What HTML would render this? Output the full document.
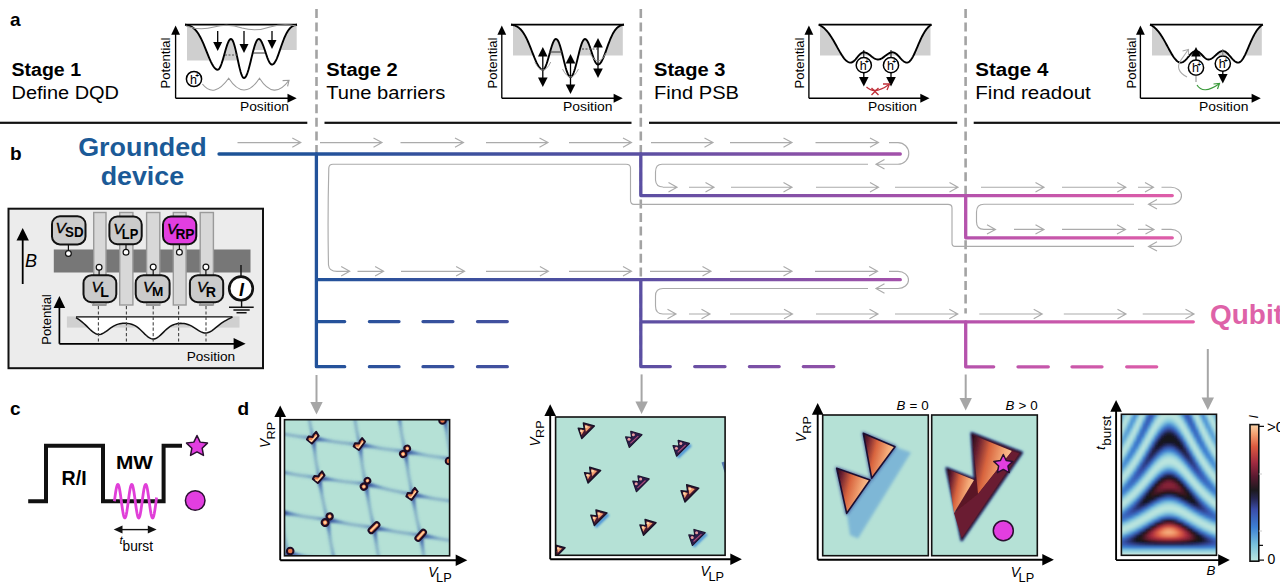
<!DOCTYPE html><html><head><meta charset="utf-8"><style>html,body{margin:0;padding:0;background:#fff;width:1280px;height:585px;overflow:hidden}svg{display:block;position:absolute;left:0;top:0;font-family:'Liberation Sans',sans-serif}</style></head><body>
<svg width="1280" height="585" viewBox="0 0 1280 585">
<defs>
<linearGradient id="lg" gradientUnits="userSpaceOnUse" x1="219" y1="0" x2="1195" y2="0">
<stop offset="0" stop-color="#1c5396"/>
<stop offset="0.1" stop-color="#22529a"/>
<stop offset="0.43" stop-color="#5a4fa2"/>
<stop offset="0.76" stop-color="#b452ac"/>
<stop offset="1" stop-color="#e35ea8"/>
</linearGradient>
<filter id="bl1" x="-20%" y="-20%" width="140%" height="140%"><feGaussianBlur stdDeviation="1.6"/></filter>
<filter id="bl2" x="-20%" y="-20%" width="140%" height="140%"><feGaussianBlur stdDeviation="0.8"/></filter>
</defs>
<text x="10" y="25.5" font-size="19" fill="#000" font-weight="bold">a</text>
<text x="10" y="159.5" font-size="19" fill="#000" font-weight="bold">b</text>
<text x="10" y="414.5" font-size="19" fill="#000" font-weight="bold">c</text>
<text x="237.5" y="414.5" font-size="19" fill="#000" font-weight="bold">d</text>
<text x="11.5" y="75.8" font-size="18.3" fill="#000" font-weight="bold" textLength="69.5" lengthAdjust="spacingAndGlyphs">Stage 1</text>
<text x="11.5" y="98.9" font-size="18.3" fill="#000" textLength="107.5" lengthAdjust="spacingAndGlyphs">Define DQD</text>
<text x="326.3" y="75.8" font-size="18.3" fill="#000" font-weight="bold" textLength="71.5" lengthAdjust="spacingAndGlyphs">Stage 2</text>
<text x="326.3" y="98.9" font-size="18.3" fill="#000" textLength="119" lengthAdjust="spacingAndGlyphs">Tune barriers</text>
<text x="654" y="75.8" font-size="18.3" fill="#000" font-weight="bold" textLength="71.5" lengthAdjust="spacingAndGlyphs">Stage 3</text>
<text x="654" y="98.9" font-size="18.3" fill="#000" textLength="85" lengthAdjust="spacingAndGlyphs">Find PSB</text>
<text x="975.3" y="75.8" font-size="18.3" fill="#000" font-weight="bold" textLength="73" lengthAdjust="spacingAndGlyphs">Stage 4</text>
<text x="975.3" y="98.9" font-size="18.3" fill="#000" textLength="115.5" lengthAdjust="spacingAndGlyphs">Find readout</text>
<rect x="0" y="121.7" width="307.3" height="2.2" fill="#111"/>
<rect x="324.5" y="121.7" width="307.0" height="2.2" fill="#111"/>
<rect x="649" y="121.7" width="308.20000000000005" height="2.2" fill="#111"/>
<rect x="973.7" y="121.7" width="306.29999999999995" height="2.2" fill="#111"/>
<line x1="316.5" y1="9" x2="316.5" y2="366" stroke="#a3a3a3" stroke-width="2.6" stroke-dasharray="9 4.6"/>
<line x1="640.8" y1="9" x2="640.8" y2="366" stroke="#a3a3a3" stroke-width="2.6" stroke-dasharray="9 4.6"/>
<line x1="965.6" y1="9" x2="965.6" y2="313.5" stroke="#a3a3a3" stroke-width="2.6" stroke-dasharray="9 4.6"/>
<path d="M187,24.6 H244 V60.5 H187 Z M244,24.6 H296.7 V50 H244 Z" fill="#cfcfcf"/>
<path d="M185.00,24.60 L185.70,24.71 L186.41,24.85 L187.11,25.01 L187.82,25.19 L188.52,25.41 L189.23,25.66 L189.93,25.94 L190.64,26.27 L191.34,26.64 L192.04,27.07 L192.75,27.55 L193.45,28.09 L194.16,28.69 L194.86,29.36 L195.57,30.10 L196.27,30.92 L196.97,31.81 L197.68,32.79 L198.38,33.84 L199.09,34.99 L199.79,36.21 L200.50,37.52 L201.20,38.90 L201.91,40.36 L202.61,41.89 L203.31,43.49 L204.02,45.14 L204.72,46.84 L205.43,48.58 L206.13,50.34 L206.84,52.11 L207.54,53.87 L208.25,55.62 L208.95,57.34 L209.65,59.00 L210.36,60.60 L211.06,62.12 L211.77,63.53 L212.47,64.83 L213.18,66.00 L213.88,67.03 L214.58,67.91 L215.29,68.62 L215.99,69.16 L216.70,69.51 L217.40,69.68 L218.11,69.63 L218.81,69.17 L219.52,68.31 L220.22,67.06 L220.92,65.46 L221.63,63.55 L222.33,61.39 L223.04,59.03 L223.74,56.55 L224.45,54.00 L225.15,51.46 L225.86,49.01 L226.56,46.70 L227.26,44.60 L227.97,42.77 L228.67,41.26 L229.38,40.11 L230.08,39.36 L230.79,39.02 L231.49,39.14 L232.19,39.81 L232.90,41.02 L233.60,42.73 L234.31,44.91 L235.01,47.47 L235.72,50.36 L236.42,53.47 L237.13,56.74 L237.83,60.05 L238.53,63.32 L239.24,66.46 L239.94,69.36 L240.65,71.94 L241.35,74.14 L242.06,75.89 L242.76,77.13 L243.47,77.84 L244.17,77.99 L244.87,77.66 L245.58,76.90 L246.28,75.72 L246.99,74.16 L247.69,72.24 L248.40,70.01 L249.10,67.52 L249.81,64.82 L250.51,61.98 L251.21,59.07 L251.92,56.14 L252.62,53.26 L253.33,50.50 L254.03,47.93 L254.74,45.59 L255.44,43.54 L256.14,41.84 L256.85,40.51 L257.55,39.58 L258.26,39.09 L258.96,39.02 L259.67,39.33 L260.37,39.98 L261.08,40.96 L261.78,42.24 L262.48,43.78 L263.19,45.55 L263.89,47.48 L264.60,49.54 L265.30,51.65 L266.01,53.78 L266.71,55.84 L267.42,57.80 L268.12,59.59 L268.82,61.16 L269.53,62.48 L270.23,63.50 L270.94,64.20 L271.64,64.55 L272.35,64.57 L273.05,64.29 L273.75,63.73 L274.46,62.91 L275.16,61.84 L275.87,60.54 L276.57,59.05 L277.28,57.38 L277.98,55.57 L278.69,53.65 L279.39,51.65 L280.09,49.61 L280.80,47.56 L281.50,45.52 L282.21,43.52 L282.91,41.59 L283.62,39.73 L284.32,37.98 L285.03,36.34 L285.73,34.82 L286.43,33.42 L287.14,32.15 L287.84,31.00 L288.55,29.97 L289.25,29.07 L289.96,28.27 L290.66,27.58 L291.36,26.98 L292.07,26.47 L292.77,26.04 L293.48,25.67 L294.18,25.37 L294.89,25.11 L295.59,24.91 L296.30,24.74 L297.00,24.60 Z" fill="#fff" stroke="none"/>
<path d="M185.00,24.60 L185.70,24.71 L186.41,24.85 L187.11,25.01 L187.82,25.19 L188.52,25.41 L189.23,25.66 L189.93,25.94 L190.64,26.27 L191.34,26.64 L192.04,27.07 L192.75,27.55 L193.45,28.09 L194.16,28.69 L194.86,29.36 L195.57,30.10 L196.27,30.92 L196.97,31.81 L197.68,32.79 L198.38,33.84 L199.09,34.99 L199.79,36.21 L200.50,37.52 L201.20,38.90 L201.91,40.36 L202.61,41.89 L203.31,43.49 L204.02,45.14 L204.72,46.84 L205.43,48.58 L206.13,50.34 L206.84,52.11 L207.54,53.87 L208.25,55.62 L208.95,57.34 L209.65,59.00 L210.36,60.60 L211.06,62.12 L211.77,63.53 L212.47,64.83 L213.18,66.00 L213.88,67.03 L214.58,67.91 L215.29,68.62 L215.99,69.16 L216.70,69.51 L217.40,69.68 L218.11,69.63 L218.81,69.17 L219.52,68.31 L220.22,67.06 L220.92,65.46 L221.63,63.55 L222.33,61.39 L223.04,59.03 L223.74,56.55 L224.45,54.00 L225.15,51.46 L225.86,49.01 L226.56,46.70 L227.26,44.60 L227.97,42.77 L228.67,41.26 L229.38,40.11 L230.08,39.36 L230.79,39.02 L231.49,39.14 L232.19,39.81 L232.90,41.02 L233.60,42.73 L234.31,44.91 L235.01,47.47 L235.72,50.36 L236.42,53.47 L237.13,56.74 L237.83,60.05 L238.53,63.32 L239.24,66.46 L239.94,69.36 L240.65,71.94 L241.35,74.14 L242.06,75.89 L242.76,77.13 L243.47,77.84 L244.17,77.99 L244.87,77.66 L245.58,76.90 L246.28,75.72 L246.99,74.16 L247.69,72.24 L248.40,70.01 L249.10,67.52 L249.81,64.82 L250.51,61.98 L251.21,59.07 L251.92,56.14 L252.62,53.26 L253.33,50.50 L254.03,47.93 L254.74,45.59 L255.44,43.54 L256.14,41.84 L256.85,40.51 L257.55,39.58 L258.26,39.09 L258.96,39.02 L259.67,39.33 L260.37,39.98 L261.08,40.96 L261.78,42.24 L262.48,43.78 L263.19,45.55 L263.89,47.48 L264.60,49.54 L265.30,51.65 L266.01,53.78 L266.71,55.84 L267.42,57.80 L268.12,59.59 L268.82,61.16 L269.53,62.48 L270.23,63.50 L270.94,64.20 L271.64,64.55 L272.35,64.57 L273.05,64.29 L273.75,63.73 L274.46,62.91 L275.16,61.84 L275.87,60.54 L276.57,59.05 L277.28,57.38 L277.98,55.57 L278.69,53.65 L279.39,51.65 L280.09,49.61 L280.80,47.56 L281.50,45.52 L282.21,43.52 L282.91,41.59 L283.62,39.73 L284.32,37.98 L285.03,36.34 L285.73,34.82 L286.43,33.42 L287.14,32.15 L287.84,31.00 L288.55,29.97 L289.25,29.07 L289.96,28.27 L290.66,27.58 L291.36,26.98 L292.07,26.47 L292.77,26.04 L293.48,25.67 L294.18,25.37 L294.89,25.11 L295.59,24.91 L296.30,24.74 L297.00,24.60" fill="none" stroke="#000" stroke-width="1.9"/>
<line x1="185" y1="24.6" x2="297" y2="24.6" stroke="#000" stroke-width="1.9"/>
<path d="M175.6,98.2 H288.7 M175.6,98.2 V33.5" stroke="#000" stroke-width="1.35" fill="none"/>
<polygon points="175.6,25.5 171.2,34.7 180.0,34.7" fill="#000"/>
<polygon points="296.7,98.2 287.5,93.7 287.5,102.7" fill="#000"/>
<path d="M186,26 Q200,31 214,27 Q228,23 242,28 Q256,32 270,27 Q284,23 296,26" fill="none" stroke="#9a9a9a" stroke-width="1.1"/>
<line x1="217.7" y1="31" x2="217.7" y2="43" stroke="#000" stroke-width="1.3"/>
<polygon points="217.7,51 213.2,42 222.2,42" fill="#000"/>
<line x1="244" y1="31" x2="244" y2="45" stroke="#000" stroke-width="1.3"/>
<polygon points="244,53 239.5,44 248.5,44" fill="#000"/>
<line x1="272" y1="31" x2="272" y2="41" stroke="#000" stroke-width="1.3"/>
<polygon points="272,49 267.5,40 276.5,40" fill="#000"/>
<line x1="225" y1="55" x2="238" y2="55" stroke="#555" stroke-width="1" stroke-dasharray="2 1.5"/>
<line x1="253" y1="53" x2="265" y2="53" stroke="#333" stroke-width="1"/>
<circle cx="194" cy="79" r="7.6" fill="#fff" stroke="#000" stroke-width="1.5"/>
<text x="193.4" y="83.6" font-size="12.5" text-anchor="middle">h</text>
<text x="197.2" y="78.2" font-size="6.5" text-anchor="middle" font-weight="bold">+</text>
<path d="M202.4,84 Q214,98.8 228.7,78.3 Q244,101.7 259.5,78.3 Q274,101 289,80.3" fill="none" stroke="#9a9a9a" stroke-width="1.1"/>
<path d="M282.6,80.6 L289,80.3 L287.6,86.4" fill="none" stroke="#9a9a9a" stroke-width="1.1"/>
<text x="169.79999999999998" y="63" font-size="13.6" fill="#000" text-anchor="middle" textLength="51" lengthAdjust="spacingAndGlyphs" transform="rotate(-90 169.79999999999998 63)">Potential</text>
<text x="240" y="110.8" font-size="13.6" fill="#000" textLength="49" lengthAdjust="spacingAndGlyphs">Position</text>
<path d="M513,24.6 H570 V55.4 H513 Z M570,24.6 H622.8 V55.4 H570 Z" fill="#cfcfcf"/>
<path d="M511.00,24.60 L511.71,24.72 L512.42,24.86 L513.13,25.03 L513.84,25.22 L514.55,25.45 L515.26,25.72 L515.97,26.02 L516.69,26.38 L517.40,26.78 L518.11,27.24 L518.82,27.76 L519.53,28.35 L520.24,29.00 L520.95,29.74 L521.66,30.55 L522.37,31.44 L523.08,32.42 L523.79,33.49 L524.50,34.65 L525.21,35.90 L525.92,37.23 L526.64,38.65 L527.35,40.16 L528.06,41.74 L528.77,43.39 L529.48,45.10 L530.19,46.86 L530.90,48.66 L531.61,50.49 L532.32,52.33 L533.03,54.16 L533.74,55.97 L534.45,57.74 L535.16,59.45 L535.87,61.08 L536.58,62.62 L537.30,64.05 L538.01,65.35 L538.72,66.50 L539.43,67.49 L540.14,68.31 L540.85,68.95 L541.56,69.39 L542.27,69.64 L542.98,69.69 L543.69,69.36 L544.40,68.60 L545.11,67.43 L545.82,65.89 L546.53,64.03 L547.25,61.88 L547.96,59.52 L548.67,57.02 L549.38,54.43 L550.09,51.85 L550.80,49.33 L551.51,46.96 L552.22,44.80 L552.93,42.92 L553.64,41.36 L554.35,40.17 L555.06,39.38 L555.77,39.02 L556.48,39.10 L557.19,39.63 L557.91,40.60 L558.62,41.97 L559.33,43.73 L560.04,45.82 L560.75,48.20 L561.46,50.81 L562.17,53.59 L562.88,56.48 L563.59,59.40 L564.30,62.29 L565.01,65.08 L565.72,67.70 L566.43,70.09 L567.14,72.20 L567.86,73.97 L568.57,75.36 L569.28,76.34 L569.99,76.88 L570.70,76.98 L571.41,76.63 L572.12,75.84 L572.83,74.63 L573.54,73.02 L574.25,71.06 L574.96,68.79 L575.67,66.26 L576.38,63.54 L577.09,60.69 L577.81,57.77 L578.52,54.86 L579.23,52.03 L579.94,49.33 L580.65,46.84 L581.36,44.61 L582.07,42.70 L582.78,41.16 L583.49,40.01 L584.20,39.28 L584.91,39.00 L585.62,39.14 L586.33,39.66 L587.04,40.53 L587.75,41.73 L588.47,43.23 L589.18,44.98 L589.89,46.94 L590.60,49.03 L591.31,51.21 L592.02,53.40 L592.73,55.55 L593.44,57.58 L594.15,59.45 L594.86,61.09 L595.57,62.46 L596.28,63.51 L596.99,64.22 L597.70,64.57 L598.42,64.55 L599.13,64.27 L599.84,63.72 L600.55,62.92 L601.26,61.89 L601.97,60.65 L602.68,59.21 L603.39,57.61 L604.10,55.87 L604.81,54.03 L605.52,52.10 L606.23,50.13 L606.94,48.14 L607.65,46.15 L608.36,44.20 L609.08,42.30 L609.79,40.47 L610.50,38.73 L611.21,37.08 L611.92,35.55 L612.63,34.13 L613.34,32.83 L614.05,31.65 L614.76,30.59 L615.47,29.64 L616.18,28.79 L616.89,28.05 L617.60,27.41 L618.31,26.85 L619.03,26.37 L619.74,25.96 L620.45,25.62 L621.16,25.33 L621.87,25.09 L622.58,24.89 L623.29,24.73 L624.00,24.60 Z" fill="#fff" stroke="none"/>
<path d="M511.00,24.60 L511.71,24.72 L512.42,24.86 L513.13,25.03 L513.84,25.22 L514.55,25.45 L515.26,25.72 L515.97,26.02 L516.69,26.38 L517.40,26.78 L518.11,27.24 L518.82,27.76 L519.53,28.35 L520.24,29.00 L520.95,29.74 L521.66,30.55 L522.37,31.44 L523.08,32.42 L523.79,33.49 L524.50,34.65 L525.21,35.90 L525.92,37.23 L526.64,38.65 L527.35,40.16 L528.06,41.74 L528.77,43.39 L529.48,45.10 L530.19,46.86 L530.90,48.66 L531.61,50.49 L532.32,52.33 L533.03,54.16 L533.74,55.97 L534.45,57.74 L535.16,59.45 L535.87,61.08 L536.58,62.62 L537.30,64.05 L538.01,65.35 L538.72,66.50 L539.43,67.49 L540.14,68.31 L540.85,68.95 L541.56,69.39 L542.27,69.64 L542.98,69.69 L543.69,69.36 L544.40,68.60 L545.11,67.43 L545.82,65.89 L546.53,64.03 L547.25,61.88 L547.96,59.52 L548.67,57.02 L549.38,54.43 L550.09,51.85 L550.80,49.33 L551.51,46.96 L552.22,44.80 L552.93,42.92 L553.64,41.36 L554.35,40.17 L555.06,39.38 L555.77,39.02 L556.48,39.10 L557.19,39.63 L557.91,40.60 L558.62,41.97 L559.33,43.73 L560.04,45.82 L560.75,48.20 L561.46,50.81 L562.17,53.59 L562.88,56.48 L563.59,59.40 L564.30,62.29 L565.01,65.08 L565.72,67.70 L566.43,70.09 L567.14,72.20 L567.86,73.97 L568.57,75.36 L569.28,76.34 L569.99,76.88 L570.70,76.98 L571.41,76.63 L572.12,75.84 L572.83,74.63 L573.54,73.02 L574.25,71.06 L574.96,68.79 L575.67,66.26 L576.38,63.54 L577.09,60.69 L577.81,57.77 L578.52,54.86 L579.23,52.03 L579.94,49.33 L580.65,46.84 L581.36,44.61 L582.07,42.70 L582.78,41.16 L583.49,40.01 L584.20,39.28 L584.91,39.00 L585.62,39.14 L586.33,39.66 L587.04,40.53 L587.75,41.73 L588.47,43.23 L589.18,44.98 L589.89,46.94 L590.60,49.03 L591.31,51.21 L592.02,53.40 L592.73,55.55 L593.44,57.58 L594.15,59.45 L594.86,61.09 L595.57,62.46 L596.28,63.51 L596.99,64.22 L597.70,64.57 L598.42,64.55 L599.13,64.27 L599.84,63.72 L600.55,62.92 L601.26,61.89 L601.97,60.65 L602.68,59.21 L603.39,57.61 L604.10,55.87 L604.81,54.03 L605.52,52.10 L606.23,50.13 L606.94,48.14 L607.65,46.15 L608.36,44.20 L609.08,42.30 L609.79,40.47 L610.50,38.73 L611.21,37.08 L611.92,35.55 L612.63,34.13 L613.34,32.83 L614.05,31.65 L614.76,30.59 L615.47,29.64 L616.18,28.79 L616.89,28.05 L617.60,27.41 L618.31,26.85 L619.03,26.37 L619.74,25.96 L620.45,25.62 L621.16,25.33 L621.87,25.09 L622.58,24.89 L623.29,24.73 L624.00,24.60" fill="none" stroke="#000" stroke-width="1.9"/>
<line x1="511" y1="24.6" x2="624" y2="24.6" stroke="#000" stroke-width="1.9"/>
<path d="M501.8,98.2 H614.8 M501.8,98.2 V33.5" stroke="#000" stroke-width="1.35" fill="none"/>
<polygon points="501.8,25.5 497.40000000000003,34.7 506.2,34.7" fill="#000"/>
<polygon points="622.8,98.2 613.5999999999999,93.7 613.5999999999999,102.7" fill="#000"/>
<line x1="542.8" y1="55" x2="542.8" y2="79" stroke="#000" stroke-width="1.3"/>
<polygon points="542.8,47 538.0,56.5 547.5999999999999,56.5" fill="#000"/>
<polygon points="542.8,87 538.0,77.5 547.5999999999999,77.5" fill="#000"/>
<path d="M534.8,62.0 Q542.8,78.0 550.8,62.0" fill="none" stroke="#999" stroke-width="0.9"/>
<line x1="570.5" y1="62" x2="570.5" y2="86" stroke="#000" stroke-width="1.3"/>
<polygon points="570.5,54 565.7,63.5 575.3,63.5" fill="#000"/>
<polygon points="570.5,94 565.7,84.5 575.3,84.5" fill="#000"/>
<path d="M562.5,69.0 Q570.5,85.0 578.5,69.0" fill="none" stroke="#999" stroke-width="0.9"/>
<line x1="598" y1="46" x2="598" y2="70" stroke="#000" stroke-width="1.3"/>
<polygon points="598,38 593.2,47.5 602.8,47.5" fill="#000"/>
<polygon points="598,78 593.2,68.5 602.8,68.5" fill="#000"/>
<path d="M590,53.0 Q598,69.0 606,53.0" fill="none" stroke="#999" stroke-width="0.9"/>
<line x1="549" y1="52" x2="562" y2="52" stroke="#444" stroke-width="1.1"/>
<line x1="582" y1="49" x2="598" y2="49" stroke="#444" stroke-width="1" stroke-dasharray="2 1.5"/>
<text x="496.6" y="63" font-size="13.6" fill="#000" text-anchor="middle" textLength="51" lengthAdjust="spacingAndGlyphs" transform="rotate(-90 496.6 63)">Potential</text>
<text x="563" y="110.8" font-size="13.6" fill="#000" textLength="49.5" lengthAdjust="spacingAndGlyphs">Position</text>
<path d="M820,24.6 H878 V55.4 H820 Z M878,24.6 H930.5 V55.4 H878 Z" fill="#cfcfcf"/>
<path d="M818.70,24.60 L819.41,24.94 L820.12,25.32 L820.83,25.73 L821.54,26.18 L822.25,26.67 L822.96,27.20 L823.67,27.78 L824.38,28.40 L825.08,29.07 L825.79,29.79 L826.50,30.56 L827.21,31.37 L827.92,32.24 L828.63,33.15 L829.34,34.11 L830.05,35.12 L830.76,36.17 L831.47,37.27 L832.18,38.40 L832.89,39.57 L833.60,40.78 L834.31,42.01 L835.02,43.26 L835.73,44.53 L836.44,45.81 L837.15,47.09 L837.85,48.37 L838.56,49.64 L839.27,50.90 L839.98,52.13 L840.69,53.32 L841.40,54.47 L842.11,55.58 L842.82,56.63 L843.53,57.61 L844.24,58.53 L844.95,59.36 L845.66,60.11 L846.37,60.77 L847.08,61.34 L847.79,61.80 L848.50,62.16 L849.21,62.42 L849.92,62.56 L850.62,62.60 L851.33,62.50 L852.04,62.26 L852.75,61.89 L853.46,61.39 L854.17,60.78 L854.88,60.08 L855.59,59.30 L856.30,58.48 L857.01,57.62 L857.72,56.76 L858.43,55.92 L859.14,55.12 L859.85,54.39 L860.56,53.74 L861.27,53.20 L861.98,52.77 L862.68,52.48 L863.39,52.32 L864.10,52.31 L864.81,52.39 L865.52,52.56 L866.23,52.81 L866.94,53.14 L867.65,53.53 L868.36,53.98 L869.07,54.48 L869.78,55.02 L870.49,55.57 L871.20,56.14 L871.91,56.70 L872.62,57.23 L873.33,57.74 L874.04,58.20 L874.75,58.61 L875.45,58.94 L876.16,59.21 L876.87,59.39 L877.58,59.48 L878.29,59.49 L879.00,59.42 L879.71,59.26 L880.42,59.02 L881.13,58.70 L881.84,58.32 L882.55,57.89 L883.26,57.41 L883.97,56.89 L884.68,56.35 L885.39,55.79 L886.10,55.24 L886.81,54.71 L887.52,54.20 L888.22,53.74 L888.93,53.32 L889.64,52.97 L890.35,52.68 L891.06,52.47 L891.77,52.34 L892.48,52.30 L893.19,52.36 L893.90,52.54 L894.61,52.83 L895.32,53.23 L896.03,53.73 L896.74,54.32 L897.45,54.99 L898.16,55.71 L898.87,56.47 L899.58,57.26 L900.28,58.05 L900.99,58.82 L901.70,59.57 L902.41,60.26 L903.12,60.89 L903.83,61.43 L904.54,61.89 L905.25,62.23 L905.96,62.47 L906.67,62.59 L907.38,62.57 L908.09,62.38 L908.80,62.01 L909.51,61.46 L910.22,60.73 L910.93,59.85 L911.64,58.82 L912.35,57.66 L913.05,56.37 L913.76,54.98 L914.47,53.50 L915.18,51.95 L915.89,50.34 L916.60,48.70 L917.31,47.04 L918.02,45.37 L918.73,43.72 L919.44,42.09 L920.15,40.49 L920.86,38.95 L921.57,37.46 L922.28,36.04 L922.99,34.69 L923.70,33.41 L924.41,32.22 L925.12,31.11 L925.82,30.08 L926.53,29.13 L927.24,28.27 L927.95,27.48 L928.66,26.77 L929.37,26.13 L930.08,25.56 L930.79,25.05 L931.50,24.60 Z" fill="#fff" stroke="none"/>
<path d="M818.70,24.60 L819.41,24.94 L820.12,25.32 L820.83,25.73 L821.54,26.18 L822.25,26.67 L822.96,27.20 L823.67,27.78 L824.38,28.40 L825.08,29.07 L825.79,29.79 L826.50,30.56 L827.21,31.37 L827.92,32.24 L828.63,33.15 L829.34,34.11 L830.05,35.12 L830.76,36.17 L831.47,37.27 L832.18,38.40 L832.89,39.57 L833.60,40.78 L834.31,42.01 L835.02,43.26 L835.73,44.53 L836.44,45.81 L837.15,47.09 L837.85,48.37 L838.56,49.64 L839.27,50.90 L839.98,52.13 L840.69,53.32 L841.40,54.47 L842.11,55.58 L842.82,56.63 L843.53,57.61 L844.24,58.53 L844.95,59.36 L845.66,60.11 L846.37,60.77 L847.08,61.34 L847.79,61.80 L848.50,62.16 L849.21,62.42 L849.92,62.56 L850.62,62.60 L851.33,62.50 L852.04,62.26 L852.75,61.89 L853.46,61.39 L854.17,60.78 L854.88,60.08 L855.59,59.30 L856.30,58.48 L857.01,57.62 L857.72,56.76 L858.43,55.92 L859.14,55.12 L859.85,54.39 L860.56,53.74 L861.27,53.20 L861.98,52.77 L862.68,52.48 L863.39,52.32 L864.10,52.31 L864.81,52.39 L865.52,52.56 L866.23,52.81 L866.94,53.14 L867.65,53.53 L868.36,53.98 L869.07,54.48 L869.78,55.02 L870.49,55.57 L871.20,56.14 L871.91,56.70 L872.62,57.23 L873.33,57.74 L874.04,58.20 L874.75,58.61 L875.45,58.94 L876.16,59.21 L876.87,59.39 L877.58,59.48 L878.29,59.49 L879.00,59.42 L879.71,59.26 L880.42,59.02 L881.13,58.70 L881.84,58.32 L882.55,57.89 L883.26,57.41 L883.97,56.89 L884.68,56.35 L885.39,55.79 L886.10,55.24 L886.81,54.71 L887.52,54.20 L888.22,53.74 L888.93,53.32 L889.64,52.97 L890.35,52.68 L891.06,52.47 L891.77,52.34 L892.48,52.30 L893.19,52.36 L893.90,52.54 L894.61,52.83 L895.32,53.23 L896.03,53.73 L896.74,54.32 L897.45,54.99 L898.16,55.71 L898.87,56.47 L899.58,57.26 L900.28,58.05 L900.99,58.82 L901.70,59.57 L902.41,60.26 L903.12,60.89 L903.83,61.43 L904.54,61.89 L905.25,62.23 L905.96,62.47 L906.67,62.59 L907.38,62.57 L908.09,62.38 L908.80,62.01 L909.51,61.46 L910.22,60.73 L910.93,59.85 L911.64,58.82 L912.35,57.66 L913.05,56.37 L913.76,54.98 L914.47,53.50 L915.18,51.95 L915.89,50.34 L916.60,48.70 L917.31,47.04 L918.02,45.37 L918.73,43.72 L919.44,42.09 L920.15,40.49 L920.86,38.95 L921.57,37.46 L922.28,36.04 L922.99,34.69 L923.70,33.41 L924.41,32.22 L925.12,31.11 L925.82,30.08 L926.53,29.13 L927.24,28.27 L927.95,27.48 L928.66,26.77 L929.37,26.13 L930.08,25.56 L930.79,25.05 L931.50,24.60" fill="none" stroke="#000" stroke-width="1.9"/>
<line x1="818.7" y1="24.6" x2="931.5" y2="24.6" stroke="#000" stroke-width="1.9"/>
<path d="M808.9,98.2 H921.5 M808.9,98.2 V33.5" stroke="#000" stroke-width="1.35" fill="none"/>
<polygon points="808.9,25.5 804.5,34.7 813.3,34.7" fill="#000"/>
<polygon points="929.5,98.2 920.3,93.7 920.3,102.7" fill="#000"/>
<line x1="863.8" y1="50" x2="863.8" y2="58" stroke="#000" stroke-width="1"/>
<circle cx="863.8" cy="65.2" r="7.6" fill="#fff" stroke="#000" stroke-width="1.5"/>
<text x="863.1999999999999" y="69.8" font-size="12.5" text-anchor="middle">h</text>
<text x="867.0" y="64.4" font-size="6.5" text-anchor="middle" font-weight="bold">+</text>
<line x1="863.8" y1="73" x2="863.8" y2="79" stroke="#000" stroke-width="1.3"/>
<polygon points="863.8,86.5 859.0,77 868.5999999999999,77" fill="#000"/>
<line x1="891" y1="50" x2="891" y2="58" stroke="#000" stroke-width="1"/>
<circle cx="891" cy="65.2" r="7.6" fill="#fff" stroke="#000" stroke-width="1.5"/>
<text x="890.4" y="69.8" font-size="12.5" text-anchor="middle">h</text>
<text x="894.2" y="64.4" font-size="6.5" text-anchor="middle" font-weight="bold">+</text>
<line x1="891" y1="73" x2="891" y2="79" stroke="#000" stroke-width="1.3"/>
<polygon points="891,86.5 886.2,77 895.8,77" fill="#000"/>
<path d="M866.5,87 Q875,95 889,84.5" fill="none" stroke="#c0303a" stroke-width="1.3"/>
<path d="M883,84 L889.5,84 L887,90" fill="none" stroke="#c0303a" stroke-width="1.3"/>
<path d="M871.5,88 L878.5,95 M878.5,88 L871.5,95" stroke="#c0303a" stroke-width="1.4"/>
<text x="804.1" y="63" font-size="13.6" fill="#000" text-anchor="middle" textLength="51" lengthAdjust="spacingAndGlyphs" transform="rotate(-90 804.1 63)">Potential</text>
<text x="868" y="110.8" font-size="13.6" fill="#000" textLength="49" lengthAdjust="spacingAndGlyphs">Position</text>
<path d="M1152,24.6 H1208 V55.4 H1152 Z M1208,24.6 H1261.8 V55.4 H1208 Z" fill="#cfcfcf"/>
<path d="M1150.00,24.60 L1150.71,24.95 L1151.42,25.34 L1152.13,25.77 L1152.84,26.24 L1153.55,26.75 L1154.26,27.31 L1154.97,27.92 L1155.68,28.57 L1156.38,29.28 L1157.09,30.03 L1157.80,30.84 L1158.51,31.70 L1159.22,32.62 L1159.93,33.58 L1160.64,34.60 L1161.35,35.66 L1162.06,36.77 L1162.77,37.93 L1163.48,39.12 L1164.19,40.35 L1164.90,41.61 L1165.61,42.90 L1166.32,44.20 L1167.03,45.52 L1167.74,46.85 L1168.45,48.17 L1169.15,49.49 L1169.86,50.78 L1170.57,52.05 L1171.28,53.29 L1171.99,54.48 L1172.70,55.62 L1173.41,56.70 L1174.12,57.71 L1174.83,58.65 L1175.54,59.49 L1176.25,60.25 L1176.96,60.91 L1177.67,61.47 L1178.38,61.92 L1179.09,62.26 L1179.80,62.48 L1180.51,62.59 L1181.22,62.58 L1181.92,62.44 L1182.63,62.19 L1183.34,61.82 L1184.05,61.34 L1184.76,60.76 L1185.47,60.10 L1186.18,59.37 L1186.89,58.58 L1187.60,57.75 L1188.31,56.91 L1189.02,56.06 L1189.73,55.23 L1190.44,54.43 L1191.15,53.68 L1191.86,53.00 L1192.57,52.40 L1193.28,51.90 L1193.98,51.50 L1194.69,51.21 L1195.40,51.04 L1196.11,51.00 L1196.82,51.09 L1197.53,51.31 L1198.24,51.66 L1198.95,52.12 L1199.66,52.68 L1200.37,53.32 L1201.08,54.02 L1201.79,54.76 L1202.50,55.51 L1203.21,56.26 L1203.92,56.98 L1204.63,57.64 L1205.34,58.23 L1206.05,58.72 L1206.75,59.10 L1207.46,59.36 L1208.17,59.49 L1208.88,59.48 L1209.59,59.38 L1210.30,59.17 L1211.01,58.87 L1211.72,58.48 L1212.43,58.01 L1213.14,57.48 L1213.85,56.89 L1214.56,56.26 L1215.27,55.61 L1215.98,54.94 L1216.69,54.29 L1217.40,53.66 L1218.11,53.07 L1218.82,52.53 L1219.52,52.05 L1220.23,51.66 L1220.94,51.35 L1221.65,51.13 L1222.36,51.02 L1223.07,51.01 L1223.78,51.12 L1224.49,51.34 L1225.20,51.68 L1225.91,52.13 L1226.62,52.67 L1227.33,53.30 L1228.04,54.01 L1228.75,54.77 L1229.46,55.57 L1230.17,56.41 L1230.88,57.24 L1231.58,58.07 L1232.29,58.88 L1233.00,59.64 L1233.71,60.34 L1234.42,60.96 L1235.13,61.50 L1235.84,61.94 L1236.55,62.27 L1237.26,62.49 L1237.97,62.59 L1238.68,62.56 L1239.39,62.34 L1240.10,61.95 L1240.81,61.37 L1241.52,60.64 L1242.23,59.74 L1242.94,58.70 L1243.65,57.52 L1244.35,56.23 L1245.06,54.83 L1245.77,53.35 L1246.48,51.80 L1247.19,50.20 L1247.90,48.56 L1248.61,46.90 L1249.32,45.24 L1250.03,43.60 L1250.74,41.98 L1251.45,40.39 L1252.16,38.86 L1252.87,37.38 L1253.58,35.97 L1254.29,34.62 L1255.00,33.36 L1255.71,32.17 L1256.42,31.07 L1257.12,30.05 L1257.83,29.11 L1258.54,28.25 L1259.25,27.47 L1259.96,26.76 L1260.67,26.12 L1261.38,25.55 L1262.09,25.05 L1262.80,24.60 Z" fill="#fff" stroke="none"/>
<path d="M1150.00,24.60 L1150.71,24.95 L1151.42,25.34 L1152.13,25.77 L1152.84,26.24 L1153.55,26.75 L1154.26,27.31 L1154.97,27.92 L1155.68,28.57 L1156.38,29.28 L1157.09,30.03 L1157.80,30.84 L1158.51,31.70 L1159.22,32.62 L1159.93,33.58 L1160.64,34.60 L1161.35,35.66 L1162.06,36.77 L1162.77,37.93 L1163.48,39.12 L1164.19,40.35 L1164.90,41.61 L1165.61,42.90 L1166.32,44.20 L1167.03,45.52 L1167.74,46.85 L1168.45,48.17 L1169.15,49.49 L1169.86,50.78 L1170.57,52.05 L1171.28,53.29 L1171.99,54.48 L1172.70,55.62 L1173.41,56.70 L1174.12,57.71 L1174.83,58.65 L1175.54,59.49 L1176.25,60.25 L1176.96,60.91 L1177.67,61.47 L1178.38,61.92 L1179.09,62.26 L1179.80,62.48 L1180.51,62.59 L1181.22,62.58 L1181.92,62.44 L1182.63,62.19 L1183.34,61.82 L1184.05,61.34 L1184.76,60.76 L1185.47,60.10 L1186.18,59.37 L1186.89,58.58 L1187.60,57.75 L1188.31,56.91 L1189.02,56.06 L1189.73,55.23 L1190.44,54.43 L1191.15,53.68 L1191.86,53.00 L1192.57,52.40 L1193.28,51.90 L1193.98,51.50 L1194.69,51.21 L1195.40,51.04 L1196.11,51.00 L1196.82,51.09 L1197.53,51.31 L1198.24,51.66 L1198.95,52.12 L1199.66,52.68 L1200.37,53.32 L1201.08,54.02 L1201.79,54.76 L1202.50,55.51 L1203.21,56.26 L1203.92,56.98 L1204.63,57.64 L1205.34,58.23 L1206.05,58.72 L1206.75,59.10 L1207.46,59.36 L1208.17,59.49 L1208.88,59.48 L1209.59,59.38 L1210.30,59.17 L1211.01,58.87 L1211.72,58.48 L1212.43,58.01 L1213.14,57.48 L1213.85,56.89 L1214.56,56.26 L1215.27,55.61 L1215.98,54.94 L1216.69,54.29 L1217.40,53.66 L1218.11,53.07 L1218.82,52.53 L1219.52,52.05 L1220.23,51.66 L1220.94,51.35 L1221.65,51.13 L1222.36,51.02 L1223.07,51.01 L1223.78,51.12 L1224.49,51.34 L1225.20,51.68 L1225.91,52.13 L1226.62,52.67 L1227.33,53.30 L1228.04,54.01 L1228.75,54.77 L1229.46,55.57 L1230.17,56.41 L1230.88,57.24 L1231.58,58.07 L1232.29,58.88 L1233.00,59.64 L1233.71,60.34 L1234.42,60.96 L1235.13,61.50 L1235.84,61.94 L1236.55,62.27 L1237.26,62.49 L1237.97,62.59 L1238.68,62.56 L1239.39,62.34 L1240.10,61.95 L1240.81,61.37 L1241.52,60.64 L1242.23,59.74 L1242.94,58.70 L1243.65,57.52 L1244.35,56.23 L1245.06,54.83 L1245.77,53.35 L1246.48,51.80 L1247.19,50.20 L1247.90,48.56 L1248.61,46.90 L1249.32,45.24 L1250.03,43.60 L1250.74,41.98 L1251.45,40.39 L1252.16,38.86 L1252.87,37.38 L1253.58,35.97 L1254.29,34.62 L1255.00,33.36 L1255.71,32.17 L1256.42,31.07 L1257.12,30.05 L1257.83,29.11 L1258.54,28.25 L1259.25,27.47 L1259.96,26.76 L1260.67,26.12 L1261.38,25.55 L1262.09,25.05 L1262.80,24.60" fill="none" stroke="#000" stroke-width="1.9"/>
<line x1="1150" y1="24.6" x2="1262.8" y2="24.6" stroke="#000" stroke-width="1.9"/>
<path d="M1140.4,98.2 H1252.8 M1140.4,98.2 V33.5" stroke="#000" stroke-width="1.35" fill="none"/>
<polygon points="1140.4,25.5 1136.0,34.7 1144.8000000000002,34.7" fill="#000"/>
<polygon points="1260.8,98.2 1251.6,93.7 1251.6,102.7" fill="#000"/>
<circle cx="1196" cy="67.7" r="7.6" fill="#fff" stroke="#000" stroke-width="1.5"/>
<text x="1195.4" y="72.3" font-size="12.5" text-anchor="middle">h</text>
<text x="1199.2" y="66.9" font-size="6.5" text-anchor="middle" font-weight="bold">+</text>
<circle cx="1222.8" cy="63.6" r="7.6" fill="#fff" stroke="#000" stroke-width="1.5"/>
<text x="1222.2" y="68.2" font-size="12.5" text-anchor="middle">h</text>
<text x="1226.0" y="62.800000000000004" font-size="6.5" text-anchor="middle" font-weight="bold">+</text>
<line x1="1196" y1="60" x2="1196" y2="55" stroke="#000" stroke-width="1.3"/>
<polygon points="1196,47 1191.2,56.5 1200.8,56.5" fill="#000"/>
<line x1="1222.8" y1="49" x2="1222.8" y2="56" stroke="#777" stroke-width="1"/>
<line x1="1222.8" y1="71" x2="1222.8" y2="76" stroke="#000" stroke-width="1.3"/>
<polygon points="1222.8,83.5 1218,74 1227.6,74" fill="#000"/>
<line x1="1196" y1="75.5" x2="1196" y2="82" stroke="#888" stroke-width="1"/>
<path d="M1197,85 Q1203,95 1219,84" fill="none" stroke="#3a9a3a" stroke-width="1.2"/>
<path d="M1213.5,84 L1219.5,83.5 L1217.5,89" fill="none" stroke="#3a9a3a" stroke-width="1.2"/>
<path d="M1187,77 Q1174,70 1181,60 L1188,50" fill="none" stroke="#aaa" stroke-width="1.1"/>
<path d="M1182.5,51 L1188.5,49.5 L1188.5,56" fill="none" stroke="#aaa" stroke-width="1.1"/>
<text x="1135.6" y="63" font-size="13.6" fill="#000" text-anchor="middle" textLength="51" lengthAdjust="spacingAndGlyphs" transform="rotate(-90 1135.6 63)">Potential</text>
<text x="1199" y="110.8" font-size="13.6" fill="#000" textLength="49.40000000000009" lengthAdjust="spacingAndGlyphs">Position</text>
<text x="142.4" y="155.9" font-size="26.6" fill="#1b5a97" font-weight="bold" text-anchor="middle" textLength="128.5" lengthAdjust="spacingAndGlyphs">Grounded</text>
<text x="142.4" y="185.2" font-size="26.6" fill="#1b5a97" font-weight="bold" text-anchor="middle" textLength="83.5" lengthAdjust="spacingAndGlyphs">device</text>
<text x="1210" y="324.2" font-size="27.2" fill="#de62a8" font-weight="bold" textLength="73" lengthAdjust="spacingAndGlyphs">Qubit</text>
<path d="M237.5,142.6 H300.8 M292.3,137.9 L300.8,142.6 L292.3,147.29999999999998 M320,142.6 H382 M373.5,137.9 L382,142.6 L373.5,147.29999999999998 M400.5,142.6 H463.5 M455.0,137.9 L463.5,142.6 L455.0,147.29999999999998 M486,142.6 H548 M539.5,137.9 L548,142.6 L539.5,147.29999999999998 M569,142.6 H631.5 M623.0,137.9 L631.5,142.6 L623.0,147.29999999999998 M651,142.6 H713 M704.5,137.9 L713,142.6 L704.5,147.29999999999998 M730,142.6 H792 M783.5,137.9 L792,142.6 L783.5,147.29999999999998 M815.5,142.6 H878.5 M870.0,137.9 L878.5,142.6 L870.0,147.29999999999998 " stroke="#ababab" stroke-width="1.15" fill="none"/>
<path d="M889,142.6 H898 A10.8,10.8 0 0 1 898,164.2 H876 M884.5,159.5 L876,164.2 L884.5,168.89999999999998 M868,164.2 H662 Q655.5,164.2 655.5,172 V180 Q656,187 663,187" stroke="#ababab" stroke-width="1.15" fill="none"/>
<path d="M663,187.2 H677 M668.5,182.5 L677,187.2 L668.5,191.89999999999998 M689,187.2 H714 M705.5,182.5 L714,187.2 L705.5,191.89999999999998 M731,187.2 H792 M783.5,182.5 L792,187.2 L783.5,191.89999999999998 M816,187.2 H878.5 M870.0,182.5 L878.5,187.2 L870.0,191.89999999999998 M895,187.2 H958 M949.5,182.5 L958,187.2 L949.5,191.89999999999998 M981,187.2 H1044 M1035.5,182.5 L1044,187.2 L1035.5,191.89999999999998 M1062,187.2 H1125.8 M1117.3,182.5 L1125.8,187.2 L1117.3,191.89999999999998 M1138,187.2 H1153.5 M1145.0,182.5 L1153.5,187.2 L1145.0,191.89999999999998 " stroke="#ababab" stroke-width="1.15" fill="none"/>
<path d="M1161.5,187.2 H1171 A10.5,8.5 0 0 1 1171,204.2 H1148.5 M1157.0,199.5 L1148.5,204.2 L1157.0,208.89999999999998 M1134,204.2 H984 Q976.5,204.2 976.5,212 V221.5 Q976.5,229.4 984,229.4" stroke="#ababab" stroke-width="1.15" fill="none"/>
<path d="M984,229.4 H995.5 M987.0,224.70000000000002 L995.5,229.4 L987.0,234.1 M1014,229.4 H1044 M1035.5,224.70000000000002 L1044,229.4 L1035.5,234.1 M1062,229.4 H1125.5 M1117.0,224.70000000000002 L1125.5,229.4 L1117.0,234.1 M1138,229.4 H1154 M1145.5,224.70000000000002 L1154,229.4 L1145.5,234.1 " stroke="#ababab" stroke-width="1.15" fill="none"/>
<path d="M1161.5,229.4 H1171 A10.5,8.5 0 0 1 1171,246.4 H1148.5 M1157.0,241.70000000000002 L1148.5,246.4 L1157.0,251.1 M1134,246.4 H955 Q952,246.4 952,243 V208 Q952,204.4 948,204.4 H634 Q630.5,204.4 630.5,200 V168 Q630.5,164.2 626,164.2 H333 Q329,164.2 328.8,168 Q327.5,220 328.5,265 Q329,271.3 337,271.3" stroke="#ababab" stroke-width="1.15" fill="none"/>
<path d="M337,271.3 H349.7 M341.2,266.6 L349.7,271.3 L341.2,276.0 M357.5,271.3 H383.6 M375.1,266.6 L383.6,271.3 L375.1,276.0 M401,271.3 H464.6 M456.1,266.6 L464.6,271.3 L456.1,276.0 M486,271.3 H548.4 M539.9,266.6 L548.4,271.3 L539.9,276.0 M569,271.3 H631.5 M623.0,266.6 L631.5,271.3 L623.0,276.0 M650,271.3 H711 M702.5,266.6 L711,271.3 L702.5,276.0 M730,271.3 H792 M783.5,266.6 L792,271.3 L783.5,276.0 M815,271.3 H877.6 M869.1,266.6 L877.6,271.3 L869.1,276.0 " stroke="#ababab" stroke-width="1.15" fill="none"/>
<path d="M889,271.3 H898 A10.5,8.6 0 0 1 898,288.5 H876 M884.5,283.8 L876,288.5 L884.5,293.2 M868,288.5 H663 Q655.5,288.5 655.5,296 V306 Q655.5,314 663,314" stroke="#ababab" stroke-width="1.15" fill="none"/>
<path d="M663,314 H676 M667.5,309.3 L676,314 L667.5,318.7 M689,314 H710 M701.5,309.3 L710,314 L701.5,318.7 M730,314 H792.5 M784.0,309.3 L792.5,314 L784.0,318.7 M816,314 H878 M869.5,309.3 L878,314 L869.5,318.7 M895,314 H957.8 M949.3,309.3 L957.8,314 L949.3,318.7 M979.3,314 H1042.2 M1033.7,309.3 L1042.2,314 L1033.7,318.7 M1063.8,314 H1126 M1117.5,309.3 L1126,314 L1117.5,318.7 M1142.7,314 H1194 M1185.5,309.3 L1194,314 L1185.5,318.7 " stroke="#ababab" stroke-width="1.15" fill="none"/>
<path d="M219,154 H900.3" stroke="url(#lg)" stroke-width="3.3" fill="none" stroke-linecap="round" stroke-linejoin="round"/>
<path d="M316.4,154 V366.7 H344.7 M316.4,279.7 H900.3 M316.4,321.6 H344.7" stroke="url(#lg)" stroke-width="3.3" fill="none" stroke-linecap="round" stroke-linejoin="round"/>
<path d="M369.4,321.6 H399 M423,321.6 H452.9 M477.5,321.6 H507.3 M369.4,366.7 H399 M423,366.7 H452.9 M477.5,366.7 H507.3 " stroke="url(#lg)" stroke-width="3.3" fill="none" stroke-linecap="round" stroke-linejoin="round"/>
<path d="M640.8,154 V195.6 H1172.3 M640.8,279.7 V366.6 H670.3 M640.8,321.8 H1193.3" stroke="url(#lg)" stroke-width="3.3" fill="none" stroke-linecap="round" stroke-linejoin="round"/>
<path d="M694.7,366.6 H725 M749.4,366.6 H779.2 M803.3,366.6 H833.8 " stroke="url(#lg)" stroke-width="3.3" fill="none" stroke-linecap="round" stroke-linejoin="round"/>
<path d="M965.7,195.6 V237.8 H1172.3 M965.7,321.8 V366.8 H993.7" stroke="url(#lg)" stroke-width="3.3" fill="none" stroke-linecap="round" stroke-linejoin="round"/>
<path d="M1018,366.8 H1048.3 M1072,366.8 H1102 M1126.7,366.8 H1156.7 " stroke="url(#lg)" stroke-width="3.3" fill="none" stroke-linecap="round" stroke-linejoin="round"/>
<line x1="316.5" y1="375" x2="316.5" y2="406.6" stroke="#a6a6a6" stroke-width="2"/>
<polygon points="316.5,414.6 310.3,402.1 322.7,402.1" fill="#a6a6a6"/>
<line x1="641.6" y1="374.4" x2="641.6" y2="406" stroke="#a6a6a6" stroke-width="2"/>
<polygon points="641.6,414 635.4,401.5 647.8000000000001,401.5" fill="#a6a6a6"/>
<line x1="965.7" y1="374.5" x2="965.7" y2="402.4" stroke="#a6a6a6" stroke-width="2"/>
<polygon points="965.7,410.4 959.5,397.9 971.9000000000001,397.9" fill="#a6a6a6"/>
<line x1="1207.8" y1="349" x2="1207.8" y2="402" stroke="#a6a6a6" stroke-width="2"/>
<polygon points="1207.8,410 1201.6,397.5 1214.0,397.5" fill="#a6a6a6"/>
<rect x="8.5" y="208.7" width="254.5" height="159.5" fill="#ececec" stroke="#111" stroke-width="2"/>
<line x1="22.7" y1="284" x2="22.7" y2="238" stroke="#000" stroke-width="1.8"/>
<polygon points="22.7,228 16.5,240.5 28.9,240.5" fill="#000"/>
<text x="25" y="266.5" font-size="18" fill="#000" font-style="italic">B</text>
<rect x="53.8" y="249.5" width="196.7" height="23" fill="#777"/>
<rect x="93.7" y="212.5" width="12.299999999999997" height="92.5" fill="#d8d8d8" stroke="#9a9a9a" stroke-width="1.4"/>
<rect x="119.7" y="212.5" width="13.200000000000003" height="92.5" fill="#d8d8d8" stroke="#9a9a9a" stroke-width="1.4"/>
<rect x="146.6" y="212.5" width="13.200000000000017" height="92.5" fill="#d8d8d8" stroke="#9a9a9a" stroke-width="1.4"/>
<rect x="173.3" y="212.5" width="12.799999999999983" height="92.5" fill="#d8d8d8" stroke="#9a9a9a" stroke-width="1.4"/>
<rect x="200.2" y="212.5" width="13.200000000000017" height="92.5" fill="#d8d8d8" stroke="#9a9a9a" stroke-width="1.4"/>
<rect x="52" y="216.3" width="33.5" height="28.099999999999994" rx="8" ry="8" fill="#cbcbcb" stroke="#111" stroke-width="2"/>
<text x="55.6" y="232.5" font-size="15.5" font-style="italic" stroke="#000" stroke-width="0.35">V</text>
<text x="65.0" y="236.70000000000002" font-size="13.8" font-weight="bold" textLength="18.5" lengthAdjust="spacingAndGlyphs">SD</text>
<line x1="68.4" y1="244.4" x2="68.4" y2="253.5" stroke="#111" stroke-width="1.2"/>
<circle cx="68.4" cy="253.5" r="2.9" fill="#fff" stroke="#111" stroke-width="1.2"/>
<rect x="109.4" y="216.5" width="32.29999999999998" height="27.69999999999999" rx="8" ry="8" fill="#cbcbcb" stroke="#111" stroke-width="2"/>
<text x="113.30000000000001" y="233.8" font-size="15.5" font-style="italic" stroke="#000" stroke-width="0.35">V</text>
<text x="121.80000000000001" y="238.5" font-size="13.8" font-weight="bold" textLength="16.5" lengthAdjust="spacingAndGlyphs">LP</text>
<line x1="126" y1="244.2" x2="126" y2="252.3" stroke="#111" stroke-width="1.2"/>
<circle cx="126" cy="252.3" r="2.9" fill="#fff" stroke="#111" stroke-width="1.2"/>
<rect x="163" y="216.5" width="33.30000000000001" height="27.69999999999999" rx="8" ry="8" fill="#e23ee0" stroke="#111" stroke-width="2"/>
<text x="166.89999999999998" y="233.8" font-size="15.5" font-style="italic" stroke="#000" stroke-width="0.35">V</text>
<text x="175.39999999999998" y="238.5" font-size="13.8" font-weight="bold" textLength="19" lengthAdjust="spacingAndGlyphs">RP</text>
<line x1="179.4" y1="244.2" x2="179.4" y2="252.3" stroke="#111" stroke-width="1.2"/>
<circle cx="179.4" cy="252.3" r="2.9" fill="#fff" stroke="#111" stroke-width="1.2"/>
<rect x="83.5" y="275.2" width="32.8" height="27.0" rx="8" ry="8" fill="#cbcbcb" stroke="#111" stroke-width="2"/>
<text x="91.5" y="291.7" font-size="15.5" font-style="italic" stroke="#000" stroke-width="0.35">V</text>
<text x="100.3" y="296.9" font-size="14.2" font-weight="bold">L</text>
<line x1="99.1" y1="275.2" x2="99.1" y2="267.2" stroke="#111" stroke-width="1.2"/>
<circle cx="99.1" cy="267.2" r="2.9" fill="#fff" stroke="#111" stroke-width="1.2"/>
<rect x="135.7" y="275.2" width="33.900000000000006" height="27.0" rx="8" ry="8" fill="#cbcbcb" stroke="#111" stroke-width="2"/>
<text x="143.09999999999997" y="291.7" font-size="15.5" font-style="italic" stroke="#000" stroke-width="0.35">V</text>
<text x="151.89999999999998" y="296.2" font-size="13.6" font-weight="bold">M</text>
<line x1="153.2" y1="275.2" x2="153.2" y2="267.1" stroke="#111" stroke-width="1.2"/>
<circle cx="153.2" cy="267.1" r="2.9" fill="#fff" stroke="#111" stroke-width="1.2"/>
<rect x="189.9" y="275.2" width="33.29999999999998" height="27.0" rx="8" ry="8" fill="#cbcbcb" stroke="#111" stroke-width="2"/>
<text x="197.0" y="291.7" font-size="15.5" font-style="italic" stroke="#000" stroke-width="0.35">V</text>
<text x="205.79999999999998" y="296.9" font-size="14.2" font-weight="bold">R</text>
<line x1="205.9" y1="275.2" x2="205.9" y2="267.1" stroke="#111" stroke-width="1.2"/>
<circle cx="205.9" cy="267.1" r="2.9" fill="#fff" stroke="#111" stroke-width="1.2"/>
<rect x="92.1" y="303.5" width="14" height="2.5" fill="#999"/>
<rect x="146.2" y="303.5" width="14" height="2.5" fill="#999"/>
<rect x="198.9" y="303.5" width="14" height="2.5" fill="#999"/>
<line x1="241" y1="264.9" x2="241" y2="276" stroke="#111" stroke-width="1.4"/>
<circle cx="241" cy="288.4" r="11.8" fill="#fff" stroke="#111" stroke-width="2.6"/>
<text x="241.5" y="295.5" font-size="18" font-style="italic" font-weight="bold" text-anchor="middle">I</text>
<line x1="241.6" y1="300.5" x2="241.6" y2="307.3" stroke="#111" stroke-width="1.4"/>
<path d="M229,307.3 H253.7 M233.4,310 H249.7 M236.5,312.7 H246.6" stroke="#111" stroke-width="1.4"/>
<rect x="66.9" y="316.4" width="172.6" height="11.2" fill="#d0d0d0"/>
<path d="M76.00,317.60 L77.56,318.63 L79.13,319.71 L80.69,320.87 L82.26,322.11 L83.82,323.46 L85.38,324.89 L86.95,326.40 L88.51,327.94 L90.08,329.45 L91.64,330.88 L93.20,332.15 L94.77,333.19 L96.33,333.94 L97.90,334.36 L99.46,334.43 L101.02,334.15 L102.59,333.57 L104.15,332.72 L105.72,331.68 L107.28,330.53 L108.84,329.35 L110.41,328.19 L111.97,327.11 L113.54,326.14 L115.10,325.32 L116.66,324.65 L118.23,324.12 L119.79,323.73 L121.36,323.45 L122.92,323.29 L124.48,323.22 L126.05,323.25 L127.61,323.38 L129.18,323.62 L130.74,323.98 L132.30,324.48 L133.87,325.13 L135.43,325.96 L137.00,326.97 L138.56,328.16 L140.12,329.51 L141.69,330.99 L143.25,332.54 L144.82,334.09 L146.38,335.56 L147.94,336.86 L149.51,337.90 L151.07,338.63 L152.64,338.97 L154.20,338.92 L155.76,338.46 L157.33,337.64 L158.89,336.52 L160.46,335.16 L162.02,333.66 L163.58,332.10 L165.15,330.57 L166.71,329.12 L168.28,327.82 L169.84,326.68 L171.40,325.72 L172.97,324.95 L174.53,324.34 L176.10,323.90 L177.66,323.60 L179.22,323.42 L180.79,323.36 L182.35,323.40 L183.92,323.56 L185.48,323.83 L187.04,324.22 L188.61,324.74 L190.17,325.39 L191.74,326.17 L193.30,327.07 L194.86,328.05 L196.43,329.09 L197.99,330.12 L199.56,331.08 L201.12,331.90 L202.68,332.53 L204.25,332.91 L205.81,333.01 L207.38,332.81 L208.94,332.31 L210.50,331.54 L212.07,330.56 L213.63,329.41 L215.20,328.16 L216.76,326.88 L218.32,325.60 L219.89,324.38 L221.45,323.23 L223.02,322.17 L224.58,321.19 L226.14,320.29 L227.71,319.44 L229.27,318.63 L230.84,317.84 L232.40,317.04 Z" fill="#fff"/>
<path d="M76.00,317.60 L77.56,318.63 L79.13,319.71 L80.69,320.87 L82.26,322.11 L83.82,323.46 L85.38,324.89 L86.95,326.40 L88.51,327.94 L90.08,329.45 L91.64,330.88 L93.20,332.15 L94.77,333.19 L96.33,333.94 L97.90,334.36 L99.46,334.43 L101.02,334.15 L102.59,333.57 L104.15,332.72 L105.72,331.68 L107.28,330.53 L108.84,329.35 L110.41,328.19 L111.97,327.11 L113.54,326.14 L115.10,325.32 L116.66,324.65 L118.23,324.12 L119.79,323.73 L121.36,323.45 L122.92,323.29 L124.48,323.22 L126.05,323.25 L127.61,323.38 L129.18,323.62 L130.74,323.98 L132.30,324.48 L133.87,325.13 L135.43,325.96 L137.00,326.97 L138.56,328.16 L140.12,329.51 L141.69,330.99 L143.25,332.54 L144.82,334.09 L146.38,335.56 L147.94,336.86 L149.51,337.90 L151.07,338.63 L152.64,338.97 L154.20,338.92 L155.76,338.46 L157.33,337.64 L158.89,336.52 L160.46,335.16 L162.02,333.66 L163.58,332.10 L165.15,330.57 L166.71,329.12 L168.28,327.82 L169.84,326.68 L171.40,325.72 L172.97,324.95 L174.53,324.34 L176.10,323.90 L177.66,323.60 L179.22,323.42 L180.79,323.36 L182.35,323.40 L183.92,323.56 L185.48,323.83 L187.04,324.22 L188.61,324.74 L190.17,325.39 L191.74,326.17 L193.30,327.07 L194.86,328.05 L196.43,329.09 L197.99,330.12 L199.56,331.08 L201.12,331.90 L202.68,332.53 L204.25,332.91 L205.81,333.01 L207.38,332.81 L208.94,332.31 L210.50,331.54 L212.07,330.56 L213.63,329.41 L215.20,328.16 L216.76,326.88 L218.32,325.60 L219.89,324.38 L221.45,323.23 L223.02,322.17 L224.58,321.19 L226.14,320.29 L227.71,319.44 L229.27,318.63 L230.84,317.84 L232.40,317.04" fill="none" stroke="#111" stroke-width="1.5"/>
<line x1="76" y1="316.8" x2="232.4" y2="316.8" stroke="#111" stroke-width="1.3"/>
<line x1="98.4" y1="306" x2="98.4" y2="343" stroke="#444" stroke-width="1.1" stroke-dasharray="3.2 2.2"/>
<line x1="126.4" y1="306" x2="126.4" y2="343" stroke="#444" stroke-width="1.1" stroke-dasharray="3.2 2.2"/>
<line x1="153.2" y1="306" x2="153.2" y2="343" stroke="#444" stroke-width="1.1" stroke-dasharray="3.2 2.2"/>
<line x1="178.6" y1="306" x2="178.6" y2="343" stroke="#444" stroke-width="1.1" stroke-dasharray="3.2 2.2"/>
<line x1="206" y1="306" x2="206" y2="343" stroke="#444" stroke-width="1.1" stroke-dasharray="3.2 2.2"/>
<path d="M59.4,343.8 H236 M59.4,343.8 V306" stroke="#000" stroke-width="1.7" fill="none"/>
<polygon points="59.4,296 53.6,308 65.2,308" fill="#000"/>
<polygon points="245.6,343.8 233.6,338 233.6,349.6" fill="#000"/>
<text x="51" y="319.5" font-size="13.2" fill="#000" text-anchor="middle" textLength="50.5" lengthAdjust="spacingAndGlyphs" transform="rotate(-90 51 319.5)">Potential</text>
<text x="186.7" y="361" font-size="13.6" fill="#000" textLength="48.5" lengthAdjust="spacingAndGlyphs">Position</text>
<path d="M28.2,501.3 H46 V445.8 H103 V501.3 H163.6 V445.8 H182" fill="none" stroke="#111" stroke-width="4"/>
<text x="61.6" y="485.3" font-size="19.5" fill="#000" font-weight="bold" textLength="25" lengthAdjust="spacingAndGlyphs">R/I</text>
<text x="116" y="468.9" font-size="18.5" fill="#000" font-weight="bold" textLength="37" lengthAdjust="spacingAndGlyphs">MW</text>
<polyline points="114.40,501.20 114.66,499.21 114.93,497.24 115.19,495.34 115.46,493.51 115.72,491.80 115.98,490.21 116.25,488.79 116.51,487.54 116.77,486.48 117.04,485.64 117.30,485.01 117.57,484.61 117.83,484.45 118.09,484.53 118.36,484.84 118.62,485.39 118.88,486.16 119.15,487.15 119.41,488.33 119.68,489.70 119.94,491.22 120.20,492.90 120.47,494.69 120.73,496.57 120.99,498.51 121.26,500.50 121.52,502.50 121.79,504.47 122.05,506.40 122.31,508.26 122.58,510.02 122.84,511.65 123.10,513.13 123.37,514.44 123.63,515.57 123.90,516.49 124.16,517.20 124.42,517.67 124.69,517.92 124.95,517.92 125.21,517.69 125.48,517.23 125.74,516.53 126.01,515.62 126.27,514.51 126.53,513.20 126.80,511.73 127.06,510.10 127.32,508.35 127.59,506.50 127.85,504.57 128.12,502.60 128.38,500.60 128.64,498.62 128.91,496.67 129.17,494.78 129.43,492.99 129.70,491.31 129.96,489.77 130.22,488.40 130.49,487.20 130.75,486.21 131.02,485.43 131.28,484.87 131.54,484.54 131.81,484.45 132.07,484.60 132.34,484.98 132.60,485.60 132.86,486.43 133.13,487.48 133.39,488.72 133.65,490.14 133.92,491.71 134.18,493.42 134.44,495.24 134.71,497.14 134.97,499.10 135.24,501.10 135.50,503.09 135.76,505.05 136.03,506.97 136.29,508.80 136.56,510.52 136.82,512.11 137.08,513.54 137.35,514.80 137.61,515.87 137.87,516.73 138.14,517.36 138.40,517.77 138.67,517.94 138.93,517.88 139.19,517.58 139.46,517.04 139.72,516.28 139.98,515.31 140.25,514.14 140.51,512.78 140.78,511.26 141.04,509.59 141.30,507.81 141.57,505.93 141.83,503.99 142.09,502.00 142.36,500.01 142.62,498.03 142.89,496.10 143.15,494.23 143.41,492.47 143.68,490.83 143.94,489.34 144.20,488.02 144.47,486.88 144.73,485.95 145.00,485.24 145.26,484.75 145.52,484.49 145.79,484.47 146.05,484.69 146.31,485.14 146.58,485.82 146.84,486.72 147.11,487.83 147.37,489.12 147.63,490.59 147.90,492.21 148.16,493.95 148.42,495.80 148.69,497.72 148.95,499.70 149.22,501.69 149.48,503.68 149.74,505.63 150.01,507.52 150.27,509.32 150.53,511.01 150.80,512.55 151.06,513.94 151.32,515.14 151.59,516.15 151.85,516.94 152.12,517.51 152.38,517.85 152.64,517.95 152.91,517.81 153.17,517.44 153.44,516.84 153.70,516.02 153.96,514.98 154.23,513.75 154.49,512.34 154.75,510.78 155.02,509.07 155.28,507.26 155.55,505.36 155.81,503.40 156.07,501.41 156.34,499.41 156.60,497.45" fill="none" stroke="#e03fd8" stroke-width="2.8"/>
<line x1="120" y1="529.6" x2="151" y2="529.6" stroke="#111" stroke-width="1.4"/>
<polygon points="113.7,529.6 122.5,525.6 122.5,533.6" fill="#111"/>
<polygon points="156.6,529.6 147.8,525.6 147.8,533.6" fill="#111"/>
<text x="119.6" y="544.2" font-size="11.5" fill="#000" font-style="italic">t</text>
<text x="122.5" y="551.3" font-size="13.8" fill="#000" textLength="30.5" lengthAdjust="spacingAndGlyphs">burst</text>
<polygon points="197.00,435.50 200.17,442.13 207.46,443.10 202.14,448.17 203.47,455.40 197.00,451.90 190.53,455.40 191.86,448.17 186.54,443.10 193.83,442.13" fill="#e23ee0" stroke="#2a1030" stroke-width="1.5" stroke-linejoin="round"/>
<circle cx="195.2" cy="500.5" r="9.8" fill="#e23ee0" stroke="#2a1030" stroke-width="1.5"/>
<clipPath id="cp1"><rect x="284.5" y="419.7" width="165.10000000000002" height="136.09999999999997"/></clipPath>
<rect x="284.5" y="419.7" width="165.10000000000002" height="136.09999999999997" fill="#b5e1d6"/>
<g clip-path="url(#cp1)">
<path d="M259.5,389.9 Q282.8,394.6 306.0,397.4 M306.0,397.4 Q329.3,401.6 352.6,403.8 M352.6,403.8 Q375.4,408.1 398.1,410.5 M398.1,410.5 Q421.4,415.2 444.6,418.0 M266.5,430.9 Q289.8,435.6 313.0,438.4 M313.0,438.4 Q336.3,442.6 359.6,444.8 M359.6,444.8 Q382.4,449.1 405.1,451.5 M405.1,451.5 Q428.4,456.2 451.6,459.0 M272.4,470.4 Q295.6,475.1 318.9,477.9 M318.9,477.9 Q342.2,481.9 365.6,483.9 M365.6,483.9 Q389.0,490.2 412.3,494.6 M412.3,494.6 Q435.6,499.4 458.8,502.1 M280.8,512.3 Q304.1,517.0 327.3,519.8 M327.3,519.8 Q350.6,524.8 374.0,527.7 M374.0,527.7 Q397.4,532.5 420.7,535.3 M420.7,535.3 Q443.9,540.0 467.2,542.8 M287.8,553.3 Q311.1,558.0 334.3,560.8 M334.3,560.8 Q357.6,565.8 381.0,568.7 M381.0,568.7 Q404.4,573.5 427.7,576.3 M427.7,576.3 Q450.9,581.0 474.2,583.8 M259.5,389.9 Q262.0,410.4 266.5,430.9 M266.5,430.9 Q268.4,450.6 272.4,470.4 M272.4,470.4 Q275.6,491.3 280.8,512.3 M280.8,512.3 Q283.3,532.8 287.8,553.3 M306.0,397.4 Q308.5,417.9 313.0,438.4 M313.0,438.4 Q314.9,458.1 318.9,477.9 M318.9,477.9 Q322.1,498.8 327.3,519.8 M327.3,519.8 Q329.8,540.3 334.3,560.8 M352.6,403.8 Q355.1,424.3 359.6,444.8 M359.6,444.8 Q361.6,464.4 365.6,483.9 M365.6,483.9 Q368.8,505.8 374.0,527.7 M374.0,527.7 Q376.5,548.2 381.0,568.7 M398.1,410.5 Q400.6,431.0 405.1,451.5 M405.1,451.5 Q407.7,473.1 412.3,494.6 M412.3,494.6 Q415.5,515.0 420.7,535.3 M420.7,535.3 Q423.2,555.8 427.7,576.3 M444.6,418.0 Q447.1,438.5 451.6,459.0 M451.6,459.0 Q454.2,480.6 458.8,502.1 M458.8,502.1 Q462.0,522.5 467.2,542.8 M467.2,542.8 Q469.7,563.3 474.2,583.8 " stroke="#4a86c8" stroke-width="4" fill="none" opacity="0.22" filter="url(#bl1)"/>
<path d="M259.5,389.9 Q282.8,394.6 306.0,397.4 M306.0,397.4 Q329.3,401.6 352.6,403.8 M352.6,403.8 Q375.4,408.1 398.1,410.5 M398.1,410.5 Q421.4,415.2 444.6,418.0 M266.5,430.9 Q289.8,435.6 313.0,438.4 M313.0,438.4 Q336.3,442.6 359.6,444.8 M359.6,444.8 Q382.4,449.1 405.1,451.5 M405.1,451.5 Q428.4,456.2 451.6,459.0 M272.4,470.4 Q295.6,475.1 318.9,477.9 M318.9,477.9 Q342.2,481.9 365.6,483.9 M365.6,483.9 Q389.0,490.2 412.3,494.6 M412.3,494.6 Q435.6,499.4 458.8,502.1 M280.8,512.3 Q304.1,517.0 327.3,519.8 M327.3,519.8 Q350.6,524.8 374.0,527.7 M374.0,527.7 Q397.4,532.5 420.7,535.3 M420.7,535.3 Q443.9,540.0 467.2,542.8 M287.8,553.3 Q311.1,558.0 334.3,560.8 M334.3,560.8 Q357.6,565.8 381.0,568.7 M381.0,568.7 Q404.4,573.5 427.7,576.3 M427.7,576.3 Q450.9,581.0 474.2,583.8 M259.5,389.9 Q262.0,410.4 266.5,430.9 M266.5,430.9 Q268.4,450.6 272.4,470.4 M272.4,470.4 Q275.6,491.3 280.8,512.3 M280.8,512.3 Q283.3,532.8 287.8,553.3 M306.0,397.4 Q308.5,417.9 313.0,438.4 M313.0,438.4 Q314.9,458.1 318.9,477.9 M318.9,477.9 Q322.1,498.8 327.3,519.8 M327.3,519.8 Q329.8,540.3 334.3,560.8 M352.6,403.8 Q355.1,424.3 359.6,444.8 M359.6,444.8 Q361.6,464.4 365.6,483.9 M365.6,483.9 Q368.8,505.8 374.0,527.7 M374.0,527.7 Q376.5,548.2 381.0,568.7 M398.1,410.5 Q400.6,431.0 405.1,451.5 M405.1,451.5 Q407.7,473.1 412.3,494.6 M412.3,494.6 Q415.5,515.0 420.7,535.3 M420.7,535.3 Q423.2,555.8 427.7,576.3 M444.6,418.0 Q447.1,438.5 451.6,459.0 M451.6,459.0 Q454.2,480.6 458.8,502.1 M458.8,502.1 Q462.0,522.5 467.2,542.8 M467.2,542.8 Q469.7,563.3 474.2,583.8 " stroke="#26348a" stroke-width="1.2" fill="none" opacity="0.3" filter="url(#bl2)"/>
<defs><linearGradient id="w1" gradientUnits="userSpaceOnUse" x1="259.5" y1="389.9" x2="282.8" y2="393.6"><stop offset="0" stop-color="#1a2478" stop-opacity="0.95"/><stop offset="0.4" stop-color="#2a50a8" stop-opacity="0.52"/><stop offset="1" stop-color="#4a80c0" stop-opacity="0"/></linearGradient><linearGradient id="w2" gradientUnits="userSpaceOnUse" x1="259.5" y1="389.9" x2="263.4" y2="412.4"><stop offset="0" stop-color="#1a2478" stop-opacity="0.9"/><stop offset="0.4" stop-color="#2a50a8" stop-opacity="0.50"/><stop offset="1" stop-color="#4a80c0" stop-opacity="0"/></linearGradient><linearGradient id="w3" gradientUnits="userSpaceOnUse" x1="259.5" y1="389.9" x2="243.2" y2="387.3"><stop offset="0" stop-color="#1a2478" stop-opacity="0.6"/><stop offset="0.4" stop-color="#2a50a8" stop-opacity="0.33"/><stop offset="1" stop-color="#4a80c0" stop-opacity="0"/></linearGradient><linearGradient id="w4" gradientUnits="userSpaceOnUse" x1="259.5" y1="389.9" x2="257.1" y2="375.5"><stop offset="0" stop-color="#1a2478" stop-opacity="0.6"/><stop offset="0.4" stop-color="#2a50a8" stop-opacity="0.33"/><stop offset="1" stop-color="#4a80c0" stop-opacity="0"/></linearGradient><linearGradient id="w5" gradientUnits="userSpaceOnUse" x1="306.0" y1="397.4" x2="329.3" y2="400.6"><stop offset="0" stop-color="#1a2478" stop-opacity="0.95"/><stop offset="0.4" stop-color="#2a50a8" stop-opacity="0.52"/><stop offset="1" stop-color="#4a80c0" stop-opacity="0"/></linearGradient><linearGradient id="w6" gradientUnits="userSpaceOnUse" x1="306.0" y1="397.4" x2="309.9" y2="419.9"><stop offset="0" stop-color="#1a2478" stop-opacity="0.9"/><stop offset="0.4" stop-color="#2a50a8" stop-opacity="0.50"/><stop offset="1" stop-color="#4a80c0" stop-opacity="0"/></linearGradient><linearGradient id="w7" gradientUnits="userSpaceOnUse" x1="306.0" y1="397.4" x2="289.7" y2="394.8"><stop offset="0" stop-color="#1a2478" stop-opacity="0.6"/><stop offset="0.4" stop-color="#2a50a8" stop-opacity="0.33"/><stop offset="1" stop-color="#4a80c0" stop-opacity="0"/></linearGradient><linearGradient id="w8" gradientUnits="userSpaceOnUse" x1="306.0" y1="397.4" x2="303.6" y2="383.0"><stop offset="0" stop-color="#1a2478" stop-opacity="0.6"/><stop offset="0.4" stop-color="#2a50a8" stop-opacity="0.33"/><stop offset="1" stop-color="#4a80c0" stop-opacity="0"/></linearGradient><linearGradient id="w9" gradientUnits="userSpaceOnUse" x1="352.6" y1="403.8" x2="375.4" y2="407.1"><stop offset="0" stop-color="#1a2478" stop-opacity="0.95"/><stop offset="0.4" stop-color="#2a50a8" stop-opacity="0.52"/><stop offset="1" stop-color="#4a80c0" stop-opacity="0"/></linearGradient><linearGradient id="w10" gradientUnits="userSpaceOnUse" x1="352.6" y1="403.8" x2="356.5" y2="426.4"><stop offset="0" stop-color="#1a2478" stop-opacity="0.9"/><stop offset="0.4" stop-color="#2a50a8" stop-opacity="0.50"/><stop offset="1" stop-color="#4a80c0" stop-opacity="0"/></linearGradient><linearGradient id="w11" gradientUnits="userSpaceOnUse" x1="352.6" y1="403.8" x2="336.3" y2="401.6"><stop offset="0" stop-color="#1a2478" stop-opacity="0.6"/><stop offset="0.4" stop-color="#2a50a8" stop-opacity="0.33"/><stop offset="1" stop-color="#4a80c0" stop-opacity="0"/></linearGradient><linearGradient id="w12" gradientUnits="userSpaceOnUse" x1="352.6" y1="403.8" x2="350.2" y2="389.4"><stop offset="0" stop-color="#1a2478" stop-opacity="0.6"/><stop offset="0.4" stop-color="#2a50a8" stop-opacity="0.33"/><stop offset="1" stop-color="#4a80c0" stop-opacity="0"/></linearGradient><linearGradient id="w13" gradientUnits="userSpaceOnUse" x1="398.1" y1="410.5" x2="421.4" y2="414.2"><stop offset="0" stop-color="#1a2478" stop-opacity="0.95"/><stop offset="0.4" stop-color="#2a50a8" stop-opacity="0.52"/><stop offset="1" stop-color="#4a80c0" stop-opacity="0"/></linearGradient><linearGradient id="w14" gradientUnits="userSpaceOnUse" x1="398.1" y1="410.5" x2="402.0" y2="433.1"><stop offset="0" stop-color="#1a2478" stop-opacity="0.9"/><stop offset="0.4" stop-color="#2a50a8" stop-opacity="0.50"/><stop offset="1" stop-color="#4a80c0" stop-opacity="0"/></linearGradient><linearGradient id="w15" gradientUnits="userSpaceOnUse" x1="398.1" y1="410.5" x2="382.2" y2="408.2"><stop offset="0" stop-color="#1a2478" stop-opacity="0.6"/><stop offset="0.4" stop-color="#2a50a8" stop-opacity="0.33"/><stop offset="1" stop-color="#4a80c0" stop-opacity="0"/></linearGradient><linearGradient id="w16" gradientUnits="userSpaceOnUse" x1="398.1" y1="410.5" x2="395.7" y2="396.1"><stop offset="0" stop-color="#1a2478" stop-opacity="0.6"/><stop offset="0.4" stop-color="#2a50a8" stop-opacity="0.33"/><stop offset="1" stop-color="#4a80c0" stop-opacity="0"/></linearGradient><linearGradient id="w17" gradientUnits="userSpaceOnUse" x1="444.6" y1="418.0" x2="467.9" y2="421.8"><stop offset="0" stop-color="#1a2478" stop-opacity="0.95"/><stop offset="0.4" stop-color="#2a50a8" stop-opacity="0.52"/><stop offset="1" stop-color="#4a80c0" stop-opacity="0"/></linearGradient><linearGradient id="w18" gradientUnits="userSpaceOnUse" x1="444.6" y1="418.0" x2="448.5" y2="440.6"><stop offset="0" stop-color="#1a2478" stop-opacity="0.9"/><stop offset="0.4" stop-color="#2a50a8" stop-opacity="0.50"/><stop offset="1" stop-color="#4a80c0" stop-opacity="0"/></linearGradient><linearGradient id="w19" gradientUnits="userSpaceOnUse" x1="444.6" y1="418.0" x2="428.3" y2="415.4"><stop offset="0" stop-color="#1a2478" stop-opacity="0.6"/><stop offset="0.4" stop-color="#2a50a8" stop-opacity="0.33"/><stop offset="1" stop-color="#4a80c0" stop-opacity="0"/></linearGradient><linearGradient id="w20" gradientUnits="userSpaceOnUse" x1="444.6" y1="418.0" x2="442.2" y2="403.6"><stop offset="0" stop-color="#1a2478" stop-opacity="0.6"/><stop offset="0.4" stop-color="#2a50a8" stop-opacity="0.33"/><stop offset="1" stop-color="#4a80c0" stop-opacity="0"/></linearGradient><linearGradient id="w21" gradientUnits="userSpaceOnUse" x1="266.5" y1="430.9" x2="289.8" y2="434.6"><stop offset="0" stop-color="#1a2478" stop-opacity="0.95"/><stop offset="0.4" stop-color="#2a50a8" stop-opacity="0.52"/><stop offset="1" stop-color="#4a80c0" stop-opacity="0"/></linearGradient><linearGradient id="w22" gradientUnits="userSpaceOnUse" x1="266.5" y1="430.9" x2="269.7" y2="452.6"><stop offset="0" stop-color="#1a2478" stop-opacity="0.9"/><stop offset="0.4" stop-color="#2a50a8" stop-opacity="0.50"/><stop offset="1" stop-color="#4a80c0" stop-opacity="0"/></linearGradient><linearGradient id="w23" gradientUnits="userSpaceOnUse" x1="266.5" y1="430.9" x2="250.2" y2="428.3"><stop offset="0" stop-color="#1a2478" stop-opacity="0.6"/><stop offset="0.4" stop-color="#2a50a8" stop-opacity="0.33"/><stop offset="1" stop-color="#4a80c0" stop-opacity="0"/></linearGradient><linearGradient id="w24" gradientUnits="userSpaceOnUse" x1="266.5" y1="430.9" x2="264.1" y2="416.5"><stop offset="0" stop-color="#1a2478" stop-opacity="0.6"/><stop offset="0.4" stop-color="#2a50a8" stop-opacity="0.33"/><stop offset="1" stop-color="#4a80c0" stop-opacity="0"/></linearGradient><linearGradient id="w25" gradientUnits="userSpaceOnUse" x1="313.0" y1="438.4" x2="336.3" y2="441.6"><stop offset="0" stop-color="#1a2478" stop-opacity="0.95"/><stop offset="0.4" stop-color="#2a50a8" stop-opacity="0.52"/><stop offset="1" stop-color="#4a80c0" stop-opacity="0"/></linearGradient><linearGradient id="w26" gradientUnits="userSpaceOnUse" x1="313.0" y1="438.4" x2="316.2" y2="460.1"><stop offset="0" stop-color="#1a2478" stop-opacity="0.9"/><stop offset="0.4" stop-color="#2a50a8" stop-opacity="0.50"/><stop offset="1" stop-color="#4a80c0" stop-opacity="0"/></linearGradient><linearGradient id="w27" gradientUnits="userSpaceOnUse" x1="313.0" y1="438.4" x2="296.7" y2="435.8"><stop offset="0" stop-color="#1a2478" stop-opacity="0.6"/><stop offset="0.4" stop-color="#2a50a8" stop-opacity="0.33"/><stop offset="1" stop-color="#4a80c0" stop-opacity="0"/></linearGradient><linearGradient id="w28" gradientUnits="userSpaceOnUse" x1="313.0" y1="438.4" x2="310.6" y2="424.0"><stop offset="0" stop-color="#1a2478" stop-opacity="0.6"/><stop offset="0.4" stop-color="#2a50a8" stop-opacity="0.33"/><stop offset="1" stop-color="#4a80c0" stop-opacity="0"/></linearGradient><linearGradient id="w29" gradientUnits="userSpaceOnUse" x1="359.6" y1="444.8" x2="382.4" y2="448.1"><stop offset="0" stop-color="#1a2478" stop-opacity="0.95"/><stop offset="0.4" stop-color="#2a50a8" stop-opacity="0.52"/><stop offset="1" stop-color="#4a80c0" stop-opacity="0"/></linearGradient><linearGradient id="w30" gradientUnits="userSpaceOnUse" x1="359.6" y1="444.8" x2="362.9" y2="466.3"><stop offset="0" stop-color="#1a2478" stop-opacity="0.9"/><stop offset="0.4" stop-color="#2a50a8" stop-opacity="0.50"/><stop offset="1" stop-color="#4a80c0" stop-opacity="0"/></linearGradient><linearGradient id="w31" gradientUnits="userSpaceOnUse" x1="359.6" y1="444.8" x2="343.3" y2="442.6"><stop offset="0" stop-color="#1a2478" stop-opacity="0.6"/><stop offset="0.4" stop-color="#2a50a8" stop-opacity="0.33"/><stop offset="1" stop-color="#4a80c0" stop-opacity="0"/></linearGradient><linearGradient id="w32" gradientUnits="userSpaceOnUse" x1="359.6" y1="444.8" x2="357.2" y2="430.4"><stop offset="0" stop-color="#1a2478" stop-opacity="0.6"/><stop offset="0.4" stop-color="#2a50a8" stop-opacity="0.33"/><stop offset="1" stop-color="#4a80c0" stop-opacity="0"/></linearGradient><linearGradient id="w33" gradientUnits="userSpaceOnUse" x1="405.1" y1="451.5" x2="428.4" y2="455.2"><stop offset="0" stop-color="#1a2478" stop-opacity="0.95"/><stop offset="0.4" stop-color="#2a50a8" stop-opacity="0.52"/><stop offset="1" stop-color="#4a80c0" stop-opacity="0"/></linearGradient><linearGradient id="w34" gradientUnits="userSpaceOnUse" x1="405.1" y1="451.5" x2="409.1" y2="475.2"><stop offset="0" stop-color="#1a2478" stop-opacity="0.9"/><stop offset="0.4" stop-color="#2a50a8" stop-opacity="0.50"/><stop offset="1" stop-color="#4a80c0" stop-opacity="0"/></linearGradient><linearGradient id="w35" gradientUnits="userSpaceOnUse" x1="405.1" y1="451.5" x2="389.2" y2="449.2"><stop offset="0" stop-color="#1a2478" stop-opacity="0.6"/><stop offset="0.4" stop-color="#2a50a8" stop-opacity="0.33"/><stop offset="1" stop-color="#4a80c0" stop-opacity="0"/></linearGradient><linearGradient id="w36" gradientUnits="userSpaceOnUse" x1="405.1" y1="451.5" x2="402.7" y2="437.1"><stop offset="0" stop-color="#1a2478" stop-opacity="0.6"/><stop offset="0.4" stop-color="#2a50a8" stop-opacity="0.33"/><stop offset="1" stop-color="#4a80c0" stop-opacity="0"/></linearGradient><linearGradient id="w37" gradientUnits="userSpaceOnUse" x1="451.6" y1="459.0" x2="474.9" y2="462.8"><stop offset="0" stop-color="#1a2478" stop-opacity="0.95"/><stop offset="0.4" stop-color="#2a50a8" stop-opacity="0.52"/><stop offset="1" stop-color="#4a80c0" stop-opacity="0"/></linearGradient><linearGradient id="w38" gradientUnits="userSpaceOnUse" x1="451.6" y1="459.0" x2="455.6" y2="482.7"><stop offset="0" stop-color="#1a2478" stop-opacity="0.9"/><stop offset="0.4" stop-color="#2a50a8" stop-opacity="0.50"/><stop offset="1" stop-color="#4a80c0" stop-opacity="0"/></linearGradient><linearGradient id="w39" gradientUnits="userSpaceOnUse" x1="451.6" y1="459.0" x2="435.3" y2="456.4"><stop offset="0" stop-color="#1a2478" stop-opacity="0.6"/><stop offset="0.4" stop-color="#2a50a8" stop-opacity="0.33"/><stop offset="1" stop-color="#4a80c0" stop-opacity="0"/></linearGradient><linearGradient id="w40" gradientUnits="userSpaceOnUse" x1="451.6" y1="459.0" x2="449.2" y2="444.6"><stop offset="0" stop-color="#1a2478" stop-opacity="0.6"/><stop offset="0.4" stop-color="#2a50a8" stop-opacity="0.33"/><stop offset="1" stop-color="#4a80c0" stop-opacity="0"/></linearGradient><linearGradient id="w41" gradientUnits="userSpaceOnUse" x1="272.4" y1="470.4" x2="295.6" y2="474.1"><stop offset="0" stop-color="#1a2478" stop-opacity="0.95"/><stop offset="0.4" stop-color="#2a50a8" stop-opacity="0.52"/><stop offset="1" stop-color="#4a80c0" stop-opacity="0"/></linearGradient><linearGradient id="w42" gradientUnits="userSpaceOnUse" x1="272.4" y1="470.4" x2="277.0" y2="493.4"><stop offset="0" stop-color="#1a2478" stop-opacity="0.9"/><stop offset="0.4" stop-color="#2a50a8" stop-opacity="0.50"/><stop offset="1" stop-color="#4a80c0" stop-opacity="0"/></linearGradient><linearGradient id="w43" gradientUnits="userSpaceOnUse" x1="272.4" y1="470.4" x2="256.1" y2="467.8"><stop offset="0" stop-color="#1a2478" stop-opacity="0.6"/><stop offset="0.4" stop-color="#2a50a8" stop-opacity="0.33"/><stop offset="1" stop-color="#4a80c0" stop-opacity="0"/></linearGradient><linearGradient id="w44" gradientUnits="userSpaceOnUse" x1="272.4" y1="470.4" x2="270.3" y2="456.6"><stop offset="0" stop-color="#1a2478" stop-opacity="0.6"/><stop offset="0.4" stop-color="#2a50a8" stop-opacity="0.33"/><stop offset="1" stop-color="#4a80c0" stop-opacity="0"/></linearGradient><linearGradient id="w45" gradientUnits="userSpaceOnUse" x1="318.9" y1="477.9" x2="342.2" y2="480.9"><stop offset="0" stop-color="#1a2478" stop-opacity="0.95"/><stop offset="0.4" stop-color="#2a50a8" stop-opacity="0.52"/><stop offset="1" stop-color="#4a80c0" stop-opacity="0"/></linearGradient><linearGradient id="w46" gradientUnits="userSpaceOnUse" x1="318.9" y1="477.9" x2="323.5" y2="500.9"><stop offset="0" stop-color="#1a2478" stop-opacity="0.9"/><stop offset="0.4" stop-color="#2a50a8" stop-opacity="0.50"/><stop offset="1" stop-color="#4a80c0" stop-opacity="0"/></linearGradient><linearGradient id="w47" gradientUnits="userSpaceOnUse" x1="318.9" y1="477.9" x2="302.6" y2="475.3"><stop offset="0" stop-color="#1a2478" stop-opacity="0.6"/><stop offset="0.4" stop-color="#2a50a8" stop-opacity="0.33"/><stop offset="1" stop-color="#4a80c0" stop-opacity="0"/></linearGradient><linearGradient id="w48" gradientUnits="userSpaceOnUse" x1="318.9" y1="477.9" x2="316.8" y2="464.1"><stop offset="0" stop-color="#1a2478" stop-opacity="0.6"/><stop offset="0.4" stop-color="#2a50a8" stop-opacity="0.33"/><stop offset="1" stop-color="#4a80c0" stop-opacity="0"/></linearGradient><linearGradient id="w49" gradientUnits="userSpaceOnUse" x1="365.6" y1="483.9" x2="389.0" y2="489.2"><stop offset="0" stop-color="#1a2478" stop-opacity="0.95"/><stop offset="0.4" stop-color="#2a50a8" stop-opacity="0.52"/><stop offset="1" stop-color="#4a80c0" stop-opacity="0"/></linearGradient><linearGradient id="w50" gradientUnits="userSpaceOnUse" x1="365.6" y1="483.9" x2="370.2" y2="508.0"><stop offset="0" stop-color="#1a2478" stop-opacity="0.9"/><stop offset="0.4" stop-color="#2a50a8" stop-opacity="0.50"/><stop offset="1" stop-color="#4a80c0" stop-opacity="0"/></linearGradient><linearGradient id="w51" gradientUnits="userSpaceOnUse" x1="365.6" y1="483.9" x2="349.3" y2="481.8"><stop offset="0" stop-color="#1a2478" stop-opacity="0.6"/><stop offset="0.4" stop-color="#2a50a8" stop-opacity="0.33"/><stop offset="1" stop-color="#4a80c0" stop-opacity="0"/></linearGradient><linearGradient id="w52" gradientUnits="userSpaceOnUse" x1="365.6" y1="483.9" x2="363.5" y2="470.2"><stop offset="0" stop-color="#1a2478" stop-opacity="0.6"/><stop offset="0.4" stop-color="#2a50a8" stop-opacity="0.33"/><stop offset="1" stop-color="#4a80c0" stop-opacity="0"/></linearGradient><linearGradient id="w53" gradientUnits="userSpaceOnUse" x1="412.3" y1="494.6" x2="435.6" y2="498.4"><stop offset="0" stop-color="#1a2478" stop-opacity="0.95"/><stop offset="0.4" stop-color="#2a50a8" stop-opacity="0.52"/><stop offset="1" stop-color="#4a80c0" stop-opacity="0"/></linearGradient><linearGradient id="w54" gradientUnits="userSpaceOnUse" x1="412.3" y1="494.6" x2="416.9" y2="517.0"><stop offset="0" stop-color="#1a2478" stop-opacity="0.9"/><stop offset="0.4" stop-color="#2a50a8" stop-opacity="0.50"/><stop offset="1" stop-color="#4a80c0" stop-opacity="0"/></linearGradient><linearGradient id="w55" gradientUnits="userSpaceOnUse" x1="412.3" y1="494.6" x2="396.0" y2="490.9"><stop offset="0" stop-color="#1a2478" stop-opacity="0.6"/><stop offset="0.4" stop-color="#2a50a8" stop-opacity="0.33"/><stop offset="1" stop-color="#4a80c0" stop-opacity="0"/></linearGradient><linearGradient id="w56" gradientUnits="userSpaceOnUse" x1="412.3" y1="494.6" x2="409.8" y2="479.5"><stop offset="0" stop-color="#1a2478" stop-opacity="0.6"/><stop offset="0.4" stop-color="#2a50a8" stop-opacity="0.33"/><stop offset="1" stop-color="#4a80c0" stop-opacity="0"/></linearGradient><linearGradient id="w57" gradientUnits="userSpaceOnUse" x1="458.8" y1="502.1" x2="482.1" y2="505.9"><stop offset="0" stop-color="#1a2478" stop-opacity="0.95"/><stop offset="0.4" stop-color="#2a50a8" stop-opacity="0.52"/><stop offset="1" stop-color="#4a80c0" stop-opacity="0"/></linearGradient><linearGradient id="w58" gradientUnits="userSpaceOnUse" x1="458.8" y1="502.1" x2="463.4" y2="524.5"><stop offset="0" stop-color="#1a2478" stop-opacity="0.9"/><stop offset="0.4" stop-color="#2a50a8" stop-opacity="0.50"/><stop offset="1" stop-color="#4a80c0" stop-opacity="0"/></linearGradient><linearGradient id="w59" gradientUnits="userSpaceOnUse" x1="458.8" y1="502.1" x2="442.5" y2="499.5"><stop offset="0" stop-color="#1a2478" stop-opacity="0.6"/><stop offset="0.4" stop-color="#2a50a8" stop-opacity="0.33"/><stop offset="1" stop-color="#4a80c0" stop-opacity="0"/></linearGradient><linearGradient id="w60" gradientUnits="userSpaceOnUse" x1="458.8" y1="502.1" x2="456.3" y2="487.0"><stop offset="0" stop-color="#1a2478" stop-opacity="0.6"/><stop offset="0.4" stop-color="#2a50a8" stop-opacity="0.33"/><stop offset="1" stop-color="#4a80c0" stop-opacity="0"/></linearGradient><linearGradient id="w61" gradientUnits="userSpaceOnUse" x1="280.8" y1="512.3" x2="304.1" y2="516.0"><stop offset="0" stop-color="#1a2478" stop-opacity="0.95"/><stop offset="0.4" stop-color="#2a50a8" stop-opacity="0.52"/><stop offset="1" stop-color="#4a80c0" stop-opacity="0"/></linearGradient><linearGradient id="w62" gradientUnits="userSpaceOnUse" x1="280.8" y1="512.3" x2="284.7" y2="534.8"><stop offset="0" stop-color="#1a2478" stop-opacity="0.9"/><stop offset="0.4" stop-color="#2a50a8" stop-opacity="0.50"/><stop offset="1" stop-color="#4a80c0" stop-opacity="0"/></linearGradient><linearGradient id="w63" gradientUnits="userSpaceOnUse" x1="280.8" y1="512.3" x2="264.5" y2="509.7"><stop offset="0" stop-color="#1a2478" stop-opacity="0.6"/><stop offset="0.4" stop-color="#2a50a8" stop-opacity="0.33"/><stop offset="1" stop-color="#4a80c0" stop-opacity="0"/></linearGradient><linearGradient id="w64" gradientUnits="userSpaceOnUse" x1="280.8" y1="512.3" x2="277.9" y2="497.6"><stop offset="0" stop-color="#1a2478" stop-opacity="0.6"/><stop offset="0.4" stop-color="#2a50a8" stop-opacity="0.33"/><stop offset="1" stop-color="#4a80c0" stop-opacity="0"/></linearGradient><linearGradient id="w65" gradientUnits="userSpaceOnUse" x1="327.3" y1="519.8" x2="350.6" y2="523.8"><stop offset="0" stop-color="#1a2478" stop-opacity="0.95"/><stop offset="0.4" stop-color="#2a50a8" stop-opacity="0.52"/><stop offset="1" stop-color="#4a80c0" stop-opacity="0"/></linearGradient><linearGradient id="w66" gradientUnits="userSpaceOnUse" x1="327.3" y1="519.8" x2="331.2" y2="542.3"><stop offset="0" stop-color="#1a2478" stop-opacity="0.9"/><stop offset="0.4" stop-color="#2a50a8" stop-opacity="0.50"/><stop offset="1" stop-color="#4a80c0" stop-opacity="0"/></linearGradient><linearGradient id="w67" gradientUnits="userSpaceOnUse" x1="327.3" y1="519.8" x2="311.0" y2="517.2"><stop offset="0" stop-color="#1a2478" stop-opacity="0.6"/><stop offset="0.4" stop-color="#2a50a8" stop-opacity="0.33"/><stop offset="1" stop-color="#4a80c0" stop-opacity="0"/></linearGradient><linearGradient id="w68" gradientUnits="userSpaceOnUse" x1="327.3" y1="519.8" x2="324.4" y2="505.1"><stop offset="0" stop-color="#1a2478" stop-opacity="0.6"/><stop offset="0.4" stop-color="#2a50a8" stop-opacity="0.33"/><stop offset="1" stop-color="#4a80c0" stop-opacity="0"/></linearGradient><linearGradient id="w69" gradientUnits="userSpaceOnUse" x1="374.0" y1="527.7" x2="397.4" y2="531.5"><stop offset="0" stop-color="#1a2478" stop-opacity="0.95"/><stop offset="0.4" stop-color="#2a50a8" stop-opacity="0.52"/><stop offset="1" stop-color="#4a80c0" stop-opacity="0"/></linearGradient><linearGradient id="w70" gradientUnits="userSpaceOnUse" x1="374.0" y1="527.7" x2="377.9" y2="550.2"><stop offset="0" stop-color="#1a2478" stop-opacity="0.9"/><stop offset="0.4" stop-color="#2a50a8" stop-opacity="0.50"/><stop offset="1" stop-color="#4a80c0" stop-opacity="0"/></linearGradient><linearGradient id="w71" gradientUnits="userSpaceOnUse" x1="374.0" y1="527.7" x2="357.7" y2="524.9"><stop offset="0" stop-color="#1a2478" stop-opacity="0.6"/><stop offset="0.4" stop-color="#2a50a8" stop-opacity="0.33"/><stop offset="1" stop-color="#4a80c0" stop-opacity="0"/></linearGradient><linearGradient id="w72" gradientUnits="userSpaceOnUse" x1="374.0" y1="527.7" x2="371.1" y2="512.4"><stop offset="0" stop-color="#1a2478" stop-opacity="0.6"/><stop offset="0.4" stop-color="#2a50a8" stop-opacity="0.33"/><stop offset="1" stop-color="#4a80c0" stop-opacity="0"/></linearGradient><linearGradient id="w73" gradientUnits="userSpaceOnUse" x1="420.7" y1="535.3" x2="443.9" y2="539.0"><stop offset="0" stop-color="#1a2478" stop-opacity="0.95"/><stop offset="0.4" stop-color="#2a50a8" stop-opacity="0.52"/><stop offset="1" stop-color="#4a80c0" stop-opacity="0"/></linearGradient><linearGradient id="w74" gradientUnits="userSpaceOnUse" x1="420.7" y1="535.3" x2="424.6" y2="557.8"><stop offset="0" stop-color="#1a2478" stop-opacity="0.9"/><stop offset="0.4" stop-color="#2a50a8" stop-opacity="0.50"/><stop offset="1" stop-color="#4a80c0" stop-opacity="0"/></linearGradient><linearGradient id="w75" gradientUnits="userSpaceOnUse" x1="420.7" y1="535.3" x2="404.4" y2="532.6"><stop offset="0" stop-color="#1a2478" stop-opacity="0.6"/><stop offset="0.4" stop-color="#2a50a8" stop-opacity="0.33"/><stop offset="1" stop-color="#4a80c0" stop-opacity="0"/></linearGradient><linearGradient id="w76" gradientUnits="userSpaceOnUse" x1="420.7" y1="535.3" x2="417.8" y2="521.1"><stop offset="0" stop-color="#1a2478" stop-opacity="0.6"/><stop offset="0.4" stop-color="#2a50a8" stop-opacity="0.33"/><stop offset="1" stop-color="#4a80c0" stop-opacity="0"/></linearGradient><linearGradient id="w77" gradientUnits="userSpaceOnUse" x1="467.2" y1="542.8" x2="490.5" y2="546.5"><stop offset="0" stop-color="#1a2478" stop-opacity="0.95"/><stop offset="0.4" stop-color="#2a50a8" stop-opacity="0.52"/><stop offset="1" stop-color="#4a80c0" stop-opacity="0"/></linearGradient><linearGradient id="w78" gradientUnits="userSpaceOnUse" x1="467.2" y1="542.8" x2="471.1" y2="565.3"><stop offset="0" stop-color="#1a2478" stop-opacity="0.9"/><stop offset="0.4" stop-color="#2a50a8" stop-opacity="0.50"/><stop offset="1" stop-color="#4a80c0" stop-opacity="0"/></linearGradient><linearGradient id="w79" gradientUnits="userSpaceOnUse" x1="467.2" y1="542.8" x2="450.9" y2="540.2"><stop offset="0" stop-color="#1a2478" stop-opacity="0.6"/><stop offset="0.4" stop-color="#2a50a8" stop-opacity="0.33"/><stop offset="1" stop-color="#4a80c0" stop-opacity="0"/></linearGradient><linearGradient id="w80" gradientUnits="userSpaceOnUse" x1="467.2" y1="542.8" x2="464.3" y2="528.6"><stop offset="0" stop-color="#1a2478" stop-opacity="0.6"/><stop offset="0.4" stop-color="#2a50a8" stop-opacity="0.33"/><stop offset="1" stop-color="#4a80c0" stop-opacity="0"/></linearGradient><linearGradient id="w81" gradientUnits="userSpaceOnUse" x1="287.8" y1="553.3" x2="311.1" y2="557.0"><stop offset="0" stop-color="#1a2478" stop-opacity="0.95"/><stop offset="0.4" stop-color="#2a50a8" stop-opacity="0.52"/><stop offset="1" stop-color="#4a80c0" stop-opacity="0"/></linearGradient><linearGradient id="w82" gradientUnits="userSpaceOnUse" x1="287.8" y1="553.3" x2="291.7" y2="575.8"><stop offset="0" stop-color="#1a2478" stop-opacity="0.9"/><stop offset="0.4" stop-color="#2a50a8" stop-opacity="0.50"/><stop offset="1" stop-color="#4a80c0" stop-opacity="0"/></linearGradient><linearGradient id="w83" gradientUnits="userSpaceOnUse" x1="287.8" y1="553.3" x2="271.5" y2="550.7"><stop offset="0" stop-color="#1a2478" stop-opacity="0.6"/><stop offset="0.4" stop-color="#2a50a8" stop-opacity="0.33"/><stop offset="1" stop-color="#4a80c0" stop-opacity="0"/></linearGradient><linearGradient id="w84" gradientUnits="userSpaceOnUse" x1="287.8" y1="553.3" x2="285.4" y2="538.9"><stop offset="0" stop-color="#1a2478" stop-opacity="0.6"/><stop offset="0.4" stop-color="#2a50a8" stop-opacity="0.33"/><stop offset="1" stop-color="#4a80c0" stop-opacity="0"/></linearGradient><linearGradient id="w85" gradientUnits="userSpaceOnUse" x1="334.3" y1="560.8" x2="357.6" y2="564.8"><stop offset="0" stop-color="#1a2478" stop-opacity="0.95"/><stop offset="0.4" stop-color="#2a50a8" stop-opacity="0.52"/><stop offset="1" stop-color="#4a80c0" stop-opacity="0"/></linearGradient><linearGradient id="w86" gradientUnits="userSpaceOnUse" x1="334.3" y1="560.8" x2="338.2" y2="583.3"><stop offset="0" stop-color="#1a2478" stop-opacity="0.9"/><stop offset="0.4" stop-color="#2a50a8" stop-opacity="0.50"/><stop offset="1" stop-color="#4a80c0" stop-opacity="0"/></linearGradient><linearGradient id="w87" gradientUnits="userSpaceOnUse" x1="334.3" y1="560.8" x2="318.0" y2="558.2"><stop offset="0" stop-color="#1a2478" stop-opacity="0.6"/><stop offset="0.4" stop-color="#2a50a8" stop-opacity="0.33"/><stop offset="1" stop-color="#4a80c0" stop-opacity="0"/></linearGradient><linearGradient id="w88" gradientUnits="userSpaceOnUse" x1="334.3" y1="560.8" x2="331.9" y2="546.4"><stop offset="0" stop-color="#1a2478" stop-opacity="0.6"/><stop offset="0.4" stop-color="#2a50a8" stop-opacity="0.33"/><stop offset="1" stop-color="#4a80c0" stop-opacity="0"/></linearGradient><linearGradient id="w89" gradientUnits="userSpaceOnUse" x1="381.0" y1="568.7" x2="404.4" y2="572.5"><stop offset="0" stop-color="#1a2478" stop-opacity="0.95"/><stop offset="0.4" stop-color="#2a50a8" stop-opacity="0.52"/><stop offset="1" stop-color="#4a80c0" stop-opacity="0"/></linearGradient><linearGradient id="w90" gradientUnits="userSpaceOnUse" x1="381.0" y1="568.7" x2="384.9" y2="591.2"><stop offset="0" stop-color="#1a2478" stop-opacity="0.9"/><stop offset="0.4" stop-color="#2a50a8" stop-opacity="0.50"/><stop offset="1" stop-color="#4a80c0" stop-opacity="0"/></linearGradient><linearGradient id="w91" gradientUnits="userSpaceOnUse" x1="381.0" y1="568.7" x2="364.7" y2="565.9"><stop offset="0" stop-color="#1a2478" stop-opacity="0.6"/><stop offset="0.4" stop-color="#2a50a8" stop-opacity="0.33"/><stop offset="1" stop-color="#4a80c0" stop-opacity="0"/></linearGradient><linearGradient id="w92" gradientUnits="userSpaceOnUse" x1="381.0" y1="568.7" x2="378.6" y2="554.4"><stop offset="0" stop-color="#1a2478" stop-opacity="0.6"/><stop offset="0.4" stop-color="#2a50a8" stop-opacity="0.33"/><stop offset="1" stop-color="#4a80c0" stop-opacity="0"/></linearGradient><linearGradient id="w93" gradientUnits="userSpaceOnUse" x1="427.7" y1="576.3" x2="450.9" y2="580.0"><stop offset="0" stop-color="#1a2478" stop-opacity="0.95"/><stop offset="0.4" stop-color="#2a50a8" stop-opacity="0.52"/><stop offset="1" stop-color="#4a80c0" stop-opacity="0"/></linearGradient><linearGradient id="w94" gradientUnits="userSpaceOnUse" x1="427.7" y1="576.3" x2="431.6" y2="598.8"><stop offset="0" stop-color="#1a2478" stop-opacity="0.9"/><stop offset="0.4" stop-color="#2a50a8" stop-opacity="0.50"/><stop offset="1" stop-color="#4a80c0" stop-opacity="0"/></linearGradient><linearGradient id="w95" gradientUnits="userSpaceOnUse" x1="427.7" y1="576.3" x2="411.4" y2="573.6"><stop offset="0" stop-color="#1a2478" stop-opacity="0.6"/><stop offset="0.4" stop-color="#2a50a8" stop-opacity="0.33"/><stop offset="1" stop-color="#4a80c0" stop-opacity="0"/></linearGradient><linearGradient id="w96" gradientUnits="userSpaceOnUse" x1="427.7" y1="576.3" x2="425.2" y2="561.9"><stop offset="0" stop-color="#1a2478" stop-opacity="0.6"/><stop offset="0.4" stop-color="#2a50a8" stop-opacity="0.33"/><stop offset="1" stop-color="#4a80c0" stop-opacity="0"/></linearGradient><linearGradient id="w97" gradientUnits="userSpaceOnUse" x1="474.2" y1="583.8" x2="497.5" y2="587.5"><stop offset="0" stop-color="#1a2478" stop-opacity="0.95"/><stop offset="0.4" stop-color="#2a50a8" stop-opacity="0.52"/><stop offset="1" stop-color="#4a80c0" stop-opacity="0"/></linearGradient><linearGradient id="w98" gradientUnits="userSpaceOnUse" x1="474.2" y1="583.8" x2="478.1" y2="606.3"><stop offset="0" stop-color="#1a2478" stop-opacity="0.9"/><stop offset="0.4" stop-color="#2a50a8" stop-opacity="0.50"/><stop offset="1" stop-color="#4a80c0" stop-opacity="0"/></linearGradient><linearGradient id="w99" gradientUnits="userSpaceOnUse" x1="474.2" y1="583.8" x2="457.9" y2="581.2"><stop offset="0" stop-color="#1a2478" stop-opacity="0.6"/><stop offset="0.4" stop-color="#2a50a8" stop-opacity="0.33"/><stop offset="1" stop-color="#4a80c0" stop-opacity="0"/></linearGradient><linearGradient id="w100" gradientUnits="userSpaceOnUse" x1="474.2" y1="583.8" x2="471.8" y2="569.4"><stop offset="0" stop-color="#1a2478" stop-opacity="0.6"/><stop offset="0.4" stop-color="#2a50a8" stop-opacity="0.33"/><stop offset="1" stop-color="#4a80c0" stop-opacity="0"/></linearGradient></defs>
<g filter="url(#bl2)"><polygon points="259.1,392.6 259.9,387.2 282.8,393.6" fill="url(#w1)"/><polygon points="257.0,390.3 262.0,389.5 263.4,412.4" fill="url(#w2)"/><polygon points="259.7,388.4 259.3,391.4 243.2,387.3" fill="url(#w3)"/><polygon points="261.0,389.6 258.0,390.2 257.1,375.5" fill="url(#w4)"/><polygon points="305.6,400.1 306.4,394.7 329.3,400.6" fill="url(#w5)"/><polygon points="303.5,397.8 308.5,397.0 309.9,419.9" fill="url(#w6)"/><polygon points="306.2,395.9 305.8,398.9 289.7,394.8" fill="url(#w7)"/><polygon points="307.5,397.1 304.5,397.7 303.6,383.0" fill="url(#w8)"/><polygon points="352.2,406.5 353.0,401.1 375.4,407.1" fill="url(#w9)"/><polygon points="350.1,404.2 355.1,403.4 356.5,426.4" fill="url(#w10)"/><polygon points="352.8,402.3 352.4,405.3 336.3,401.6" fill="url(#w11)"/><polygon points="354.1,403.5 351.1,404.1 350.2,389.4" fill="url(#w12)"/><polygon points="397.7,413.2 398.5,407.8 421.4,414.2" fill="url(#w13)"/><polygon points="395.6,410.9 400.6,410.1 402.0,433.1" fill="url(#w14)"/><polygon points="398.3,409.0 397.9,412.0 382.2,408.2" fill="url(#w15)"/><polygon points="399.6,410.2 396.6,410.8 395.7,396.1" fill="url(#w16)"/><polygon points="444.2,420.7 445.0,415.3 467.9,421.8" fill="url(#w17)"/><polygon points="442.1,418.4 447.1,417.6 448.5,440.6" fill="url(#w18)"/><polygon points="444.8,416.5 444.4,419.5 428.3,415.4" fill="url(#w19)"/><polygon points="446.1,417.7 443.1,418.3 442.2,403.6" fill="url(#w20)"/><polygon points="266.1,433.6 266.9,428.2 289.8,434.6" fill="url(#w21)"/><polygon points="264.0,431.3 269.0,430.5 269.7,452.6" fill="url(#w22)"/><polygon points="266.7,429.4 266.3,432.4 250.2,428.3" fill="url(#w23)"/><polygon points="268.0,430.6 265.0,431.2 264.1,416.5" fill="url(#w24)"/><polygon points="312.6,441.1 313.4,435.7 336.3,441.6" fill="url(#w25)"/><polygon points="310.5,438.8 315.5,438.0 316.2,460.1" fill="url(#w26)"/><polygon points="313.2,436.9 312.8,439.9 296.7,435.8" fill="url(#w27)"/><polygon points="314.5,438.1 311.5,438.7 310.6,424.0" fill="url(#w28)"/><polygon points="359.2,447.5 360.0,442.1 382.4,448.1" fill="url(#w29)"/><polygon points="357.1,445.2 362.1,444.4 362.9,466.3" fill="url(#w30)"/><polygon points="359.8,443.3 359.4,446.3 343.3,442.6" fill="url(#w31)"/><polygon points="361.1,444.5 358.1,445.1 357.2,430.4" fill="url(#w32)"/><polygon points="404.7,454.2 405.5,448.8 428.4,455.2" fill="url(#w33)"/><polygon points="402.6,451.9 407.6,451.1 409.1,475.2" fill="url(#w34)"/><polygon points="405.3,450.0 404.9,453.0 389.2,449.2" fill="url(#w35)"/><polygon points="406.6,451.2 403.6,451.8 402.7,437.1" fill="url(#w36)"/><polygon points="451.2,461.7 452.0,456.3 474.9,462.8" fill="url(#w37)"/><polygon points="449.1,459.4 454.1,458.6 455.6,482.7" fill="url(#w38)"/><polygon points="451.8,457.5 451.4,460.5 435.3,456.4" fill="url(#w39)"/><polygon points="453.1,458.7 450.1,459.3 449.2,444.6" fill="url(#w40)"/><polygon points="272.0,473.1 272.8,467.7 295.6,474.1" fill="url(#w41)"/><polygon points="269.9,470.9 274.9,469.9 277.0,493.4" fill="url(#w42)"/><polygon points="272.6,468.9 272.2,471.9 256.1,467.8" fill="url(#w43)"/><polygon points="273.9,470.2 270.9,470.6 270.3,456.6" fill="url(#w44)"/><polygon points="318.5,480.6 319.3,475.2 342.2,480.9" fill="url(#w45)"/><polygon points="316.4,478.4 321.4,477.4 323.5,500.9" fill="url(#w46)"/><polygon points="319.1,476.4 318.7,479.4 302.6,475.3" fill="url(#w47)"/><polygon points="320.4,477.7 317.4,478.1 316.8,464.1" fill="url(#w48)"/><polygon points="365.0,486.6 366.2,481.2 389.0,489.2" fill="url(#w49)"/><polygon points="363.1,484.4 368.1,483.4 370.2,508.0" fill="url(#w50)"/><polygon points="365.8,482.4 365.4,485.4 349.3,481.8" fill="url(#w51)"/><polygon points="367.1,483.7 364.1,484.1 363.5,470.2" fill="url(#w52)"/><polygon points="411.9,497.3 412.7,491.9 435.6,498.4" fill="url(#w53)"/><polygon points="409.9,495.1 414.7,494.1 416.9,517.0" fill="url(#w54)"/><polygon points="412.6,493.1 412.0,496.1 396.0,490.9" fill="url(#w55)"/><polygon points="413.8,494.4 410.8,494.8 409.8,479.5" fill="url(#w56)"/><polygon points="458.4,504.8 459.2,499.4 482.1,505.9" fill="url(#w57)"/><polygon points="456.4,502.6 461.2,501.6 463.4,524.5" fill="url(#w58)"/><polygon points="459.0,500.6 458.6,503.6 442.5,499.5" fill="url(#w59)"/><polygon points="460.3,501.9 457.3,502.3 456.3,487.0" fill="url(#w60)"/><polygon points="280.4,515.0 281.2,509.6 304.1,516.0" fill="url(#w61)"/><polygon points="278.3,512.7 283.3,511.9 284.7,534.8" fill="url(#w62)"/><polygon points="281.0,510.8 280.6,513.8 264.5,509.7" fill="url(#w63)"/><polygon points="282.3,512.0 279.3,512.6 277.9,497.6" fill="url(#w64)"/><polygon points="326.8,522.5 327.8,517.1 350.6,523.8" fill="url(#w65)"/><polygon points="324.8,520.2 329.8,519.4 331.2,542.3" fill="url(#w66)"/><polygon points="327.5,518.3 327.1,521.3 311.0,517.2" fill="url(#w67)"/><polygon points="328.8,519.5 325.8,520.1 324.4,505.1" fill="url(#w68)"/><polygon points="373.6,530.4 374.4,525.0 397.4,531.5" fill="url(#w69)"/><polygon points="371.5,528.1 376.5,527.3 377.9,550.2" fill="url(#w70)"/><polygon points="374.3,526.2 373.7,529.2 357.7,524.9" fill="url(#w71)"/><polygon points="375.5,527.4 372.5,528.0 371.1,512.4" fill="url(#w72)"/><polygon points="420.3,538.0 421.1,532.6 443.9,539.0" fill="url(#w73)"/><polygon points="418.2,535.7 423.2,534.9 424.6,557.8" fill="url(#w74)"/><polygon points="420.9,533.8 420.5,536.8 404.4,532.6" fill="url(#w75)"/><polygon points="422.2,535.0 419.2,535.6 417.8,521.1" fill="url(#w76)"/><polygon points="466.8,545.5 467.6,540.1 490.5,546.5" fill="url(#w77)"/><polygon points="464.7,543.2 469.7,542.4 471.1,565.3" fill="url(#w78)"/><polygon points="467.4,541.3 467.0,544.3 450.9,540.2" fill="url(#w79)"/><polygon points="468.7,542.5 465.7,543.1 464.3,528.6" fill="url(#w80)"/><polygon points="287.4,556.0 288.2,550.6 311.1,557.0" fill="url(#w81)"/><polygon points="285.3,553.7 290.3,552.9 291.7,575.8" fill="url(#w82)"/><polygon points="288.0,551.8 287.6,554.8 271.5,550.7" fill="url(#w83)"/><polygon points="289.3,553.0 286.3,553.6 285.4,538.9" fill="url(#w84)"/><polygon points="333.8,563.5 334.8,558.1 357.6,564.8" fill="url(#w85)"/><polygon points="331.8,561.2 336.8,560.4 338.2,583.3" fill="url(#w86)"/><polygon points="334.5,559.3 334.1,562.3 318.0,558.2" fill="url(#w87)"/><polygon points="335.8,560.5 332.8,561.1 331.9,546.4" fill="url(#w88)"/><polygon points="380.6,571.4 381.4,566.0 404.4,572.5" fill="url(#w89)"/><polygon points="378.5,569.1 383.5,568.3 384.9,591.2" fill="url(#w90)"/><polygon points="381.3,567.2 380.7,570.2 364.7,565.9" fill="url(#w91)"/><polygon points="382.5,568.4 379.5,569.0 378.6,554.4" fill="url(#w92)"/><polygon points="427.3,579.0 428.1,573.6 450.9,580.0" fill="url(#w93)"/><polygon points="425.2,576.7 430.2,575.9 431.6,598.8" fill="url(#w94)"/><polygon points="427.9,574.8 427.5,577.8 411.4,573.6" fill="url(#w95)"/><polygon points="429.2,576.0 426.2,576.6 425.2,561.9" fill="url(#w96)"/><polygon points="473.8,586.5 474.6,581.1 497.5,587.5" fill="url(#w97)"/><polygon points="471.7,584.2 476.7,583.4 478.1,606.3" fill="url(#w98)"/><polygon points="474.4,582.3 474.0,585.3 457.9,581.2" fill="url(#w99)"/><polygon points="475.7,583.5 472.7,584.1 471.8,569.4" fill="url(#w100)"/></g>
<g transform="translate(313,438.4) rotate(-25) scale(1.0)"><path d="M-6,-1.5 L-3.2,4.2 L6.2,0 L5.6,-4.6 L2.2,-3.2 L0.2,-1.4 L-3.2,-3.6 Z" fill="#e8784a" stroke="#1e0c24" stroke-width="2" stroke-linejoin="round"/><path d="M-3.6,0.6 L-2.6,2 L4,-0.8" stroke="#ffd2a0" stroke-width="1.5" fill="none" stroke-linecap="round"/></g>
<g transform="translate(359.6,444.8) rotate(-30) scale(1.0)"><path d="M-6,-1.5 L-3.2,4.2 L6.2,0 L5.6,-4.6 L2.2,-3.2 L0.2,-1.4 L-3.2,-3.6 Z" fill="#e8784a" stroke="#1e0c24" stroke-width="2" stroke-linejoin="round"/><path d="M-3.6,0.6 L-2.6,2 L4,-0.8" stroke="#ffd2a0" stroke-width="1.5" fill="none" stroke-linecap="round"/></g>
<g transform="translate(405.1,451.5) rotate(-30) scale(1.0)"><circle cx="-3" cy="1.2" r="3.1" fill="#e8784a" stroke="#1e0c24" stroke-width="2"/><circle cx="3.4" cy="-1.6" r="2.8" fill="#e8784a" stroke="#1e0c24" stroke-width="2"/><circle cx="-3" cy="1.2" r="1.3" fill="#ffd2a0"/><circle cx="3.4" cy="-1.6" r="1.2" fill="#ffd2a0"/></g>
<g transform="translate(318.9,477.9) rotate(-25) scale(1.0)"><path d="M-6,-1.5 L-3.2,4.2 L6.2,0 L5.6,-4.6 L2.2,-3.2 L0.2,-1.4 L-3.2,-3.6 Z" fill="#e8784a" stroke="#1e0c24" stroke-width="2" stroke-linejoin="round"/><path d="M-3.6,0.6 L-2.6,2 L4,-0.8" stroke="#ffd2a0" stroke-width="1.5" fill="none" stroke-linecap="round"/></g>
<g transform="translate(365.6,483.9) rotate(-35) scale(1.0)"><circle cx="-3" cy="1.2" r="3.1" fill="#e8784a" stroke="#1e0c24" stroke-width="2"/><circle cx="3.4" cy="-1.6" r="2.8" fill="#e8784a" stroke="#1e0c24" stroke-width="2"/><circle cx="-3" cy="1.2" r="1.3" fill="#ffd2a0"/><circle cx="3.4" cy="-1.6" r="1.2" fill="#ffd2a0"/></g>
<g transform="translate(412.3,494.6) rotate(-30) scale(1.0)"><path d="M-6,-1.5 L-3.2,4.2 L6.2,0 L5.6,-4.6 L2.2,-3.2 L0.2,-1.4 L-3.2,-3.6 Z" fill="#e8784a" stroke="#1e0c24" stroke-width="2" stroke-linejoin="round"/><path d="M-3.6,0.6 L-2.6,2 L4,-0.8" stroke="#ffd2a0" stroke-width="1.5" fill="none" stroke-linecap="round"/></g>
<g transform="translate(327.3,519.8) rotate(-30) scale(1.1)"><circle cx="-3" cy="1.2" r="3.1" fill="#e8784a" stroke="#1e0c24" stroke-width="2"/><circle cx="3.4" cy="-1.6" r="2.8" fill="#e8784a" stroke="#1e0c24" stroke-width="2"/><circle cx="-3" cy="1.2" r="1.3" fill="#ffd2a0"/><circle cx="3.4" cy="-1.6" r="1.2" fill="#ffd2a0"/></g>
<g transform="translate(374,527.7) rotate(-45) scale(1.0)"><rect x="-6.5" y="-2.6" width="13" height="5.2" rx="2.4" fill="#e8784a" stroke="#1e0c24" stroke-width="2"/><path d="M-4.3,0 H4.3" stroke="#ffd2a0" stroke-width="1.6" stroke-linecap="round"/></g>
<g transform="translate(420.7,535.3) rotate(-48) scale(1.0)"><rect x="-6.5" y="-2.6" width="13" height="5.2" rx="2.4" fill="#e8784a" stroke="#1e0c24" stroke-width="2"/><path d="M-4.3,0 H4.3" stroke="#ffd2a0" stroke-width="1.6" stroke-linecap="round"/></g>
<circle cx="290.2" cy="551" r="3.3" fill="#e8784a" stroke="#1e0c24" stroke-width="2"/>
<circle cx="442.5" cy="420.5" r="3.3" fill="#e8784a" stroke="#1e0c24" stroke-width="2"/>
<circle cx="449" cy="461" r="3.3" fill="#e8784a" stroke="#1e0c24" stroke-width="2"/>
</g>
<rect x="284.5" y="419.7" width="165.10000000000002" height="136.09999999999997" fill="none" stroke="#111" stroke-width="1.6"/>
<path d="M280.2,560.3 V414.4 M280.2,560.3 H458.3" stroke="#000" stroke-width="1.9" fill="none"/>
<polygon points="280.2,405.4 274.4,417.0 286.0,417.0" fill="#000"/>
<polygon points="467.3,560.3 455.7,554.5 455.7,566.0999999999999" fill="#000"/>
<g transform="translate(270.2,448) rotate(-90)"><text x="0" y="0" font-size="13.8" font-style="italic">V</text><text x="8.6" y="4.8" font-size="11.2" textLength="17.6" lengthAdjust="spacingAndGlyphs">RP</text></g>
<text x="428.2" y="576.8" font-size="13.8" font-style="italic">V</text>
<text x="436.09999999999997" y="581.9" font-size="12" textLength="15.6" lengthAdjust="spacingAndGlyphs">LP</text>
<clipPath id="cp2"><rect x="555.6" y="417" width="169.5" height="138.29999999999995"/></clipPath>
<rect x="555.6" y="417" width="169.5" height="138.29999999999995" fill="#b5e1d6"/>
<g clip-path="url(#cp2)">
<polygon points="578.3,428.3 584.3,429.1 583.4,422.9 594.3,426.0 581.8,438.5" fill="#4a1a30" stroke="#1a1228" stroke-width="1.5" stroke-linejoin="round"/>
<polygon points="584.8,424.9 590.8,426.7 585.8,431.8" fill="#f4a070"/>
<polygon points="579.9,429.5 584.3,430.3 581.5,435.1" fill="#f4a070"/>
<circle cx="586.3" cy="426.7" r="1.3" fill="#fcd4a8"/>
<circle cx="581.3" cy="430.9" r="1.2" fill="#fcd4a8"/>
<polygon points="625.8,436.9 631.8,437.7 630.9,431.5 641.8,434.6 629.3,447.1" fill="#4a1a30" stroke="#1a1228" stroke-width="1.5" stroke-linejoin="round"/>
<polygon points="625.8,436.9 631.8,437.7 630.9,431.5 641.8,434.6 629.3,447.1" fill="#2a1c48"/>
<circle cx="629.0" cy="439.3" r="1.5" fill="#e89aa0"/>
<circle cx="633.4" cy="434.7" r="1.5" fill="#e89aa0"/>
<path d="M630.3,443.4 L638.3,436.1" stroke="#b04a78" stroke-width="1.1"/>
<path d="M677.7,457.3 L690.7,444.8" stroke="#3a86d8" stroke-width="3" opacity="0.9" filter="url(#bl2)"/>
<polygon points="673.2,445.8 679.2,446.6 678.3,440.4 689.2,443.5 676.7,456.0" fill="#4a1a30" stroke="#1a1228" stroke-width="1.5" stroke-linejoin="round"/>
<polygon points="673.2,445.8 679.2,446.6 678.3,440.4 689.2,443.5 676.7,456.0" fill="#2a1c48"/>
<circle cx="676.4" cy="448.2" r="1.5" fill="#e89aa0"/>
<circle cx="680.8" cy="443.6" r="1.5" fill="#e89aa0"/>
<path d="M677.7,452.3 L685.7,445.0" stroke="#b04a78" stroke-width="1.1"/>
<polygon points="584.6,472.7 590.6,473.5 589.7,467.3 600.6,470.4 588.1,482.9" fill="#4a1a30" stroke="#1a1228" stroke-width="1.5" stroke-linejoin="round"/>
<polygon points="591.1,469.3 597.1,471.1 592.1,476.2" fill="#f4a070"/>
<polygon points="586.2,473.9 590.6,474.7 587.8,479.5" fill="#f4a070"/>
<circle cx="592.6" cy="471.1" r="1.3" fill="#fcd4a8"/>
<circle cx="587.6" cy="475.3" r="1.2" fill="#fcd4a8"/>
<polygon points="633.0,481.3 639.0,482.1 638.1,475.9 649.0,479.0 636.5,491.5" fill="#4a1a30" stroke="#1a1228" stroke-width="1.5" stroke-linejoin="round"/>
<polygon points="633.0,481.3 639.0,482.1 638.1,475.9 649.0,479.0 636.5,491.5" fill="#2a1c48"/>
<circle cx="636.2" cy="483.7" r="1.5" fill="#e89aa0"/>
<circle cx="640.6" cy="479.1" r="1.5" fill="#e89aa0"/>
<path d="M637.5,487.8 L645.5,480.5" stroke="#b04a78" stroke-width="1.1"/>
<polygon points="681.1,490.7 687.7,491.6 686.7,484.8 698.7,488.2 685.0,501.9" fill="#4a1a30" stroke="#1a1228" stroke-width="1.5" stroke-linejoin="round"/>
<polygon points="688.2,487.0 694.9,488.9 689.4,494.6" fill="#f4a070"/>
<polygon points="682.9,492.0 687.7,492.9 684.6,498.2" fill="#f4a070"/>
<circle cx="689.9" cy="488.9" r="1.4" fill="#fcd4a8"/>
<circle cx="684.4" cy="493.6" r="1.3" fill="#fcd4a8"/>
<path d="M595.4,526.8 L608.4,514.3" stroke="#3a86d8" stroke-width="3" opacity="0.9" filter="url(#bl2)"/>
<polygon points="590.9,515.3 596.9,516.1 596.0,509.9 606.9,513.0 594.4,525.5" fill="#4a1a30" stroke="#1a1228" stroke-width="1.5" stroke-linejoin="round"/>
<polygon points="597.4,511.9 603.4,513.7 598.4,518.8" fill="#f4a070"/>
<polygon points="592.5,516.5 596.9,517.3 594.1,522.1" fill="#f4a070"/>
<circle cx="598.9" cy="513.7" r="1.3" fill="#fcd4a8"/>
<circle cx="593.9" cy="517.9" r="1.2" fill="#fcd4a8"/>
<polygon points="640.0,524.9 646.0,525.7 645.1,519.5 656.0,522.6 643.5,535.1" fill="#4a1a30" stroke="#1a1228" stroke-width="1.5" stroke-linejoin="round"/>
<polygon points="646.5,521.5 652.5,523.3 647.5,528.4" fill="#f4a070"/>
<polygon points="641.6,526.1 646.0,526.9 643.2,531.7" fill="#f4a070"/>
<circle cx="648.0" cy="523.3" r="1.3" fill="#fcd4a8"/>
<circle cx="643.0" cy="527.5" r="1.2" fill="#fcd4a8"/>
<path d="M693.5,546.5 L706.5,534.0" stroke="#3a86d8" stroke-width="3" opacity="0.9" filter="url(#bl2)"/>
<polygon points="689.0,535.0 695.0,535.8 694.1,529.6 705.0,532.7 692.5,545.2" fill="#4a1a30" stroke="#1a1228" stroke-width="1.5" stroke-linejoin="round"/>
<polygon points="689.0,535.0 695.0,535.8 694.1,529.6 705.0,532.7 692.5,545.2" fill="#2a1c48"/>
<circle cx="692.2" cy="537.4" r="1.5" fill="#e89aa0"/>
<circle cx="696.6" cy="532.8" r="1.5" fill="#e89aa0"/>
<path d="M693.5,541.5 L701.5,534.2" stroke="#b04a78" stroke-width="1.1"/>
<polygon points="551.4,549.8 556.5,550.5 555.7,545.2 565.0,547.8 554.4,558.5" fill="#4a1a30" stroke="#1a1228" stroke-width="1.5" stroke-linejoin="round"/>
<polygon points="556.9,546.9 562.0,548.4 557.8,552.8" fill="#f4a070"/>
<polygon points="552.8,550.8 556.5,551.5 554.1,555.6" fill="#f4a070"/>
<circle cx="558.2" cy="548.4" r="1.1" fill="#fcd4a8"/>
<circle cx="553.9" cy="552.0" r="1.0" fill="#fcd4a8"/>
<path d="M723,462 L726,472" stroke="#2a4a9a" stroke-width="3" opacity="0.7"/>
</g>
<rect x="555.6" y="417" width="169.5" height="138.29999999999995" fill="none" stroke="#111" stroke-width="1.6"/>
<path d="M550.2,559.3 V413.3 M550.2,559.3 H732.9" stroke="#000" stroke-width="1.9" fill="none"/>
<polygon points="550.2,404.3 544.4000000000001,415.90000000000003 556.0,415.90000000000003" fill="#000"/>
<polygon points="741.9,559.3 730.3,553.5 730.3,565.0999999999999" fill="#000"/>
<g transform="translate(539.6,446.6) rotate(-90)"><text x="0" y="0" font-size="13.8" font-style="italic">V</text><text x="8.6" y="4.8" font-size="11.2" textLength="17.6" lengthAdjust="spacingAndGlyphs">RP</text></g>
<text x="700.6" y="575.6" font-size="13.8" font-style="italic">V</text>
<text x="708.5" y="580.7" font-size="12" textLength="15.6" lengthAdjust="spacingAndGlyphs">LP</text>
<linearGradient id="tg" x1="0" y1="0" x2="1" y2="0.35">
<stop offset="0" stop-color="#240a1a"/><stop offset="0.18" stop-color="#6a2030"/>
<stop offset="0.45" stop-color="#d8643e"/><stop offset="0.8" stop-color="#f4aa78"/><stop offset="1" stop-color="#f8c494"/></linearGradient>
<filter id="bl3" x="-20%" y="-20%" width="140%" height="140%"><feGaussianBlur stdDeviation="0.45"/></filter>
<rect x="822.7" y="415" width="105.59999999999991" height="140.70000000000005" fill="#b5e1d6"/>
<rect x="931.7" y="415" width="105.59999999999991" height="140.70000000000005" fill="#b5e1d6"/>
<polygon points="893,446 911,452.5 858,538.5 850,535 846.7,513.3 870,480 871.7,478.3" fill="#6aa8d6" opacity="0.72" filter="url(#bl1)"/>
<polygon points="863.3,433.3 895,446.7 871.7,478.3" fill="#2a3a90" stroke="#2a3a90" stroke-width="3" stroke-linejoin="round" opacity="0.7" filter="url(#bl1)"/>
<polygon points="863.3,433.3 895,446.7 871.7,478.3" fill="url(#tg)" stroke="#1a1030" stroke-width="1.6" stroke-linejoin="round" filter="url(#bl3)"/>
<polygon points="836.7,468.3 870,480 846.7,513.3" fill="#2a3a90" stroke="#2a3a90" stroke-width="3" stroke-linejoin="round" opacity="0.7" filter="url(#bl1)"/>
<polygon points="836.7,468.3 870,480 846.7,513.3" fill="url(#tg)" stroke="#1a1030" stroke-width="1.6" stroke-linejoin="round" filter="url(#bl3)"/>
<polygon points="946.7,468.3 975,479.5 971.7,433.3 1021.7,452.7 961.7,540" fill="#2a4aa0" stroke="#3a6ac0" stroke-width="3.5" stroke-linejoin="round" opacity="0.6" filter="url(#bl1)"/>
<polygon points="946.7,468.3 975,479.5 971.7,433.3 1021.7,452.7 961.7,540" fill="#5a1828" stroke="#1a1030" stroke-width="1.8" stroke-linejoin="round" filter="url(#bl2)"/>
<polygon points="972.5,435 1012,451 978,494" fill="url(#tg)" filter="url(#bl3)"/>
<polygon points="948,469.5 974,480 954,513" fill="url(#tg)" filter="url(#bl3)"/>
<polygon points="954,513 978,494 1012,451 1019,453.5 961.7,538" fill="#6a1c30" filter="url(#bl3)"/>
<rect x="822.7" y="415" width="105.59999999999991" height="140.70000000000005" fill="none" stroke="#111" stroke-width="1.6"/>
<rect x="931.7" y="415" width="105.59999999999991" height="140.70000000000005" fill="none" stroke="#111" stroke-width="1.6"/>
<polygon points="1003.30,454.50 1006.18,460.54 1012.81,461.41 1007.96,466.01 1009.18,472.59 1003.30,469.40 997.42,472.59 998.64,466.01 993.79,461.41 1000.42,460.54" fill="#e23ee0" stroke="#2a1030" stroke-width="1.5" stroke-linejoin="round"/>
<circle cx="1003.3" cy="530.7" r="10" fill="#e23ee0" stroke="#2a1030" stroke-width="1.5"/>
<path d="M817.7,559.8 V412.1 M817.7,559.8 H1044.9" stroke="#000" stroke-width="1.9" fill="none"/>
<polygon points="817.7,403.1 811.9000000000001,414.70000000000005 823.5,414.70000000000005" fill="#000"/>
<polygon points="1053.9,559.8 1042.3000000000002,554.0 1042.3000000000002,565.5999999999999" fill="#000"/>
<text x="896.6" y="409.5" font-size="13.3" fill="#000" font-style="italic">B</text>
<text x="909.6" y="409.5" font-size="13.3" fill="#000" textLength="19" lengthAdjust="spacingAndGlyphs">= 0</text>
<text x="1005.6" y="409.5" font-size="13.3" fill="#000" font-style="italic">B</text>
<text x="1018.6" y="409.5" font-size="13.3" fill="#000" textLength="19" lengthAdjust="spacingAndGlyphs">&gt; 0</text>
<g transform="translate(806.4,442.3) rotate(-90)"><text x="0" y="0" font-size="13.8" font-style="italic">V</text><text x="8.6" y="4.8" font-size="11.2" textLength="17.6" lengthAdjust="spacingAndGlyphs">RP</text></g>
<text x="1010.7" y="576.8" font-size="13.8" font-style="italic">V</text>
<text x="1018.6" y="581.9" font-size="12" textLength="15.6" lengthAdjust="spacingAndGlyphs">LP</text>
<clipPath id="cp4"><rect x="1121" y="414" width="96" height="141"/></clipPath>
<g clip-path="url(#cp4)"><g filter="url(#bl2)"><rect x="1121" y="414" width="3" height="3" fill="#6bb1da"/><rect x="1124" y="414" width="3" height="3" fill="#95d2de"/><rect x="1127" y="414" width="3" height="3" fill="#bce5de"/><rect x="1130" y="414" width="3" height="3" fill="#86cade"/><rect x="1133" y="414" width="3" height="3" fill="#488ed5"/><rect x="1136" y="414" width="3" height="3" fill="#66acd9"/><rect x="1139" y="414" width="3" height="3" fill="#b0dfde"/><rect x="1142" y="414" width="3" height="3" fill="#acddde"/><rect x="1145" y="414" width="3" height="3" fill="#5298d7"/><rect x="1148" y="414" width="3" height="3" fill="#385ab5"/><rect x="1151" y="414" width="3" height="3" fill="#395fb8"/><rect x="1154" y="414" width="3" height="3" fill="#4e94d6"/><rect x="1157" y="414" width="3" height="3" fill="#90cfde"/><rect x="1160" y="414" width="3" height="3" fill="#b4e1de"/><rect x="1163" y="414" width="3" height="3" fill="#bce5de"/><rect x="1166" y="414" width="3" height="3" fill="#bae4de"/><rect x="1169" y="414" width="3" height="3" fill="#bae4de"/><rect x="1172" y="414" width="3" height="3" fill="#bce5de"/><rect x="1175" y="414" width="3" height="3" fill="#b4e1de"/><rect x="1178" y="414" width="3" height="3" fill="#90cfde"/><rect x="1181" y="414" width="3" height="3" fill="#4e94d6"/><rect x="1184" y="414" width="3" height="3" fill="#395fb8"/><rect x="1187" y="414" width="3" height="3" fill="#385ab5"/><rect x="1190" y="414" width="3" height="3" fill="#5298d7"/><rect x="1193" y="414" width="3" height="3" fill="#acddde"/><rect x="1196" y="414" width="3" height="3" fill="#b0dfde"/><rect x="1199" y="414" width="3" height="3" fill="#66acd9"/><rect x="1202" y="414" width="3" height="3" fill="#488ed5"/><rect x="1205" y="414" width="3" height="3" fill="#86cade"/><rect x="1208" y="414" width="3" height="3" fill="#bce5de"/><rect x="1211" y="414" width="3" height="3" fill="#95d2de"/><rect x="1214" y="414" width="3" height="3" fill="#6bb1da"/><rect x="1121" y="417" width="3" height="3" fill="#78bedc"/><rect x="1124" y="417" width="3" height="3" fill="#b1e0de"/><rect x="1127" y="417" width="3" height="3" fill="#afdede"/><rect x="1130" y="417" width="3" height="3" fill="#65abd9"/><rect x="1133" y="417" width="3" height="3" fill="#4b91d6"/><rect x="1136" y="417" width="3" height="3" fill="#8accde"/><rect x="1139" y="417" width="3" height="3" fill="#bce5de"/><rect x="1142" y="417" width="3" height="3" fill="#8accde"/><rect x="1145" y="417" width="3" height="3" fill="#3c76c9"/><rect x="1148" y="417" width="3" height="3" fill="#3857b2"/><rect x="1151" y="417" width="3" height="3" fill="#3c78cb"/><rect x="1154" y="417" width="3" height="3" fill="#79bfdc"/><rect x="1157" y="417" width="3" height="3" fill="#afdfde"/><rect x="1160" y="417" width="3" height="3" fill="#bce5de"/><rect x="1163" y="417" width="3" height="3" fill="#b2e0de"/><rect x="1166" y="417" width="3" height="3" fill="#a7dbde"/><rect x="1169" y="417" width="3" height="3" fill="#a7dbde"/><rect x="1172" y="417" width="3" height="3" fill="#b2e0de"/><rect x="1175" y="417" width="3" height="3" fill="#bce5de"/><rect x="1178" y="417" width="3" height="3" fill="#afdfde"/><rect x="1181" y="417" width="3" height="3" fill="#79bfdc"/><rect x="1184" y="417" width="3" height="3" fill="#3c78cb"/><rect x="1187" y="417" width="3" height="3" fill="#3857b2"/><rect x="1190" y="417" width="3" height="3" fill="#3c76c9"/><rect x="1193" y="417" width="3" height="3" fill="#8accde"/><rect x="1196" y="417" width="3" height="3" fill="#bce5de"/><rect x="1199" y="417" width="3" height="3" fill="#8accde"/><rect x="1202" y="417" width="3" height="3" fill="#4b91d6"/><rect x="1205" y="417" width="3" height="3" fill="#65abd9"/><rect x="1208" y="417" width="3" height="3" fill="#afdede"/><rect x="1211" y="417" width="3" height="3" fill="#b1e0de"/><rect x="1214" y="417" width="3" height="3" fill="#78bedc"/><rect x="1121" y="420" width="3" height="3" fill="#94d1de"/><rect x="1124" y="420" width="3" height="3" fill="#bce5de"/><rect x="1127" y="420" width="3" height="3" fill="#90cfde"/><rect x="1130" y="420" width="3" height="3" fill="#5096d6"/><rect x="1133" y="420" width="3" height="3" fill="#62a8d9"/><rect x="1136" y="420" width="3" height="3" fill="#aadcde"/><rect x="1139" y="420" width="3" height="3" fill="#b3e1de"/><rect x="1142" y="420" width="3" height="3" fill="#60a6d9"/><rect x="1145" y="420" width="3" height="3" fill="#3962ba"/><rect x="1148" y="420" width="3" height="3" fill="#3a64bc"/><rect x="1151" y="420" width="3" height="3" fill="#599fd8"/><rect x="1154" y="420" width="3" height="3" fill="#a0d7de"/><rect x="1157" y="420" width="3" height="3" fill="#bce5de"/><rect x="1160" y="420" width="3" height="3" fill="#b0dfde"/><rect x="1163" y="420" width="3" height="3" fill="#94d1de"/><rect x="1166" y="420" width="3" height="3" fill="#81c7dd"/><rect x="1169" y="420" width="3" height="3" fill="#81c7dd"/><rect x="1172" y="420" width="3" height="3" fill="#94d1de"/><rect x="1175" y="420" width="3" height="3" fill="#b0dfde"/><rect x="1178" y="420" width="3" height="3" fill="#bce5de"/><rect x="1181" y="420" width="3" height="3" fill="#a0d7de"/><rect x="1184" y="420" width="3" height="3" fill="#599fd8"/><rect x="1187" y="420" width="3" height="3" fill="#3a64bc"/><rect x="1190" y="420" width="3" height="3" fill="#3962ba"/><rect x="1193" y="420" width="3" height="3" fill="#60a6d9"/><rect x="1196" y="420" width="3" height="3" fill="#b3e1de"/><rect x="1199" y="420" width="3" height="3" fill="#aadcde"/><rect x="1202" y="420" width="3" height="3" fill="#62a8d9"/><rect x="1205" y="420" width="3" height="3" fill="#5096d6"/><rect x="1208" y="420" width="3" height="3" fill="#90cfde"/><rect x="1211" y="420" width="3" height="3" fill="#bce5de"/><rect x="1214" y="420" width="3" height="3" fill="#94d1de"/><rect x="1121" y="423" width="3" height="3" fill="#b0dfde"/><rect x="1124" y="423" width="3" height="3" fill="#b2e0de"/><rect x="1127" y="423" width="3" height="3" fill="#6eb4db"/><rect x="1130" y="423" width="3" height="3" fill="#4e94d6"/><rect x="1133" y="423" width="3" height="3" fill="#84c9de"/><rect x="1136" y="423" width="3" height="3" fill="#bce5de"/><rect x="1139" y="423" width="3" height="3" fill="#95d1de"/><rect x="1142" y="423" width="3" height="3" fill="#3d7fd0"/><rect x="1145" y="423" width="3" height="3" fill="#395db6"/><rect x="1148" y="423" width="3" height="3" fill="#3d7ecf"/><rect x="1151" y="423" width="3" height="3" fill="#85c9de"/><rect x="1154" y="423" width="3" height="3" fill="#b8e3de"/><rect x="1157" y="423" width="3" height="3" fill="#b4e1de"/><rect x="1160" y="423" width="3" height="3" fill="#8fcede"/><rect x="1163" y="423" width="3" height="3" fill="#67adda"/><rect x="1166" y="423" width="3" height="3" fill="#4f95d6"/><rect x="1169" y="423" width="3" height="3" fill="#4f95d6"/><rect x="1172" y="423" width="3" height="3" fill="#67adda"/><rect x="1175" y="423" width="3" height="3" fill="#8fcede"/><rect x="1178" y="423" width="3" height="3" fill="#b4e1de"/><rect x="1181" y="423" width="3" height="3" fill="#b8e3de"/><rect x="1184" y="423" width="3" height="3" fill="#85c9de"/><rect x="1187" y="423" width="3" height="3" fill="#3d7ecf"/><rect x="1190" y="423" width="3" height="3" fill="#395db6"/><rect x="1193" y="423" width="3" height="3" fill="#3d7fd0"/><rect x="1196" y="423" width="3" height="3" fill="#95d1de"/><rect x="1199" y="423" width="3" height="3" fill="#bce5de"/><rect x="1202" y="423" width="3" height="3" fill="#84c9de"/><rect x="1205" y="423" width="3" height="3" fill="#4e94d6"/><rect x="1208" y="423" width="3" height="3" fill="#6eb4db"/><rect x="1211" y="423" width="3" height="3" fill="#b2e0de"/><rect x="1214" y="423" width="3" height="3" fill="#b0dfde"/><rect x="1121" y="426" width="3" height="3" fill="#bce5de"/><rect x="1124" y="426" width="3" height="3" fill="#94d1de"/><rect x="1127" y="426" width="3" height="3" fill="#569cd7"/><rect x="1130" y="426" width="3" height="3" fill="#62a8d9"/><rect x="1133" y="426" width="3" height="3" fill="#a7dade"/><rect x="1136" y="426" width="3" height="3" fill="#b6e2de"/><rect x="1139" y="426" width="3" height="3" fill="#6bb1da"/><rect x="1142" y="426" width="3" height="3" fill="#3a69c0"/><rect x="1145" y="426" width="3" height="3" fill="#3a69bf"/><rect x="1148" y="426" width="3" height="3" fill="#61a7d9"/><rect x="1151" y="426" width="3" height="3" fill="#a9dcde"/><rect x="1154" y="426" width="3" height="3" fill="#bbe5de"/><rect x="1157" y="426" width="3" height="3" fill="#97d2de"/><rect x="1160" y="426" width="3" height="3" fill="#5fa5d8"/><rect x="1163" y="426" width="3" height="3" fill="#3c7acc"/><rect x="1166" y="426" width="3" height="3" fill="#3a66be"/><rect x="1169" y="426" width="3" height="3" fill="#3a66be"/><rect x="1172" y="426" width="3" height="3" fill="#3c7acc"/><rect x="1175" y="426" width="3" height="3" fill="#5fa5d8"/><rect x="1178" y="426" width="3" height="3" fill="#97d2de"/><rect x="1181" y="426" width="3" height="3" fill="#bbe5de"/><rect x="1184" y="426" width="3" height="3" fill="#a9dcde"/><rect x="1187" y="426" width="3" height="3" fill="#61a7d9"/><rect x="1190" y="426" width="3" height="3" fill="#3a69bf"/><rect x="1193" y="426" width="3" height="3" fill="#3a69c0"/><rect x="1196" y="426" width="3" height="3" fill="#6bb1da"/><rect x="1199" y="426" width="3" height="3" fill="#b6e2de"/><rect x="1202" y="426" width="3" height="3" fill="#a7dade"/><rect x="1205" y="426" width="3" height="3" fill="#62a8d9"/><rect x="1208" y="426" width="3" height="3" fill="#569cd7"/><rect x="1211" y="426" width="3" height="3" fill="#94d1de"/><rect x="1214" y="426" width="3" height="3" fill="#bce5de"/><rect x="1121" y="429" width="3" height="3" fill="#b1e0de"/><rect x="1124" y="429" width="3" height="3" fill="#72b8db"/><rect x="1127" y="429" width="3" height="3" fill="#5399d7"/><rect x="1130" y="429" width="3" height="3" fill="#84c9de"/><rect x="1133" y="429" width="3" height="3" fill="#bbe5de"/><rect x="1136" y="429" width="3" height="3" fill="#9bd5de"/><rect x="1139" y="429" width="3" height="3" fill="#4288d4"/><rect x="1142" y="429" width="3" height="3" fill="#3963bb"/><rect x="1145" y="429" width="3" height="3" fill="#3d82d3"/><rect x="1148" y="429" width="3" height="3" fill="#8dcdde"/><rect x="1151" y="429" width="3" height="3" fill="#bbe5de"/><rect x="1154" y="429" width="3" height="3" fill="#a7dbde"/><rect x="1157" y="429" width="3" height="3" fill="#69afda"/><rect x="1160" y="429" width="3" height="3" fill="#3b73c7"/><rect x="1163" y="429" width="3" height="3" fill="#354ea6"/><rect x="1166" y="429" width="3" height="3" fill="#2d3a7f"/><rect x="1169" y="429" width="3" height="3" fill="#2d3a7f"/><rect x="1172" y="429" width="3" height="3" fill="#354ea6"/><rect x="1175" y="429" width="3" height="3" fill="#3b73c7"/><rect x="1178" y="429" width="3" height="3" fill="#69afda"/><rect x="1181" y="429" width="3" height="3" fill="#a7dbde"/><rect x="1184" y="429" width="3" height="3" fill="#bbe5de"/><rect x="1187" y="429" width="3" height="3" fill="#8dcdde"/><rect x="1190" y="429" width="3" height="3" fill="#3d82d3"/><rect x="1193" y="429" width="3" height="3" fill="#3963bb"/><rect x="1196" y="429" width="3" height="3" fill="#4288d4"/><rect x="1199" y="429" width="3" height="3" fill="#9bd5de"/><rect x="1202" y="429" width="3" height="3" fill="#bbe5de"/><rect x="1205" y="429" width="3" height="3" fill="#84c9de"/><rect x="1208" y="429" width="3" height="3" fill="#5399d7"/><rect x="1211" y="429" width="3" height="3" fill="#72b8db"/><rect x="1214" y="429" width="3" height="3" fill="#b1e0de"/><rect x="1121" y="432" width="3" height="3" fill="#93d0de"/><rect x="1124" y="432" width="3" height="3" fill="#5ba1d8"/><rect x="1127" y="432" width="3" height="3" fill="#67adda"/><rect x="1130" y="432" width="3" height="3" fill="#a7dade"/><rect x="1133" y="432" width="3" height="3" fill="#b8e3de"/><rect x="1136" y="432" width="3" height="3" fill="#72b8db"/><rect x="1139" y="432" width="3" height="3" fill="#3b70c5"/><rect x="1142" y="432" width="3" height="3" fill="#3b6ec3"/><rect x="1145" y="432" width="3" height="3" fill="#68aeda"/><rect x="1148" y="432" width="3" height="3" fill="#aedede"/><rect x="1151" y="432" width="3" height="3" fill="#b7e3de"/><rect x="1154" y="432" width="3" height="3" fill="#80c6dd"/><rect x="1157" y="432" width="3" height="3" fill="#3c7bcd"/><rect x="1160" y="432" width="3" height="3" fill="#334899"/><rect x="1163" y="432" width="3" height="3" fill="#242654"/><rect x="1166" y="432" width="3" height="3" fill="#1b1b33"/><rect x="1169" y="432" width="3" height="3" fill="#1b1b33"/><rect x="1172" y="432" width="3" height="3" fill="#242654"/><rect x="1175" y="432" width="3" height="3" fill="#334899"/><rect x="1178" y="432" width="3" height="3" fill="#3c7bcd"/><rect x="1181" y="432" width="3" height="3" fill="#80c6dd"/><rect x="1184" y="432" width="3" height="3" fill="#b7e3de"/><rect x="1187" y="432" width="3" height="3" fill="#aedede"/><rect x="1190" y="432" width="3" height="3" fill="#68aeda"/><rect x="1193" y="432" width="3" height="3" fill="#3b6ec3"/><rect x="1196" y="432" width="3" height="3" fill="#3b70c5"/><rect x="1199" y="432" width="3" height="3" fill="#72b8db"/><rect x="1202" y="432" width="3" height="3" fill="#b8e3de"/><rect x="1205" y="432" width="3" height="3" fill="#a7dade"/><rect x="1208" y="432" width="3" height="3" fill="#67adda"/><rect x="1211" y="432" width="3" height="3" fill="#5ba1d8"/><rect x="1214" y="432" width="3" height="3" fill="#93d0de"/><rect x="1121" y="435" width="3" height="3" fill="#72b8db"/><rect x="1124" y="435" width="3" height="3" fill="#599fd8"/><rect x="1127" y="435" width="3" height="3" fill="#88cbde"/><rect x="1130" y="435" width="3" height="3" fill="#bbe5de"/><rect x="1133" y="435" width="3" height="3" fill="#9dd6de"/><rect x="1136" y="435" width="3" height="3" fill="#498fd5"/><rect x="1139" y="435" width="3" height="3" fill="#3a6ac0"/><rect x="1142" y="435" width="3" height="3" fill="#4389d4"/><rect x="1145" y="435" width="3" height="3" fill="#93d0de"/><rect x="1148" y="435" width="3" height="3" fill="#bce5de"/><rect x="1151" y="435" width="3" height="3" fill="#9bd5de"/><rect x="1154" y="435" width="3" height="3" fill="#4c92d6"/><rect x="1157" y="435" width="3" height="3" fill="#3651ab"/><rect x="1160" y="435" width="3" height="3" fill="#21234b"/><rect x="1163" y="435" width="3" height="3" fill="#171521"/><rect x="1166" y="435" width="3" height="3" fill="#17141d"/><rect x="1169" y="435" width="3" height="3" fill="#17141d"/><rect x="1172" y="435" width="3" height="3" fill="#171521"/><rect x="1175" y="435" width="3" height="3" fill="#21234b"/><rect x="1178" y="435" width="3" height="3" fill="#3651ab"/><rect x="1181" y="435" width="3" height="3" fill="#4c92d6"/><rect x="1184" y="435" width="3" height="3" fill="#9bd5de"/><rect x="1187" y="435" width="3" height="3" fill="#bce5de"/><rect x="1190" y="435" width="3" height="3" fill="#93d0de"/><rect x="1193" y="435" width="3" height="3" fill="#4389d4"/><rect x="1196" y="435" width="3" height="3" fill="#3a6ac0"/><rect x="1199" y="435" width="3" height="3" fill="#498fd5"/><rect x="1202" y="435" width="3" height="3" fill="#9dd6de"/><rect x="1205" y="435" width="3" height="3" fill="#bbe5de"/><rect x="1208" y="435" width="3" height="3" fill="#88cbde"/><rect x="1211" y="435" width="3" height="3" fill="#599fd8"/><rect x="1214" y="435" width="3" height="3" fill="#72b8db"/><rect x="1121" y="438" width="3" height="3" fill="#5ea4d8"/><rect x="1124" y="438" width="3" height="3" fill="#6fb5db"/><rect x="1127" y="438" width="3" height="3" fill="#abdcde"/><rect x="1130" y="438" width="3" height="3" fill="#b7e3de"/><rect x="1133" y="438" width="3" height="3" fill="#75bbdc"/><rect x="1136" y="438" width="3" height="3" fill="#3c76c9"/><rect x="1139" y="438" width="3" height="3" fill="#3c75c9"/><rect x="1142" y="438" width="3" height="3" fill="#6fb5db"/><rect x="1145" y="438" width="3" height="3" fill="#b2e0de"/><rect x="1148" y="438" width="3" height="3" fill="#b2e0de"/><rect x="1151" y="438" width="3" height="3" fill="#6eb4db"/><rect x="1154" y="438" width="3" height="3" fill="#3a64bc"/><rect x="1157" y="438" width="3" height="3" fill="#26295d"/><rect x="1160" y="438" width="3" height="3" fill="#171521"/><rect x="1163" y="438" width="3" height="3" fill="#16131c"/><rect x="1166" y="438" width="3" height="3" fill="#16131b"/><rect x="1169" y="438" width="3" height="3" fill="#16131b"/><rect x="1172" y="438" width="3" height="3" fill="#16131c"/><rect x="1175" y="438" width="3" height="3" fill="#171521"/><rect x="1178" y="438" width="3" height="3" fill="#26295d"/><rect x="1181" y="438" width="3" height="3" fill="#3a64bc"/><rect x="1184" y="438" width="3" height="3" fill="#6eb4db"/><rect x="1187" y="438" width="3" height="3" fill="#b2e0de"/><rect x="1190" y="438" width="3" height="3" fill="#b2e0de"/><rect x="1193" y="438" width="3" height="3" fill="#6fb5db"/><rect x="1196" y="438" width="3" height="3" fill="#3c75c9"/><rect x="1199" y="438" width="3" height="3" fill="#3c76c9"/><rect x="1202" y="438" width="3" height="3" fill="#75bbdc"/><rect x="1205" y="438" width="3" height="3" fill="#b7e3de"/><rect x="1208" y="438" width="3" height="3" fill="#abdcde"/><rect x="1211" y="438" width="3" height="3" fill="#6fb5db"/><rect x="1214" y="438" width="3" height="3" fill="#5ea4d8"/><rect x="1121" y="441" width="3" height="3" fill="#61a7d9"/><rect x="1124" y="441" width="3" height="3" fill="#92d0de"/><rect x="1127" y="441" width="3" height="3" fill="#bce5de"/><rect x="1130" y="441" width="3" height="3" fill="#9bd5de"/><rect x="1133" y="441" width="3" height="3" fill="#4c92d6"/><rect x="1136" y="441" width="3" height="3" fill="#3b70c5"/><rect x="1139" y="441" width="3" height="3" fill="#4d93d6"/><rect x="1142" y="441" width="3" height="3" fill="#9ad4de"/><rect x="1145" y="441" width="3" height="3" fill="#bce5de"/><rect x="1148" y="441" width="3" height="3" fill="#91cfde"/><rect x="1151" y="441" width="3" height="3" fill="#3d7fd0"/><rect x="1154" y="441" width="3" height="3" fill="#2e3b80"/><rect x="1157" y="441" width="3" height="3" fill="#181727"/><rect x="1160" y="441" width="3" height="3" fill="#17141f"/><rect x="1163" y="441" width="3" height="3" fill="#171521"/><rect x="1166" y="441" width="3" height="3" fill="#181624"/><rect x="1169" y="441" width="3" height="3" fill="#181624"/><rect x="1172" y="441" width="3" height="3" fill="#171521"/><rect x="1175" y="441" width="3" height="3" fill="#17141f"/><rect x="1178" y="441" width="3" height="3" fill="#181727"/><rect x="1181" y="441" width="3" height="3" fill="#2e3b80"/><rect x="1184" y="441" width="3" height="3" fill="#3d7fd0"/><rect x="1187" y="441" width="3" height="3" fill="#91cfde"/><rect x="1190" y="441" width="3" height="3" fill="#bce5de"/><rect x="1193" y="441" width="3" height="3" fill="#9ad4de"/><rect x="1196" y="441" width="3" height="3" fill="#4d93d6"/><rect x="1199" y="441" width="3" height="3" fill="#3b70c5"/><rect x="1202" y="441" width="3" height="3" fill="#4c92d6"/><rect x="1205" y="441" width="3" height="3" fill="#9bd5de"/><rect x="1208" y="441" width="3" height="3" fill="#bce5de"/><rect x="1211" y="441" width="3" height="3" fill="#92d0de"/><rect x="1214" y="441" width="3" height="3" fill="#61a7d9"/><rect x="1121" y="444" width="3" height="3" fill="#7bc1dd"/><rect x="1124" y="444" width="3" height="3" fill="#b1e0de"/><rect x="1127" y="444" width="3" height="3" fill="#b4e1de"/><rect x="1130" y="444" width="3" height="3" fill="#72b8db"/><rect x="1133" y="444" width="3" height="3" fill="#3c7acd"/><rect x="1136" y="444" width="3" height="3" fill="#3d7ecf"/><rect x="1139" y="444" width="3" height="3" fill="#79bfdc"/><rect x="1142" y="444" width="3" height="3" fill="#b6e2de"/><rect x="1145" y="444" width="3" height="3" fill="#addede"/><rect x="1148" y="444" width="3" height="3" fill="#60a6d9"/><rect x="1151" y="444" width="3" height="3" fill="#3856b1"/><rect x="1154" y="444" width="3" height="3" fill="#1f2043"/><rect x="1157" y="444" width="3" height="3" fill="#171522"/><rect x="1160" y="444" width="3" height="3" fill="#1a192f"/><rect x="1163" y="444" width="3" height="3" fill="#242755"/><rect x="1166" y="444" width="3" height="3" fill="#2a316e"/><rect x="1169" y="444" width="3" height="3" fill="#2a316e"/><rect x="1172" y="444" width="3" height="3" fill="#242755"/><rect x="1175" y="444" width="3" height="3" fill="#1a192f"/><rect x="1178" y="444" width="3" height="3" fill="#171522"/><rect x="1181" y="444" width="3" height="3" fill="#1f2043"/><rect x="1184" y="444" width="3" height="3" fill="#3856b1"/><rect x="1187" y="444" width="3" height="3" fill="#60a6d9"/><rect x="1190" y="444" width="3" height="3" fill="#addede"/><rect x="1193" y="444" width="3" height="3" fill="#b6e2de"/><rect x="1196" y="444" width="3" height="3" fill="#79bfdc"/><rect x="1199" y="444" width="3" height="3" fill="#3d7ecf"/><rect x="1202" y="444" width="3" height="3" fill="#3c7acd"/><rect x="1205" y="444" width="3" height="3" fill="#72b8db"/><rect x="1208" y="444" width="3" height="3" fill="#b4e1de"/><rect x="1211" y="444" width="3" height="3" fill="#b1e0de"/><rect x="1214" y="444" width="3" height="3" fill="#7bc1dd"/><rect x="1121" y="447" width="3" height="3" fill="#9fd6de"/><rect x="1124" y="447" width="3" height="3" fill="#bce5de"/><rect x="1127" y="447" width="3" height="3" fill="#94d1de"/><rect x="1130" y="447" width="3" height="3" fill="#4c92d6"/><rect x="1133" y="447" width="3" height="3" fill="#3c78cb"/><rect x="1136" y="447" width="3" height="3" fill="#5aa0d8"/><rect x="1139" y="447" width="3" height="3" fill="#a2d8de"/><rect x="1142" y="447" width="3" height="3" fill="#bbe5de"/><rect x="1145" y="447" width="3" height="3" fill="#86cade"/><rect x="1148" y="447" width="3" height="3" fill="#3b73c7"/><rect x="1151" y="447" width="3" height="3" fill="#2a316d"/><rect x="1154" y="447" width="3" height="3" fill="#1a192d"/><rect x="1157" y="447" width="3" height="3" fill="#1e1e3d"/><rect x="1160" y="447" width="3" height="3" fill="#2b3576"/><rect x="1163" y="447" width="3" height="3" fill="#3651aa"/><rect x="1166" y="447" width="3" height="3" fill="#395fb8"/><rect x="1169" y="447" width="3" height="3" fill="#395fb8"/><rect x="1172" y="447" width="3" height="3" fill="#3651aa"/><rect x="1175" y="447" width="3" height="3" fill="#2b3576"/><rect x="1178" y="447" width="3" height="3" fill="#1e1e3d"/><rect x="1181" y="447" width="3" height="3" fill="#1a192d"/><rect x="1184" y="447" width="3" height="3" fill="#2a316d"/><rect x="1187" y="447" width="3" height="3" fill="#3b73c7"/><rect x="1190" y="447" width="3" height="3" fill="#86cade"/><rect x="1193" y="447" width="3" height="3" fill="#bbe5de"/><rect x="1196" y="447" width="3" height="3" fill="#a2d8de"/><rect x="1199" y="447" width="3" height="3" fill="#5aa0d8"/><rect x="1202" y="447" width="3" height="3" fill="#3c78cb"/><rect x="1205" y="447" width="3" height="3" fill="#4c92d6"/><rect x="1208" y="447" width="3" height="3" fill="#94d1de"/><rect x="1211" y="447" width="3" height="3" fill="#bce5de"/><rect x="1214" y="447" width="3" height="3" fill="#9fd6de"/><rect x="1121" y="450" width="3" height="3" fill="#b9e3de"/><rect x="1124" y="450" width="3" height="3" fill="#adddde"/><rect x="1127" y="450" width="3" height="3" fill="#6bb1da"/><rect x="1130" y="450" width="3" height="3" fill="#3d7ecf"/><rect x="1133" y="450" width="3" height="3" fill="#448ad5"/><rect x="1136" y="450" width="3" height="3" fill="#86cade"/><rect x="1139" y="450" width="3" height="3" fill="#bae4de"/><rect x="1142" y="450" width="3" height="3" fill="#a6dade"/><rect x="1145" y="450" width="3" height="3" fill="#5399d7"/><rect x="1148" y="450" width="3" height="3" fill="#354ca2"/><rect x="1151" y="450" width="3" height="3" fill="#202145"/><rect x="1154" y="450" width="3" height="3" fill="#202145"/><rect x="1157" y="450" width="3" height="3" fill="#2e3c84"/><rect x="1160" y="450" width="3" height="3" fill="#3962bb"/><rect x="1163" y="450" width="3" height="3" fill="#3d7ecf"/><rect x="1166" y="450" width="3" height="3" fill="#498fd5"/><rect x="1169" y="450" width="3" height="3" fill="#498fd5"/><rect x="1172" y="450" width="3" height="3" fill="#3d7ecf"/><rect x="1175" y="450" width="3" height="3" fill="#3962bb"/><rect x="1178" y="450" width="3" height="3" fill="#2e3c84"/><rect x="1181" y="450" width="3" height="3" fill="#202145"/><rect x="1184" y="450" width="3" height="3" fill="#202145"/><rect x="1187" y="450" width="3" height="3" fill="#354ca2"/><rect x="1190" y="450" width="3" height="3" fill="#5399d7"/><rect x="1193" y="450" width="3" height="3" fill="#a6dade"/><rect x="1196" y="450" width="3" height="3" fill="#bae4de"/><rect x="1199" y="450" width="3" height="3" fill="#86cade"/><rect x="1202" y="450" width="3" height="3" fill="#448ad5"/><rect x="1205" y="450" width="3" height="3" fill="#3d7ecf"/><rect x="1208" y="450" width="3" height="3" fill="#6bb1da"/><rect x="1211" y="450" width="3" height="3" fill="#adddde"/><rect x="1214" y="450" width="3" height="3" fill="#b9e3de"/><rect x="1121" y="453" width="3" height="3" fill="#b9e4de"/><rect x="1124" y="453" width="3" height="3" fill="#88cbde"/><rect x="1127" y="453" width="3" height="3" fill="#498fd5"/><rect x="1130" y="453" width="3" height="3" fill="#3d81d2"/><rect x="1133" y="453" width="3" height="3" fill="#6cb2da"/><rect x="1136" y="453" width="3" height="3" fill="#acddde"/><rect x="1139" y="453" width="3" height="3" fill="#b8e3de"/><rect x="1142" y="453" width="3" height="3" fill="#7ac0dc"/><rect x="1145" y="453" width="3" height="3" fill="#3a6ac1"/><rect x="1148" y="453" width="3" height="3" fill="#292f6a"/><rect x="1151" y="453" width="3" height="3" fill="#22234c"/><rect x="1154" y="453" width="3" height="3" fill="#2e3d84"/><rect x="1157" y="453" width="3" height="3" fill="#3a69c0"/><rect x="1160" y="453" width="3" height="3" fill="#4d93d6"/><rect x="1163" y="453" width="3" height="3" fill="#6fb5db"/><rect x="1166" y="453" width="3" height="3" fill="#7fc5dd"/><rect x="1169" y="453" width="3" height="3" fill="#7fc5dd"/><rect x="1172" y="453" width="3" height="3" fill="#6fb5db"/><rect x="1175" y="453" width="3" height="3" fill="#4d93d6"/><rect x="1178" y="453" width="3" height="3" fill="#3a69c0"/><rect x="1181" y="453" width="3" height="3" fill="#2e3d84"/><rect x="1184" y="453" width="3" height="3" fill="#22234c"/><rect x="1187" y="453" width="3" height="3" fill="#292f6a"/><rect x="1190" y="453" width="3" height="3" fill="#3a6ac1"/><rect x="1193" y="453" width="3" height="3" fill="#7ac0dc"/><rect x="1196" y="453" width="3" height="3" fill="#b8e3de"/><rect x="1199" y="453" width="3" height="3" fill="#acddde"/><rect x="1202" y="453" width="3" height="3" fill="#6cb2da"/><rect x="1205" y="453" width="3" height="3" fill="#3d81d2"/><rect x="1208" y="453" width="3" height="3" fill="#498fd5"/><rect x="1211" y="453" width="3" height="3" fill="#88cbde"/><rect x="1214" y="453" width="3" height="3" fill="#b9e4de"/><rect x="1121" y="456" width="3" height="3" fill="#9fd7de"/><rect x="1124" y="456" width="3" height="3" fill="#60a6d9"/><rect x="1127" y="456" width="3" height="3" fill="#3d83d3"/><rect x="1130" y="456" width="3" height="3" fill="#579dd7"/><rect x="1133" y="456" width="3" height="3" fill="#97d3de"/><rect x="1136" y="456" width="3" height="3" fill="#bce5de"/><rect x="1139" y="456" width="3" height="3" fill="#9bd4de"/><rect x="1142" y="456" width="3" height="3" fill="#458bd5"/><rect x="1145" y="456" width="3" height="3" fill="#334798"/><rect x="1148" y="456" width="3" height="3" fill="#25285a"/><rect x="1151" y="456" width="3" height="3" fill="#2d397e"/><rect x="1154" y="456" width="3" height="3" fill="#3a68bf"/><rect x="1157" y="456" width="3" height="3" fill="#569cd7"/><rect x="1160" y="456" width="3" height="3" fill="#83c8de"/><rect x="1163" y="456" width="3" height="3" fill="#9ed6de"/><rect x="1166" y="456" width="3" height="3" fill="#a9dcde"/><rect x="1169" y="456" width="3" height="3" fill="#a9dcde"/><rect x="1172" y="456" width="3" height="3" fill="#9ed6de"/><rect x="1175" y="456" width="3" height="3" fill="#83c8de"/><rect x="1178" y="456" width="3" height="3" fill="#569cd7"/><rect x="1181" y="456" width="3" height="3" fill="#3a68bf"/><rect x="1184" y="456" width="3" height="3" fill="#2d397e"/><rect x="1187" y="456" width="3" height="3" fill="#25285a"/><rect x="1190" y="456" width="3" height="3" fill="#334798"/><rect x="1193" y="456" width="3" height="3" fill="#458bd5"/><rect x="1196" y="456" width="3" height="3" fill="#9bd4de"/><rect x="1199" y="456" width="3" height="3" fill="#bce5de"/><rect x="1202" y="456" width="3" height="3" fill="#97d3de"/><rect x="1205" y="456" width="3" height="3" fill="#579dd7"/><rect x="1208" y="456" width="3" height="3" fill="#3d83d3"/><rect x="1211" y="456" width="3" height="3" fill="#60a6d9"/><rect x="1214" y="456" width="3" height="3" fill="#9fd7de"/><rect x="1121" y="459" width="3" height="3" fill="#77bddc"/><rect x="1124" y="459" width="3" height="3" fill="#478dd5"/><rect x="1127" y="459" width="3" height="3" fill="#4c92d6"/><rect x="1130" y="459" width="3" height="3" fill="#82c8de"/><rect x="1133" y="459" width="3" height="3" fill="#b6e2de"/><rect x="1136" y="459" width="3" height="3" fill="#b0dfde"/><rect x="1139" y="459" width="3" height="3" fill="#6bb1da"/><rect x="1142" y="459" width="3" height="3" fill="#3962bb"/><rect x="1145" y="459" width="3" height="3" fill="#2b3473"/><rect x="1148" y="459" width="3" height="3" fill="#2c3779"/><rect x="1151" y="459" width="3" height="3" fill="#3962ba"/><rect x="1154" y="459" width="3" height="3" fill="#549ad7"/><rect x="1157" y="459" width="3" height="3" fill="#8bccde"/><rect x="1160" y="459" width="3" height="3" fill="#acddde"/><rect x="1163" y="459" width="3" height="3" fill="#b9e4de"/><rect x="1166" y="459" width="3" height="3" fill="#bce5de"/><rect x="1169" y="459" width="3" height="3" fill="#bce5de"/><rect x="1172" y="459" width="3" height="3" fill="#b9e4de"/><rect x="1175" y="459" width="3" height="3" fill="#acddde"/><rect x="1178" y="459" width="3" height="3" fill="#8bccde"/><rect x="1181" y="459" width="3" height="3" fill="#549ad7"/><rect x="1184" y="459" width="3" height="3" fill="#3962ba"/><rect x="1187" y="459" width="3" height="3" fill="#2c3779"/><rect x="1190" y="459" width="3" height="3" fill="#2b3473"/><rect x="1193" y="459" width="3" height="3" fill="#3962bb"/><rect x="1196" y="459" width="3" height="3" fill="#6bb1da"/><rect x="1199" y="459" width="3" height="3" fill="#b0dfde"/><rect x="1202" y="459" width="3" height="3" fill="#b6e2de"/><rect x="1205" y="459" width="3" height="3" fill="#82c8de"/><rect x="1208" y="459" width="3" height="3" fill="#4c92d6"/><rect x="1211" y="459" width="3" height="3" fill="#478dd5"/><rect x="1214" y="459" width="3" height="3" fill="#77bddc"/><rect x="1121" y="462" width="3" height="3" fill="#559bd7"/><rect x="1124" y="462" width="3" height="3" fill="#488ed5"/><rect x="1127" y="462" width="3" height="3" fill="#70b6db"/><rect x="1130" y="462" width="3" height="3" fill="#a9dcde"/><rect x="1133" y="462" width="3" height="3" fill="#bbe5de"/><rect x="1136" y="462" width="3" height="3" fill="#8accde"/><rect x="1139" y="462" width="3" height="3" fill="#3d7dcf"/><rect x="1142" y="462" width="3" height="3" fill="#324696"/><rect x="1145" y="462" width="3" height="3" fill="#2c387b"/><rect x="1148" y="462" width="3" height="3" fill="#385ab4"/><rect x="1151" y="462" width="3" height="3" fill="#4b91d6"/><rect x="1154" y="462" width="3" height="3" fill="#8accde"/><rect x="1157" y="462" width="3" height="3" fill="#b0dfde"/><rect x="1160" y="462" width="3" height="3" fill="#bce5de"/><rect x="1163" y="462" width="3" height="3" fill="#b9e4de"/><rect x="1166" y="462" width="3" height="3" fill="#b4e1de"/><rect x="1169" y="462" width="3" height="3" fill="#b4e1de"/><rect x="1172" y="462" width="3" height="3" fill="#b9e4de"/><rect x="1175" y="462" width="3" height="3" fill="#bce5de"/><rect x="1178" y="462" width="3" height="3" fill="#b0dfde"/><rect x="1181" y="462" width="3" height="3" fill="#8accde"/><rect x="1184" y="462" width="3" height="3" fill="#4b91d6"/><rect x="1187" y="462" width="3" height="3" fill="#385ab4"/><rect x="1190" y="462" width="3" height="3" fill="#2c387b"/><rect x="1193" y="462" width="3" height="3" fill="#324696"/><rect x="1196" y="462" width="3" height="3" fill="#3d7dcf"/><rect x="1199" y="462" width="3" height="3" fill="#8accde"/><rect x="1202" y="462" width="3" height="3" fill="#bbe5de"/><rect x="1205" y="462" width="3" height="3" fill="#a9dcde"/><rect x="1208" y="462" width="3" height="3" fill="#70b6db"/><rect x="1211" y="462" width="3" height="3" fill="#488ed5"/><rect x="1214" y="462" width="3" height="3" fill="#559bd7"/><rect x="1121" y="465" width="3" height="3" fill="#4b91d6"/><rect x="1124" y="465" width="3" height="3" fill="#64aad9"/><rect x="1127" y="465" width="3" height="3" fill="#9bd4de"/><rect x="1130" y="465" width="3" height="3" fill="#bce5de"/><rect x="1133" y="465" width="3" height="3" fill="#a2d8de"/><rect x="1136" y="465" width="3" height="3" fill="#579dd7"/><rect x="1139" y="465" width="3" height="3" fill="#395cb6"/><rect x="1142" y="465" width="3" height="3" fill="#2f3e87"/><rect x="1145" y="465" width="3" height="3" fill="#3854b0"/><rect x="1148" y="465" width="3" height="3" fill="#3f85d4"/><rect x="1151" y="465" width="3" height="3" fill="#82c8de"/><rect x="1154" y="465" width="3" height="3" fill="#b0dfde"/><rect x="1157" y="465" width="3" height="3" fill="#bce5de"/><rect x="1160" y="465" width="3" height="3" fill="#b1e0de"/><rect x="1163" y="465" width="3" height="3" fill="#9dd6de"/><rect x="1166" y="465" width="3" height="3" fill="#90cfde"/><rect x="1169" y="465" width="3" height="3" fill="#90cfde"/><rect x="1172" y="465" width="3" height="3" fill="#9dd6de"/><rect x="1175" y="465" width="3" height="3" fill="#b1e0de"/><rect x="1178" y="465" width="3" height="3" fill="#bce5de"/><rect x="1181" y="465" width="3" height="3" fill="#b0dfde"/><rect x="1184" y="465" width="3" height="3" fill="#82c8de"/><rect x="1187" y="465" width="3" height="3" fill="#3f85d4"/><rect x="1190" y="465" width="3" height="3" fill="#3854b0"/><rect x="1193" y="465" width="3" height="3" fill="#2f3e87"/><rect x="1196" y="465" width="3" height="3" fill="#395cb6"/><rect x="1199" y="465" width="3" height="3" fill="#579dd7"/><rect x="1202" y="465" width="3" height="3" fill="#a2d8de"/><rect x="1205" y="465" width="3" height="3" fill="#bce5de"/><rect x="1208" y="465" width="3" height="3" fill="#9bd4de"/><rect x="1211" y="465" width="3" height="3" fill="#64aad9"/><rect x="1214" y="465" width="3" height="3" fill="#4b91d6"/><rect x="1121" y="468" width="3" height="3" fill="#5ea4d8"/><rect x="1124" y="468" width="3" height="3" fill="#8ecede"/><rect x="1127" y="468" width="3" height="3" fill="#b8e3de"/><rect x="1130" y="468" width="3" height="3" fill="#b1e0de"/><rect x="1133" y="468" width="3" height="3" fill="#74badb"/><rect x="1136" y="468" width="3" height="3" fill="#3b71c6"/><rect x="1139" y="468" width="3" height="3" fill="#344a9e"/><rect x="1142" y="468" width="3" height="3" fill="#3650a9"/><rect x="1145" y="468" width="3" height="3" fill="#3c7acd"/><rect x="1148" y="468" width="3" height="3" fill="#77bddc"/><rect x="1151" y="468" width="3" height="3" fill="#acddde"/><rect x="1154" y="468" width="3" height="3" fill="#bce5de"/><rect x="1157" y="468" width="3" height="3" fill="#abddde"/><rect x="1160" y="468" width="3" height="3" fill="#89cbde"/><rect x="1163" y="468" width="3" height="3" fill="#69afda"/><rect x="1166" y="468" width="3" height="3" fill="#569cd7"/><rect x="1169" y="468" width="3" height="3" fill="#569cd7"/><rect x="1172" y="468" width="3" height="3" fill="#69afda"/><rect x="1175" y="468" width="3" height="3" fill="#89cbde"/><rect x="1178" y="468" width="3" height="3" fill="#abddde"/><rect x="1181" y="468" width="3" height="3" fill="#bce5de"/><rect x="1184" y="468" width="3" height="3" fill="#acddde"/><rect x="1187" y="468" width="3" height="3" fill="#77bddc"/><rect x="1190" y="468" width="3" height="3" fill="#3c7acd"/><rect x="1193" y="468" width="3" height="3" fill="#3650a9"/><rect x="1196" y="468" width="3" height="3" fill="#344a9e"/><rect x="1199" y="468" width="3" height="3" fill="#3b71c6"/><rect x="1202" y="468" width="3" height="3" fill="#74badb"/><rect x="1205" y="468" width="3" height="3" fill="#b1e0de"/><rect x="1208" y="468" width="3" height="3" fill="#b8e3de"/><rect x="1211" y="468" width="3" height="3" fill="#8ecede"/><rect x="1214" y="468" width="3" height="3" fill="#5ea4d8"/><rect x="1121" y="471" width="3" height="3" fill="#85c9de"/><rect x="1124" y="471" width="3" height="3" fill="#b2e0de"/><rect x="1127" y="471" width="3" height="3" fill="#b9e4de"/><rect x="1130" y="471" width="3" height="3" fill="#8accde"/><rect x="1133" y="471" width="3" height="3" fill="#4187d4"/><rect x="1136" y="471" width="3" height="3" fill="#3859b4"/><rect x="1139" y="471" width="3" height="3" fill="#3751ab"/><rect x="1142" y="471" width="3" height="3" fill="#3b72c6"/><rect x="1145" y="471" width="3" height="3" fill="#6bb1da"/><rect x="1148" y="471" width="3" height="3" fill="#a5dade"/><rect x="1151" y="471" width="3" height="3" fill="#bce5de"/><rect x="1154" y="471" width="3" height="3" fill="#abddde"/><rect x="1157" y="471" width="3" height="3" fill="#7fc5dd"/><rect x="1160" y="471" width="3" height="3" fill="#4d93d6"/><rect x="1163" y="471" width="3" height="3" fill="#3b70c5"/><rect x="1166" y="471" width="3" height="3" fill="#395fb8"/><rect x="1169" y="471" width="3" height="3" fill="#395fb8"/><rect x="1172" y="471" width="3" height="3" fill="#3b70c5"/><rect x="1175" y="471" width="3" height="3" fill="#4d93d6"/><rect x="1178" y="471" width="3" height="3" fill="#7fc5dd"/><rect x="1181" y="471" width="3" height="3" fill="#abddde"/><rect x="1184" y="471" width="3" height="3" fill="#bce5de"/><rect x="1187" y="471" width="3" height="3" fill="#a5dade"/><rect x="1190" y="471" width="3" height="3" fill="#6bb1da"/><rect x="1193" y="471" width="3" height="3" fill="#3b72c6"/><rect x="1196" y="471" width="3" height="3" fill="#3751ab"/><rect x="1199" y="471" width="3" height="3" fill="#3859b4"/><rect x="1202" y="471" width="3" height="3" fill="#4187d4"/><rect x="1205" y="471" width="3" height="3" fill="#8accde"/><rect x="1208" y="471" width="3" height="3" fill="#b9e4de"/><rect x="1211" y="471" width="3" height="3" fill="#b2e0de"/><rect x="1214" y="471" width="3" height="3" fill="#85c9de"/><rect x="1121" y="474" width="3" height="3" fill="#acddde"/><rect x="1124" y="474" width="3" height="3" fill="#bce5de"/><rect x="1127" y="474" width="3" height="3" fill="#9bd4de"/><rect x="1130" y="474" width="3" height="3" fill="#589ed7"/><rect x="1133" y="474" width="3" height="3" fill="#3a68bf"/><rect x="1136" y="474" width="3" height="3" fill="#3856b2"/><rect x="1139" y="474" width="3" height="3" fill="#3b6dc2"/><rect x="1142" y="474" width="3" height="3" fill="#5ea4d8"/><rect x="1145" y="474" width="3" height="3" fill="#9dd5de"/><rect x="1148" y="474" width="3" height="3" fill="#bce5de"/><rect x="1151" y="474" width="3" height="3" fill="#aedede"/><rect x="1154" y="474" width="3" height="3" fill="#7dc3dd"/><rect x="1157" y="474" width="3" height="3" fill="#3f85d4"/><rect x="1160" y="474" width="3" height="3" fill="#3857b2"/><rect x="1163" y="474" width="3" height="3" fill="#2a326f"/><rect x="1166" y="474" width="3" height="3" fill="#202146"/><rect x="1169" y="474" width="3" height="3" fill="#202146"/><rect x="1172" y="474" width="3" height="3" fill="#2a326f"/><rect x="1175" y="474" width="3" height="3" fill="#3857b2"/><rect x="1178" y="474" width="3" height="3" fill="#3f85d4"/><rect x="1181" y="474" width="3" height="3" fill="#7dc3dd"/><rect x="1184" y="474" width="3" height="3" fill="#aedede"/><rect x="1187" y="474" width="3" height="3" fill="#bce5de"/><rect x="1190" y="474" width="3" height="3" fill="#9dd5de"/><rect x="1193" y="474" width="3" height="3" fill="#5ea4d8"/><rect x="1196" y="474" width="3" height="3" fill="#3b6dc2"/><rect x="1199" y="474" width="3" height="3" fill="#3856b2"/><rect x="1202" y="474" width="3" height="3" fill="#3a68bf"/><rect x="1205" y="474" width="3" height="3" fill="#589ed7"/><rect x="1208" y="474" width="3" height="3" fill="#9bd4de"/><rect x="1211" y="474" width="3" height="3" fill="#bce5de"/><rect x="1214" y="474" width="3" height="3" fill="#acddde"/><rect x="1121" y="477" width="3" height="3" fill="#bce5de"/><rect x="1124" y="477" width="3" height="3" fill="#a6dade"/><rect x="1127" y="477" width="3" height="3" fill="#6bb1da"/><rect x="1130" y="477" width="3" height="3" fill="#3c76ca"/><rect x="1133" y="477" width="3" height="3" fill="#395eb7"/><rect x="1136" y="477" width="3" height="3" fill="#3a6bc1"/><rect x="1139" y="477" width="3" height="3" fill="#549ad7"/><rect x="1142" y="477" width="3" height="3" fill="#93d1de"/><rect x="1145" y="477" width="3" height="3" fill="#b9e4de"/><rect x="1148" y="477" width="3" height="3" fill="#b3e1de"/><rect x="1151" y="477" width="3" height="3" fill="#83c8de"/><rect x="1154" y="477" width="3" height="3" fill="#3d83d3"/><rect x="1157" y="477" width="3" height="3" fill="#344b9f"/><rect x="1160" y="477" width="3" height="3" fill="#1c1c36"/><rect x="1163" y="477" width="3" height="3" fill="#161217"/><rect x="1166" y="477" width="3" height="3" fill="#28121b"/><rect x="1169" y="477" width="3" height="3" fill="#28121b"/><rect x="1172" y="477" width="3" height="3" fill="#161217"/><rect x="1175" y="477" width="3" height="3" fill="#1c1c36"/><rect x="1178" y="477" width="3" height="3" fill="#344b9f"/><rect x="1181" y="477" width="3" height="3" fill="#3d83d3"/><rect x="1184" y="477" width="3" height="3" fill="#83c8de"/><rect x="1187" y="477" width="3" height="3" fill="#b3e1de"/><rect x="1190" y="477" width="3" height="3" fill="#b9e4de"/><rect x="1193" y="477" width="3" height="3" fill="#93d1de"/><rect x="1196" y="477" width="3" height="3" fill="#549ad7"/><rect x="1199" y="477" width="3" height="3" fill="#3a6bc1"/><rect x="1202" y="477" width="3" height="3" fill="#395eb7"/><rect x="1205" y="477" width="3" height="3" fill="#3c76ca"/><rect x="1208" y="477" width="3" height="3" fill="#6bb1da"/><rect x="1211" y="477" width="3" height="3" fill="#a6dade"/><rect x="1214" y="477" width="3" height="3" fill="#bce5de"/><rect x="1121" y="480" width="3" height="3" fill="#acddde"/><rect x="1124" y="480" width="3" height="3" fill="#79bfdc"/><rect x="1127" y="480" width="3" height="3" fill="#3d83d3"/><rect x="1130" y="480" width="3" height="3" fill="#3a67be"/><rect x="1133" y="480" width="3" height="3" fill="#3b6cc2"/><rect x="1136" y="480" width="3" height="3" fill="#4e94d6"/><rect x="1139" y="480" width="3" height="3" fill="#8bccde"/><rect x="1142" y="480" width="3" height="3" fill="#b6e2de"/><rect x="1145" y="480" width="3" height="3" fill="#b7e3de"/><rect x="1148" y="480" width="3" height="3" fill="#8bccde"/><rect x="1151" y="480" width="3" height="3" fill="#4389d4"/><rect x="1154" y="480" width="3" height="3" fill="#33499c"/><rect x="1157" y="480" width="3" height="3" fill="#171522"/><rect x="1160" y="480" width="3" height="3" fill="#2c131d"/><rect x="1163" y="480" width="3" height="3" fill="#551829"/><rect x="1166" y="480" width="3" height="3" fill="#6a1c30"/><rect x="1169" y="480" width="3" height="3" fill="#6a1c30"/><rect x="1172" y="480" width="3" height="3" fill="#551829"/><rect x="1175" y="480" width="3" height="3" fill="#2c131d"/><rect x="1178" y="480" width="3" height="3" fill="#171522"/><rect x="1181" y="480" width="3" height="3" fill="#33499c"/><rect x="1184" y="480" width="3" height="3" fill="#4389d4"/><rect x="1187" y="480" width="3" height="3" fill="#8bccde"/><rect x="1190" y="480" width="3" height="3" fill="#b7e3de"/><rect x="1193" y="480" width="3" height="3" fill="#b6e2de"/><rect x="1196" y="480" width="3" height="3" fill="#8bccde"/><rect x="1199" y="480" width="3" height="3" fill="#4e94d6"/><rect x="1202" y="480" width="3" height="3" fill="#3b6cc2"/><rect x="1205" y="480" width="3" height="3" fill="#3a67be"/><rect x="1208" y="480" width="3" height="3" fill="#3d83d3"/><rect x="1211" y="480" width="3" height="3" fill="#79bfdc"/><rect x="1214" y="480" width="3" height="3" fill="#acddde"/><rect x="1121" y="483" width="3" height="3" fill="#82c8de"/><rect x="1124" y="483" width="3" height="3" fill="#4a90d5"/><rect x="1127" y="483" width="3" height="3" fill="#3b70c5"/><rect x="1130" y="483" width="3" height="3" fill="#3b70c5"/><rect x="1133" y="483" width="3" height="3" fill="#4b91d6"/><rect x="1136" y="483" width="3" height="3" fill="#84c9de"/><rect x="1139" y="483" width="3" height="3" fill="#b2e0de"/><rect x="1142" y="483" width="3" height="3" fill="#bae4de"/><rect x="1145" y="483" width="3" height="3" fill="#95d1de"/><rect x="1148" y="483" width="3" height="3" fill="#4e94d6"/><rect x="1151" y="483" width="3" height="3" fill="#3650a8"/><rect x="1154" y="483" width="3" height="3" fill="#171523"/><rect x="1157" y="483" width="3" height="3" fill="#33131f"/><rect x="1160" y="483" width="3" height="3" fill="#651b2e"/><rect x="1163" y="483" width="3" height="3" fill="#802136"/><rect x="1166" y="483" width="3" height="3" fill="#882438"/><rect x="1169" y="483" width="3" height="3" fill="#882438"/><rect x="1172" y="483" width="3" height="3" fill="#802136"/><rect x="1175" y="483" width="3" height="3" fill="#651b2e"/><rect x="1178" y="483" width="3" height="3" fill="#33131f"/><rect x="1181" y="483" width="3" height="3" fill="#171523"/><rect x="1184" y="483" width="3" height="3" fill="#3650a8"/><rect x="1187" y="483" width="3" height="3" fill="#4e94d6"/><rect x="1190" y="483" width="3" height="3" fill="#95d1de"/><rect x="1193" y="483" width="3" height="3" fill="#bae4de"/><rect x="1196" y="483" width="3" height="3" fill="#b2e0de"/><rect x="1199" y="483" width="3" height="3" fill="#84c9de"/><rect x="1202" y="483" width="3" height="3" fill="#4b91d6"/><rect x="1205" y="483" width="3" height="3" fill="#3b70c5"/><rect x="1208" y="483" width="3" height="3" fill="#3b70c5"/><rect x="1211" y="483" width="3" height="3" fill="#4a90d5"/><rect x="1214" y="483" width="3" height="3" fill="#82c8de"/><rect x="1121" y="486" width="3" height="3" fill="#549ad7"/><rect x="1124" y="486" width="3" height="3" fill="#3c78cb"/><rect x="1127" y="486" width="3" height="3" fill="#3c76c9"/><rect x="1130" y="486" width="3" height="3" fill="#4d93d6"/><rect x="1133" y="486" width="3" height="3" fill="#81c7dd"/><rect x="1136" y="486" width="3" height="3" fill="#afdede"/><rect x="1139" y="486" width="3" height="3" fill="#bce5de"/><rect x="1142" y="486" width="3" height="3" fill="#9dd5de"/><rect x="1145" y="486" width="3" height="3" fill="#5aa0d8"/><rect x="1148" y="486" width="3" height="3" fill="#3859b4"/><rect x="1151" y="486" width="3" height="3" fill="#1b1a31"/><rect x="1154" y="486" width="3" height="3" fill="#2c131d"/><rect x="1157" y="486" width="3" height="3" fill="#5f1a2c"/><rect x="1160" y="486" width="3" height="3" fill="#791f34"/><rect x="1163" y="486" width="3" height="3" fill="#802136"/><rect x="1166" y="486" width="3" height="3" fill="#812136"/><rect x="1169" y="486" width="3" height="3" fill="#812136"/><rect x="1172" y="486" width="3" height="3" fill="#802136"/><rect x="1175" y="486" width="3" height="3" fill="#791f34"/><rect x="1178" y="486" width="3" height="3" fill="#5f1a2c"/><rect x="1181" y="486" width="3" height="3" fill="#2c131d"/><rect x="1184" y="486" width="3" height="3" fill="#1b1a31"/><rect x="1187" y="486" width="3" height="3" fill="#3859b4"/><rect x="1190" y="486" width="3" height="3" fill="#5aa0d8"/><rect x="1193" y="486" width="3" height="3" fill="#9dd5de"/><rect x="1196" y="486" width="3" height="3" fill="#bce5de"/><rect x="1199" y="486" width="3" height="3" fill="#afdede"/><rect x="1202" y="486" width="3" height="3" fill="#81c7dd"/><rect x="1205" y="486" width="3" height="3" fill="#4d93d6"/><rect x="1208" y="486" width="3" height="3" fill="#3c76c9"/><rect x="1211" y="486" width="3" height="3" fill="#3c78cb"/><rect x="1214" y="486" width="3" height="3" fill="#549ad7"/><rect x="1121" y="489" width="3" height="3" fill="#3d80d1"/><rect x="1124" y="489" width="3" height="3" fill="#3d7dce"/><rect x="1127" y="489" width="3" height="3" fill="#5197d6"/><rect x="1130" y="489" width="3" height="3" fill="#80c6dd"/><rect x="1133" y="489" width="3" height="3" fill="#adddde"/><rect x="1136" y="489" width="3" height="3" fill="#bce5de"/><rect x="1139" y="489" width="3" height="3" fill="#a3d8de"/><rect x="1142" y="489" width="3" height="3" fill="#65abd9"/><rect x="1145" y="489" width="3" height="3" fill="#3a64bc"/><rect x="1148" y="489" width="3" height="3" fill="#21234b"/><rect x="1151" y="489" width="3" height="3" fill="#1e1218"/><rect x="1154" y="489" width="3" height="3" fill="#4c1727"/><rect x="1157" y="489" width="3" height="3" fill="#601a2d"/><rect x="1160" y="489" width="3" height="3" fill="#5f1a2c"/><rect x="1163" y="489" width="3" height="3" fill="#541829"/><rect x="1166" y="489" width="3" height="3" fill="#4c1727"/><rect x="1169" y="489" width="3" height="3" fill="#4c1727"/><rect x="1172" y="489" width="3" height="3" fill="#541829"/><rect x="1175" y="489" width="3" height="3" fill="#5f1a2c"/><rect x="1178" y="489" width="3" height="3" fill="#601a2d"/><rect x="1181" y="489" width="3" height="3" fill="#4c1727"/><rect x="1184" y="489" width="3" height="3" fill="#1e1218"/><rect x="1187" y="489" width="3" height="3" fill="#21234b"/><rect x="1190" y="489" width="3" height="3" fill="#3a64bc"/><rect x="1193" y="489" width="3" height="3" fill="#65abd9"/><rect x="1196" y="489" width="3" height="3" fill="#a3d8de"/><rect x="1199" y="489" width="3" height="3" fill="#bce5de"/><rect x="1202" y="489" width="3" height="3" fill="#adddde"/><rect x="1205" y="489" width="3" height="3" fill="#80c6dd"/><rect x="1208" y="489" width="3" height="3" fill="#5197d6"/><rect x="1211" y="489" width="3" height="3" fill="#3d7dce"/><rect x="1214" y="489" width="3" height="3" fill="#3d80d1"/><rect x="1121" y="492" width="3" height="3" fill="#3e84d4"/><rect x="1124" y="492" width="3" height="3" fill="#599fd7"/><rect x="1127" y="492" width="3" height="3" fill="#84c9de"/><rect x="1130" y="492" width="3" height="3" fill="#addede"/><rect x="1133" y="492" width="3" height="3" fill="#bce5de"/><rect x="1136" y="492" width="3" height="3" fill="#a6dade"/><rect x="1139" y="492" width="3" height="3" fill="#6db3db"/><rect x="1142" y="492" width="3" height="3" fill="#3b6ec3"/><rect x="1145" y="492" width="3" height="3" fill="#282d67"/><rect x="1148" y="492" width="3" height="3" fill="#161219"/><rect x="1151" y="492" width="3" height="3" fill="#35131f"/><rect x="1154" y="492" width="3" height="3" fill="#411523"/><rect x="1157" y="492" width="3" height="3" fill="#361320"/><rect x="1160" y="492" width="3" height="3" fill="#221219"/><rect x="1163" y="492" width="3" height="3" fill="#161218"/><rect x="1166" y="492" width="3" height="3" fill="#16131c"/><rect x="1169" y="492" width="3" height="3" fill="#16131c"/><rect x="1172" y="492" width="3" height="3" fill="#161218"/><rect x="1175" y="492" width="3" height="3" fill="#221219"/><rect x="1178" y="492" width="3" height="3" fill="#361320"/><rect x="1181" y="492" width="3" height="3" fill="#411523"/><rect x="1184" y="492" width="3" height="3" fill="#35131f"/><rect x="1187" y="492" width="3" height="3" fill="#161219"/><rect x="1190" y="492" width="3" height="3" fill="#282d67"/><rect x="1193" y="492" width="3" height="3" fill="#3b6ec3"/><rect x="1196" y="492" width="3" height="3" fill="#6db3db"/><rect x="1199" y="492" width="3" height="3" fill="#a6dade"/><rect x="1202" y="492" width="3" height="3" fill="#bce5de"/><rect x="1205" y="492" width="3" height="3" fill="#addede"/><rect x="1208" y="492" width="3" height="3" fill="#84c9de"/><rect x="1211" y="492" width="3" height="3" fill="#599fd7"/><rect x="1214" y="492" width="3" height="3" fill="#3e84d4"/><rect x="1121" y="495" width="3" height="3" fill="#63a9d9"/><rect x="1124" y="495" width="3" height="3" fill="#8accde"/><rect x="1127" y="495" width="3" height="3" fill="#afdfde"/><rect x="1130" y="495" width="3" height="3" fill="#bce5de"/><rect x="1133" y="495" width="3" height="3" fill="#a8dbde"/><rect x="1136" y="495" width="3" height="3" fill="#73b9db"/><rect x="1139" y="495" width="3" height="3" fill="#3c76c9"/><rect x="1142" y="495" width="3" height="3" fill="#2d3a7f"/><rect x="1145" y="495" width="3" height="3" fill="#171420"/><rect x="1148" y="495" width="3" height="3" fill="#1e1218"/><rect x="1151" y="495" width="3" height="3" fill="#25121a"/><rect x="1154" y="495" width="3" height="3" fill="#161216"/><rect x="1157" y="495" width="3" height="3" fill="#171521"/><rect x="1160" y="495" width="3" height="3" fill="#232551"/><rect x="1163" y="495" width="3" height="3" fill="#2c377a"/><rect x="1166" y="495" width="3" height="3" fill="#31428f"/><rect x="1169" y="495" width="3" height="3" fill="#31428f"/><rect x="1172" y="495" width="3" height="3" fill="#2c377a"/><rect x="1175" y="495" width="3" height="3" fill="#232551"/><rect x="1178" y="495" width="3" height="3" fill="#171521"/><rect x="1181" y="495" width="3" height="3" fill="#161216"/><rect x="1184" y="495" width="3" height="3" fill="#25121a"/><rect x="1187" y="495" width="3" height="3" fill="#1e1218"/><rect x="1190" y="495" width="3" height="3" fill="#171420"/><rect x="1193" y="495" width="3" height="3" fill="#2d3a7f"/><rect x="1196" y="495" width="3" height="3" fill="#3c76c9"/><rect x="1199" y="495" width="3" height="3" fill="#73b9db"/><rect x="1202" y="495" width="3" height="3" fill="#a8dbde"/><rect x="1205" y="495" width="3" height="3" fill="#bce5de"/><rect x="1208" y="495" width="3" height="3" fill="#afdfde"/><rect x="1211" y="495" width="3" height="3" fill="#8accde"/><rect x="1214" y="495" width="3" height="3" fill="#63a9d9"/><rect x="1121" y="498" width="3" height="3" fill="#94d1de"/><rect x="1124" y="498" width="3" height="3" fill="#b3e1de"/><rect x="1127" y="498" width="3" height="3" fill="#bce5de"/><rect x="1130" y="498" width="3" height="3" fill="#a7dade"/><rect x="1133" y="498" width="3" height="3" fill="#75bbdc"/><rect x="1136" y="498" width="3" height="3" fill="#3c7bcd"/><rect x="1139" y="498" width="3" height="3" fill="#324593"/><rect x="1142" y="498" width="3" height="3" fill="#1b1b33"/><rect x="1145" y="498" width="3" height="3" fill="#16131b"/><rect x="1148" y="498" width="3" height="3" fill="#16131a"/><rect x="1151" y="498" width="3" height="3" fill="#171522"/><rect x="1154" y="498" width="3" height="3" fill="#262a5f"/><rect x="1157" y="498" width="3" height="3" fill="#344ba0"/><rect x="1160" y="498" width="3" height="3" fill="#3a66bd"/><rect x="1163" y="498" width="3" height="3" fill="#3c78cb"/><rect x="1166" y="498" width="3" height="3" fill="#3d82d2"/><rect x="1169" y="498" width="3" height="3" fill="#3d82d2"/><rect x="1172" y="498" width="3" height="3" fill="#3c78cb"/><rect x="1175" y="498" width="3" height="3" fill="#3a66bd"/><rect x="1178" y="498" width="3" height="3" fill="#344ba0"/><rect x="1181" y="498" width="3" height="3" fill="#262a5f"/><rect x="1184" y="498" width="3" height="3" fill="#171522"/><rect x="1187" y="498" width="3" height="3" fill="#16131a"/><rect x="1190" y="498" width="3" height="3" fill="#16131b"/><rect x="1193" y="498" width="3" height="3" fill="#1b1b33"/><rect x="1196" y="498" width="3" height="3" fill="#324593"/><rect x="1199" y="498" width="3" height="3" fill="#3c7bcd"/><rect x="1202" y="498" width="3" height="3" fill="#75bbdc"/><rect x="1205" y="498" width="3" height="3" fill="#a7dade"/><rect x="1208" y="498" width="3" height="3" fill="#bce5de"/><rect x="1211" y="498" width="3" height="3" fill="#b3e1de"/><rect x="1214" y="498" width="3" height="3" fill="#94d1de"/><rect x="1121" y="501" width="3" height="3" fill="#b7e3de"/><rect x="1124" y="501" width="3" height="3" fill="#bbe5de"/><rect x="1127" y="501" width="3" height="3" fill="#a3d9de"/><rect x="1130" y="501" width="3" height="3" fill="#73b9db"/><rect x="1133" y="501" width="3" height="3" fill="#3d7ecf"/><rect x="1136" y="501" width="3" height="3" fill="#354ea4"/><rect x="1139" y="501" width="3" height="3" fill="#232552"/><rect x="1142" y="501" width="3" height="3" fill="#171523"/><rect x="1145" y="501" width="3" height="3" fill="#181626"/><rect x="1148" y="501" width="3" height="3" fill="#242655"/><rect x="1151" y="501" width="3" height="3" fill="#324798"/><rect x="1154" y="501" width="3" height="3" fill="#3a6ac0"/><rect x="1157" y="501" width="3" height="3" fill="#448ad4"/><rect x="1160" y="501" width="3" height="3" fill="#63a9d9"/><rect x="1163" y="501" width="3" height="3" fill="#76bcdc"/><rect x="1166" y="501" width="3" height="3" fill="#80c6dd"/><rect x="1169" y="501" width="3" height="3" fill="#80c6dd"/><rect x="1172" y="501" width="3" height="3" fill="#76bcdc"/><rect x="1175" y="501" width="3" height="3" fill="#63a9d9"/><rect x="1178" y="501" width="3" height="3" fill="#448ad4"/><rect x="1181" y="501" width="3" height="3" fill="#3a6ac0"/><rect x="1184" y="501" width="3" height="3" fill="#324798"/><rect x="1187" y="501" width="3" height="3" fill="#242655"/><rect x="1190" y="501" width="3" height="3" fill="#181626"/><rect x="1193" y="501" width="3" height="3" fill="#171523"/><rect x="1196" y="501" width="3" height="3" fill="#232552"/><rect x="1199" y="501" width="3" height="3" fill="#354ea4"/><rect x="1202" y="501" width="3" height="3" fill="#3d7ecf"/><rect x="1205" y="501" width="3" height="3" fill="#73b9db"/><rect x="1208" y="501" width="3" height="3" fill="#a3d9de"/><rect x="1211" y="501" width="3" height="3" fill="#bbe5de"/><rect x="1214" y="501" width="3" height="3" fill="#b7e3de"/><rect x="1121" y="504" width="3" height="3" fill="#b8e3de"/><rect x="1124" y="504" width="3" height="3" fill="#9dd5de"/><rect x="1127" y="504" width="3" height="3" fill="#6eb4db"/><rect x="1130" y="504" width="3" height="3" fill="#3d7ecf"/><rect x="1133" y="504" width="3" height="3" fill="#3854b0"/><rect x="1136" y="504" width="3" height="3" fill="#29306d"/><rect x="1139" y="504" width="3" height="3" fill="#21234b"/><rect x="1142" y="504" width="3" height="3" fill="#242757"/><rect x="1145" y="504" width="3" height="3" fill="#2f3e86"/><rect x="1148" y="504" width="3" height="3" fill="#3960b9"/><rect x="1151" y="504" width="3" height="3" fill="#3d83d3"/><rect x="1154" y="504" width="3" height="3" fill="#67adda"/><rect x="1157" y="504" width="3" height="3" fill="#87cade"/><rect x="1160" y="504" width="3" height="3" fill="#9dd6de"/><rect x="1163" y="504" width="3" height="3" fill="#aadcde"/><rect x="1166" y="504" width="3" height="3" fill="#afdfde"/><rect x="1169" y="504" width="3" height="3" fill="#afdfde"/><rect x="1172" y="504" width="3" height="3" fill="#aadcde"/><rect x="1175" y="504" width="3" height="3" fill="#9dd6de"/><rect x="1178" y="504" width="3" height="3" fill="#87cade"/><rect x="1181" y="504" width="3" height="3" fill="#67adda"/><rect x="1184" y="504" width="3" height="3" fill="#3d83d3"/><rect x="1187" y="504" width="3" height="3" fill="#3960b9"/><rect x="1190" y="504" width="3" height="3" fill="#2f3e86"/><rect x="1193" y="504" width="3" height="3" fill="#242757"/><rect x="1196" y="504" width="3" height="3" fill="#21234b"/><rect x="1199" y="504" width="3" height="3" fill="#29306d"/><rect x="1202" y="504" width="3" height="3" fill="#3854b0"/><rect x="1205" y="504" width="3" height="3" fill="#3d7ecf"/><rect x="1208" y="504" width="3" height="3" fill="#6eb4db"/><rect x="1211" y="504" width="3" height="3" fill="#9dd5de"/><rect x="1214" y="504" width="3" height="3" fill="#b8e3de"/><rect x="1121" y="507" width="3" height="3" fill="#93d0de"/><rect x="1124" y="507" width="3" height="3" fill="#66acd9"/><rect x="1127" y="507" width="3" height="3" fill="#3d7cce"/><rect x="1130" y="507" width="3" height="3" fill="#3859b3"/><rect x="1133" y="507" width="3" height="3" fill="#2f3d86"/><rect x="1136" y="507" width="3" height="3" fill="#2b3473"/><rect x="1139" y="507" width="3" height="3" fill="#2f3d85"/><rect x="1142" y="507" width="3" height="3" fill="#3857b2"/><rect x="1145" y="507" width="3" height="3" fill="#3c77ca"/><rect x="1148" y="507" width="3" height="3" fill="#5aa0d8"/><rect x="1151" y="507" width="3" height="3" fill="#82c8de"/><rect x="1154" y="507" width="3" height="3" fill="#a0d7de"/><rect x="1157" y="507" width="3" height="3" fill="#b3e1de"/><rect x="1160" y="507" width="3" height="3" fill="#bbe5de"/><rect x="1163" y="507" width="3" height="3" fill="#bce5de"/><rect x="1166" y="507" width="3" height="3" fill="#bce5de"/><rect x="1169" y="507" width="3" height="3" fill="#bce5de"/><rect x="1172" y="507" width="3" height="3" fill="#bce5de"/><rect x="1175" y="507" width="3" height="3" fill="#bbe5de"/><rect x="1178" y="507" width="3" height="3" fill="#b3e1de"/><rect x="1181" y="507" width="3" height="3" fill="#a0d7de"/><rect x="1184" y="507" width="3" height="3" fill="#82c8de"/><rect x="1187" y="507" width="3" height="3" fill="#5aa0d8"/><rect x="1190" y="507" width="3" height="3" fill="#3c77ca"/><rect x="1193" y="507" width="3" height="3" fill="#3857b2"/><rect x="1196" y="507" width="3" height="3" fill="#2f3d85"/><rect x="1199" y="507" width="3" height="3" fill="#2b3473"/><rect x="1202" y="507" width="3" height="3" fill="#2f3d86"/><rect x="1205" y="507" width="3" height="3" fill="#3859b3"/><rect x="1208" y="507" width="3" height="3" fill="#3d7cce"/><rect x="1211" y="507" width="3" height="3" fill="#66acd9"/><rect x="1214" y="507" width="3" height="3" fill="#93d0de"/><rect x="1121" y="510" width="3" height="3" fill="#5ba1d8"/><rect x="1124" y="510" width="3" height="3" fill="#3c79cc"/><rect x="1127" y="510" width="3" height="3" fill="#395db7"/><rect x="1130" y="510" width="3" height="3" fill="#344ba0"/><rect x="1133" y="510" width="3" height="3" fill="#33489a"/><rect x="1136" y="510" width="3" height="3" fill="#3856b1"/><rect x="1139" y="510" width="3" height="3" fill="#3b6ec4"/><rect x="1142" y="510" width="3" height="3" fill="#4b91d5"/><rect x="1145" y="510" width="3" height="3" fill="#74badc"/><rect x="1148" y="510" width="3" height="3" fill="#98d3de"/><rect x="1151" y="510" width="3" height="3" fill="#b1dfde"/><rect x="1154" y="510" width="3" height="3" fill="#bce5de"/><rect x="1157" y="510" width="3" height="3" fill="#bbe5de"/><rect x="1160" y="510" width="3" height="3" fill="#b3e1de"/><rect x="1163" y="510" width="3" height="3" fill="#a9dcde"/><rect x="1166" y="510" width="3" height="3" fill="#a3d9de"/><rect x="1169" y="510" width="3" height="3" fill="#a3d9de"/><rect x="1172" y="510" width="3" height="3" fill="#a9dcde"/><rect x="1175" y="510" width="3" height="3" fill="#b3e1de"/><rect x="1178" y="510" width="3" height="3" fill="#bbe5de"/><rect x="1181" y="510" width="3" height="3" fill="#bce5de"/><rect x="1184" y="510" width="3" height="3" fill="#b1dfde"/><rect x="1187" y="510" width="3" height="3" fill="#98d3de"/><rect x="1190" y="510" width="3" height="3" fill="#74badc"/><rect x="1193" y="510" width="3" height="3" fill="#4b91d5"/><rect x="1196" y="510" width="3" height="3" fill="#3b6ec4"/><rect x="1199" y="510" width="3" height="3" fill="#3856b1"/><rect x="1202" y="510" width="3" height="3" fill="#33489a"/><rect x="1205" y="510" width="3" height="3" fill="#344ba0"/><rect x="1208" y="510" width="3" height="3" fill="#395db7"/><rect x="1211" y="510" width="3" height="3" fill="#3c79cc"/><rect x="1214" y="510" width="3" height="3" fill="#5ba1d8"/><rect x="1121" y="513" width="3" height="3" fill="#3c76ca"/><rect x="1124" y="513" width="3" height="3" fill="#3963bb"/><rect x="1127" y="513" width="3" height="3" fill="#385ab4"/><rect x="1130" y="513" width="3" height="3" fill="#395eb7"/><rect x="1133" y="513" width="3" height="3" fill="#3b6ec3"/><rect x="1136" y="513" width="3" height="3" fill="#4187d4"/><rect x="1139" y="513" width="3" height="3" fill="#67adda"/><rect x="1142" y="513" width="3" height="3" fill="#8ccdde"/><rect x="1145" y="513" width="3" height="3" fill="#a9dcde"/><rect x="1148" y="513" width="3" height="3" fill="#bae4de"/><rect x="1151" y="513" width="3" height="3" fill="#bbe5de"/><rect x="1154" y="513" width="3" height="3" fill="#b0dfde"/><rect x="1157" y="513" width="3" height="3" fill="#9cd5de"/><rect x="1160" y="513" width="3" height="3" fill="#85c9de"/><rect x="1163" y="513" width="3" height="3" fill="#72b8db"/><rect x="1166" y="513" width="3" height="3" fill="#67adda"/><rect x="1169" y="513" width="3" height="3" fill="#67adda"/><rect x="1172" y="513" width="3" height="3" fill="#72b8db"/><rect x="1175" y="513" width="3" height="3" fill="#85c9de"/><rect x="1178" y="513" width="3" height="3" fill="#9cd5de"/><rect x="1181" y="513" width="3" height="3" fill="#b0dfde"/><rect x="1184" y="513" width="3" height="3" fill="#bbe5de"/><rect x="1187" y="513" width="3" height="3" fill="#bae4de"/><rect x="1190" y="513" width="3" height="3" fill="#a9dcde"/><rect x="1193" y="513" width="3" height="3" fill="#8ccdde"/><rect x="1196" y="513" width="3" height="3" fill="#67adda"/><rect x="1199" y="513" width="3" height="3" fill="#4187d4"/><rect x="1202" y="513" width="3" height="3" fill="#3b6ec3"/><rect x="1205" y="513" width="3" height="3" fill="#395eb7"/><rect x="1208" y="513" width="3" height="3" fill="#385ab4"/><rect x="1211" y="513" width="3" height="3" fill="#3963bb"/><rect x="1214" y="513" width="3" height="3" fill="#3c76ca"/><rect x="1121" y="516" width="3" height="3" fill="#3b6cc2"/><rect x="1124" y="516" width="3" height="3" fill="#3a6bc1"/><rect x="1127" y="516" width="3" height="3" fill="#3c75c8"/><rect x="1130" y="516" width="3" height="3" fill="#4288d4"/><rect x="1133" y="516" width="3" height="3" fill="#62a8d9"/><rect x="1136" y="516" width="3" height="3" fill="#83c8de"/><rect x="1139" y="516" width="3" height="3" fill="#a1d8de"/><rect x="1142" y="516" width="3" height="3" fill="#b6e2de"/><rect x="1145" y="516" width="3" height="3" fill="#bce5de"/><rect x="1148" y="516" width="3" height="3" fill="#b4e1de"/><rect x="1151" y="516" width="3" height="3" fill="#9ed6de"/><rect x="1154" y="516" width="3" height="3" fill="#7ec4dd"/><rect x="1157" y="516" width="3" height="3" fill="#5aa0d8"/><rect x="1160" y="516" width="3" height="3" fill="#3d80d1"/><rect x="1163" y="516" width="3" height="3" fill="#3b6cc2"/><rect x="1166" y="516" width="3" height="3" fill="#3961ba"/><rect x="1169" y="516" width="3" height="3" fill="#3961ba"/><rect x="1172" y="516" width="3" height="3" fill="#3b6cc2"/><rect x="1175" y="516" width="3" height="3" fill="#3d80d1"/><rect x="1178" y="516" width="3" height="3" fill="#5aa0d8"/><rect x="1181" y="516" width="3" height="3" fill="#7ec4dd"/><rect x="1184" y="516" width="3" height="3" fill="#9ed6de"/><rect x="1187" y="516" width="3" height="3" fill="#b4e1de"/><rect x="1190" y="516" width="3" height="3" fill="#bce5de"/><rect x="1193" y="516" width="3" height="3" fill="#b6e2de"/><rect x="1196" y="516" width="3" height="3" fill="#a1d8de"/><rect x="1199" y="516" width="3" height="3" fill="#83c8de"/><rect x="1202" y="516" width="3" height="3" fill="#62a8d9"/><rect x="1205" y="516" width="3" height="3" fill="#4288d4"/><rect x="1208" y="516" width="3" height="3" fill="#3c75c8"/><rect x="1211" y="516" width="3" height="3" fill="#3a6bc1"/><rect x="1214" y="516" width="3" height="3" fill="#3b6cc2"/><rect x="1121" y="519" width="3" height="3" fill="#3d81d1"/><rect x="1124" y="519" width="3" height="3" fill="#4c92d6"/><rect x="1127" y="519" width="3" height="3" fill="#65abd9"/><rect x="1130" y="519" width="3" height="3" fill="#81c7dd"/><rect x="1133" y="519" width="3" height="3" fill="#9dd5de"/><rect x="1136" y="519" width="3" height="3" fill="#b2e0de"/><rect x="1139" y="519" width="3" height="3" fill="#bce5de"/><rect x="1142" y="519" width="3" height="3" fill="#b8e3de"/><rect x="1145" y="519" width="3" height="3" fill="#a6dade"/><rect x="1148" y="519" width="3" height="3" fill="#86cade"/><rect x="1151" y="519" width="3" height="3" fill="#5da3d8"/><rect x="1154" y="519" width="3" height="3" fill="#3c78cb"/><rect x="1157" y="519" width="3" height="3" fill="#3855b0"/><rect x="1160" y="519" width="3" height="3" fill="#2a326f"/><rect x="1163" y="519" width="3" height="3" fill="#1d1d38"/><rect x="1166" y="519" width="3" height="3" fill="#171522"/><rect x="1169" y="519" width="3" height="3" fill="#171522"/><rect x="1172" y="519" width="3" height="3" fill="#1d1d38"/><rect x="1175" y="519" width="3" height="3" fill="#2a326f"/><rect x="1178" y="519" width="3" height="3" fill="#3855b0"/><rect x="1181" y="519" width="3" height="3" fill="#3c78cb"/><rect x="1184" y="519" width="3" height="3" fill="#5da3d8"/><rect x="1187" y="519" width="3" height="3" fill="#86cade"/><rect x="1190" y="519" width="3" height="3" fill="#a6dade"/><rect x="1193" y="519" width="3" height="3" fill="#b8e3de"/><rect x="1196" y="519" width="3" height="3" fill="#bce5de"/><rect x="1199" y="519" width="3" height="3" fill="#b2e0de"/><rect x="1202" y="519" width="3" height="3" fill="#9dd5de"/><rect x="1205" y="519" width="3" height="3" fill="#81c7dd"/><rect x="1208" y="519" width="3" height="3" fill="#65abd9"/><rect x="1211" y="519" width="3" height="3" fill="#4c92d6"/><rect x="1214" y="519" width="3" height="3" fill="#3d81d1"/><rect x="1121" y="522" width="3" height="3" fill="#70b6db"/><rect x="1124" y="522" width="3" height="3" fill="#87cade"/><rect x="1127" y="522" width="3" height="3" fill="#9ed6de"/><rect x="1130" y="522" width="3" height="3" fill="#b1e0de"/><rect x="1133" y="522" width="3" height="3" fill="#bbe5de"/><rect x="1136" y="522" width="3" height="3" fill="#bae4de"/><rect x="1139" y="522" width="3" height="3" fill="#acddde"/><rect x="1142" y="522" width="3" height="3" fill="#91cfde"/><rect x="1145" y="522" width="3" height="3" fill="#6ab0da"/><rect x="1148" y="522" width="3" height="3" fill="#3d81d1"/><rect x="1151" y="522" width="3" height="3" fill="#3858b3"/><rect x="1154" y="522" width="3" height="3" fill="#262a5e"/><rect x="1157" y="522" width="3" height="3" fill="#16131c"/><rect x="1160" y="522" width="3" height="3" fill="#34131f"/><rect x="1163" y="522" width="3" height="3" fill="#5c1a2c"/><rect x="1166" y="522" width="3" height="3" fill="#731e33"/><rect x="1169" y="522" width="3" height="3" fill="#731e33"/><rect x="1172" y="522" width="3" height="3" fill="#5c1a2c"/><rect x="1175" y="522" width="3" height="3" fill="#34131f"/><rect x="1178" y="522" width="3" height="3" fill="#16131c"/><rect x="1181" y="522" width="3" height="3" fill="#262a5e"/><rect x="1184" y="522" width="3" height="3" fill="#3858b3"/><rect x="1187" y="522" width="3" height="3" fill="#3d81d1"/><rect x="1190" y="522" width="3" height="3" fill="#6ab0da"/><rect x="1193" y="522" width="3" height="3" fill="#91cfde"/><rect x="1196" y="522" width="3" height="3" fill="#acddde"/><rect x="1199" y="522" width="3" height="3" fill="#bae4de"/><rect x="1202" y="522" width="3" height="3" fill="#bbe5de"/><rect x="1205" y="522" width="3" height="3" fill="#b1e0de"/><rect x="1208" y="522" width="3" height="3" fill="#9ed6de"/><rect x="1211" y="522" width="3" height="3" fill="#87cade"/><rect x="1214" y="522" width="3" height="3" fill="#70b6db"/><rect x="1121" y="525" width="3" height="3" fill="#a6dade"/><rect x="1124" y="525" width="3" height="3" fill="#b4e1de"/><rect x="1127" y="525" width="3" height="3" fill="#bce5de"/><rect x="1130" y="525" width="3" height="3" fill="#bbe5de"/><rect x="1133" y="525" width="3" height="3" fill="#afdede"/><rect x="1136" y="525" width="3" height="3" fill="#97d2de"/><rect x="1139" y="525" width="3" height="3" fill="#75bbdc"/><rect x="1142" y="525" width="3" height="3" fill="#498fd5"/><rect x="1145" y="525" width="3" height="3" fill="#3a65bd"/><rect x="1148" y="525" width="3" height="3" fill="#2c3778"/><rect x="1151" y="525" width="3" height="3" fill="#17141f"/><rect x="1154" y="525" width="3" height="3" fill="#381320"/><rect x="1157" y="525" width="3" height="3" fill="#7c1f35"/><rect x="1160" y="525" width="3" height="3" fill="#a62e3d"/><rect x="1163" y="525" width="3" height="3" fill="#c04141"/><rect x="1166" y="525" width="3" height="3" fill="#cc4d43"/><rect x="1169" y="525" width="3" height="3" fill="#cc4d43"/><rect x="1172" y="525" width="3" height="3" fill="#c04141"/><rect x="1175" y="525" width="3" height="3" fill="#a62e3d"/><rect x="1178" y="525" width="3" height="3" fill="#7c1f35"/><rect x="1181" y="525" width="3" height="3" fill="#381320"/><rect x="1184" y="525" width="3" height="3" fill="#17141f"/><rect x="1187" y="525" width="3" height="3" fill="#2c3778"/><rect x="1190" y="525" width="3" height="3" fill="#3a65bd"/><rect x="1193" y="525" width="3" height="3" fill="#498fd5"/><rect x="1196" y="525" width="3" height="3" fill="#75bbdc"/><rect x="1199" y="525" width="3" height="3" fill="#97d2de"/><rect x="1202" y="525" width="3" height="3" fill="#afdede"/><rect x="1205" y="525" width="3" height="3" fill="#bbe5de"/><rect x="1208" y="525" width="3" height="3" fill="#bce5de"/><rect x="1211" y="525" width="3" height="3" fill="#b4e1de"/><rect x="1214" y="525" width="3" height="3" fill="#a6dade"/><rect x="1121" y="528" width="3" height="3" fill="#bce5de"/><rect x="1124" y="528" width="3" height="3" fill="#b9e4de"/><rect x="1127" y="528" width="3" height="3" fill="#adddde"/><rect x="1130" y="528" width="3" height="3" fill="#97d3de"/><rect x="1133" y="528" width="3" height="3" fill="#79bfdc"/><rect x="1136" y="528" width="3" height="3" fill="#5399d7"/><rect x="1139" y="528" width="3" height="3" fill="#3b71c6"/><rect x="1142" y="528" width="3" height="3" fill="#33499b"/><rect x="1145" y="528" width="3" height="3" fill="#1e1e3c"/><rect x="1148" y="528" width="3" height="3" fill="#1e1218"/><rect x="1151" y="528" width="3" height="3" fill="#611a2d"/><rect x="1154" y="528" width="3" height="3" fill="#9c2b3b"/><rect x="1157" y="528" width="3" height="3" fill="#c44542"/><rect x="1160" y="528" width="3" height="3" fill="#e06246"/><rect x="1163" y="528" width="3" height="3" fill="#ea825c"/><rect x="1166" y="528" width="3" height="3" fill="#ef9267"/><rect x="1169" y="528" width="3" height="3" fill="#ef9267"/><rect x="1172" y="528" width="3" height="3" fill="#ea825c"/><rect x="1175" y="528" width="3" height="3" fill="#e06246"/><rect x="1178" y="528" width="3" height="3" fill="#c44542"/><rect x="1181" y="528" width="3" height="3" fill="#9c2b3b"/><rect x="1184" y="528" width="3" height="3" fill="#611a2d"/><rect x="1187" y="528" width="3" height="3" fill="#1e1218"/><rect x="1190" y="528" width="3" height="3" fill="#1e1e3c"/><rect x="1193" y="528" width="3" height="3" fill="#33499b"/><rect x="1196" y="528" width="3" height="3" fill="#3b71c6"/><rect x="1199" y="528" width="3" height="3" fill="#5399d7"/><rect x="1202" y="528" width="3" height="3" fill="#79bfdc"/><rect x="1205" y="528" width="3" height="3" fill="#97d3de"/><rect x="1208" y="528" width="3" height="3" fill="#adddde"/><rect x="1211" y="528" width="3" height="3" fill="#b9e4de"/><rect x="1214" y="528" width="3" height="3" fill="#bce5de"/><rect x="1121" y="531" width="3" height="3" fill="#a5dade"/><rect x="1124" y="531" width="3" height="3" fill="#91cfde"/><rect x="1127" y="531" width="3" height="3" fill="#75bbdc"/><rect x="1130" y="531" width="3" height="3" fill="#559bd7"/><rect x="1133" y="531" width="3" height="3" fill="#3c78cb"/><rect x="1136" y="531" width="3" height="3" fill="#3856b2"/><rect x="1139" y="531" width="3" height="3" fill="#282e68"/><rect x="1142" y="531" width="3" height="3" fill="#17141f"/><rect x="1145" y="531" width="3" height="3" fill="#33131f"/><rect x="1148" y="531" width="3" height="3" fill="#731e32"/><rect x="1151" y="531" width="3" height="3" fill="#a32e3d"/><rect x="1154" y="531" width="3" height="3" fill="#c74842"/><rect x="1157" y="531" width="3" height="3" fill="#e16649"/><rect x="1160" y="531" width="3" height="3" fill="#ec8860"/><rect x="1163" y="531" width="3" height="3" fill="#f3a070"/><rect x="1166" y="531" width="3" height="3" fill="#f5ab7c"/><rect x="1169" y="531" width="3" height="3" fill="#f5ab7c"/><rect x="1172" y="531" width="3" height="3" fill="#f3a070"/><rect x="1175" y="531" width="3" height="3" fill="#ec8860"/><rect x="1178" y="531" width="3" height="3" fill="#e16649"/><rect x="1181" y="531" width="3" height="3" fill="#c74842"/><rect x="1184" y="531" width="3" height="3" fill="#a32e3d"/><rect x="1187" y="531" width="3" height="3" fill="#731e32"/><rect x="1190" y="531" width="3" height="3" fill="#33131f"/><rect x="1193" y="531" width="3" height="3" fill="#17141f"/><rect x="1196" y="531" width="3" height="3" fill="#282e68"/><rect x="1199" y="531" width="3" height="3" fill="#3856b2"/><rect x="1202" y="531" width="3" height="3" fill="#3c78cb"/><rect x="1205" y="531" width="3" height="3" fill="#559bd7"/><rect x="1208" y="531" width="3" height="3" fill="#75bbdc"/><rect x="1211" y="531" width="3" height="3" fill="#91cfde"/><rect x="1214" y="531" width="3" height="3" fill="#a5dade"/><rect x="1121" y="534" width="3" height="3" fill="#6bb1da"/><rect x="1124" y="534" width="3" height="3" fill="#4e94d6"/><rect x="1127" y="534" width="3" height="3" fill="#3c78cb"/><rect x="1130" y="534" width="3" height="3" fill="#395db7"/><rect x="1133" y="534" width="3" height="3" fill="#2f3d85"/><rect x="1136" y="534" width="3" height="3" fill="#1f1f40"/><rect x="1139" y="534" width="3" height="3" fill="#16131a"/><rect x="1142" y="534" width="3" height="3" fill="#351320"/><rect x="1145" y="534" width="3" height="3" fill="#681c2f"/><rect x="1148" y="534" width="3" height="3" fill="#922739"/><rect x="1151" y="534" width="3" height="3" fill="#b3333f"/><rect x="1154" y="534" width="3" height="3" fill="#c94a42"/><rect x="1157" y="534" width="3" height="3" fill="#dc5d45"/><rect x="1160" y="534" width="3" height="3" fill="#e57251"/><rect x="1163" y="534" width="3" height="3" fill="#e9815b"/><rect x="1166" y="534" width="3" height="3" fill="#ec8860"/><rect x="1169" y="534" width="3" height="3" fill="#ec8860"/><rect x="1172" y="534" width="3" height="3" fill="#e9815b"/><rect x="1175" y="534" width="3" height="3" fill="#e57251"/><rect x="1178" y="534" width="3" height="3" fill="#dc5d45"/><rect x="1181" y="534" width="3" height="3" fill="#c94a42"/><rect x="1184" y="534" width="3" height="3" fill="#b3333f"/><rect x="1187" y="534" width="3" height="3" fill="#922739"/><rect x="1190" y="534" width="3" height="3" fill="#681c2f"/><rect x="1193" y="534" width="3" height="3" fill="#351320"/><rect x="1196" y="534" width="3" height="3" fill="#16131a"/><rect x="1199" y="534" width="3" height="3" fill="#1f1f40"/><rect x="1202" y="534" width="3" height="3" fill="#2f3d85"/><rect x="1205" y="534" width="3" height="3" fill="#395db7"/><rect x="1208" y="534" width="3" height="3" fill="#3c78cb"/><rect x="1211" y="534" width="3" height="3" fill="#4e94d6"/><rect x="1214" y="534" width="3" height="3" fill="#6bb1da"/><rect x="1121" y="537" width="3" height="3" fill="#3c75c8"/><rect x="1124" y="537" width="3" height="3" fill="#3960b9"/><rect x="1127" y="537" width="3" height="3" fill="#344a9d"/><rect x="1130" y="537" width="3" height="3" fill="#29306d"/><rect x="1133" y="537" width="3" height="3" fill="#1d1d38"/><rect x="1136" y="537" width="3" height="3" fill="#16131c"/><rect x="1139" y="537" width="3" height="3" fill="#211219"/><rect x="1142" y="537" width="3" height="3" fill="#3f1423"/><rect x="1145" y="537" width="3" height="3" fill="#611a2d"/><rect x="1148" y="537" width="3" height="3" fill="#7f2036"/><rect x="1151" y="537" width="3" height="3" fill="#922739"/><rect x="1154" y="537" width="3" height="3" fill="#a32d3c"/><rect x="1157" y="537" width="3" height="3" fill="#b0323f"/><rect x="1160" y="537" width="3" height="3" fill="#b83940"/><rect x="1163" y="537" width="3" height="3" fill="#bd3e41"/><rect x="1166" y="537" width="3" height="3" fill="#c04041"/><rect x="1169" y="537" width="3" height="3" fill="#c04041"/><rect x="1172" y="537" width="3" height="3" fill="#bd3e41"/><rect x="1175" y="537" width="3" height="3" fill="#b83940"/><rect x="1178" y="537" width="3" height="3" fill="#b0323f"/><rect x="1181" y="537" width="3" height="3" fill="#a32d3c"/><rect x="1184" y="537" width="3" height="3" fill="#922739"/><rect x="1187" y="537" width="3" height="3" fill="#7f2036"/><rect x="1190" y="537" width="3" height="3" fill="#611a2d"/><rect x="1193" y="537" width="3" height="3" fill="#3f1423"/><rect x="1196" y="537" width="3" height="3" fill="#211219"/><rect x="1199" y="537" width="3" height="3" fill="#16131c"/><rect x="1202" y="537" width="3" height="3" fill="#1d1d38"/><rect x="1205" y="537" width="3" height="3" fill="#29306d"/><rect x="1208" y="537" width="3" height="3" fill="#344a9d"/><rect x="1211" y="537" width="3" height="3" fill="#3960b9"/><rect x="1214" y="537" width="3" height="3" fill="#3c75c8"/><rect x="1121" y="540" width="3" height="3" fill="#3858b3"/><rect x="1124" y="540" width="3" height="3" fill="#334899"/><rect x="1127" y="540" width="3" height="3" fill="#2c387b"/><rect x="1130" y="540" width="3" height="3" fill="#26295c"/><rect x="1133" y="540" width="3" height="3" fill="#1d1e3b"/><rect x="1136" y="540" width="3" height="3" fill="#171522"/><rect x="1139" y="540" width="3" height="3" fill="#16131c"/><rect x="1142" y="540" width="3" height="3" fill="#161216"/><rect x="1145" y="540" width="3" height="3" fill="#221219"/><rect x="1148" y="540" width="3" height="3" fill="#2e131d"/><rect x="1151" y="540" width="3" height="3" fill="#381320"/><rect x="1154" y="540" width="3" height="3" fill="#411523"/><rect x="1157" y="540" width="3" height="3" fill="#491626"/><rect x="1160" y="540" width="3" height="3" fill="#4e1727"/><rect x="1163" y="540" width="3" height="3" fill="#521828"/><rect x="1166" y="540" width="3" height="3" fill="#531829"/><rect x="1169" y="540" width="3" height="3" fill="#531829"/><rect x="1172" y="540" width="3" height="3" fill="#521828"/><rect x="1175" y="540" width="3" height="3" fill="#4e1727"/><rect x="1178" y="540" width="3" height="3" fill="#491626"/><rect x="1181" y="540" width="3" height="3" fill="#411523"/><rect x="1184" y="540" width="3" height="3" fill="#381320"/><rect x="1187" y="540" width="3" height="3" fill="#2e131d"/><rect x="1190" y="540" width="3" height="3" fill="#221219"/><rect x="1193" y="540" width="3" height="3" fill="#161216"/><rect x="1196" y="540" width="3" height="3" fill="#16131c"/><rect x="1199" y="540" width="3" height="3" fill="#171522"/><rect x="1202" y="540" width="3" height="3" fill="#1d1e3b"/><rect x="1205" y="540" width="3" height="3" fill="#26295c"/><rect x="1208" y="540" width="3" height="3" fill="#2c387b"/><rect x="1211" y="540" width="3" height="3" fill="#334899"/><rect x="1214" y="540" width="3" height="3" fill="#3858b3"/><rect x="1121" y="543" width="3" height="3" fill="#395eb8"/><rect x="1124" y="543" width="3" height="3" fill="#3857b2"/><rect x="1127" y="543" width="3" height="3" fill="#3650a9"/><rect x="1130" y="543" width="3" height="3" fill="#33499b"/><rect x="1133" y="543" width="3" height="3" fill="#30428e"/><rect x="1136" y="543" width="3" height="3" fill="#2e3c82"/><rect x="1139" y="543" width="3" height="3" fill="#2c3678"/><rect x="1142" y="543" width="3" height="3" fill="#2a316f"/><rect x="1145" y="543" width="3" height="3" fill="#282d67"/><rect x="1148" y="543" width="3" height="3" fill="#272a60"/><rect x="1151" y="543" width="3" height="3" fill="#25295b"/><rect x="1154" y="543" width="3" height="3" fill="#242757"/><rect x="1157" y="543" width="3" height="3" fill="#242654"/><rect x="1160" y="543" width="3" height="3" fill="#232652"/><rect x="1163" y="543" width="3" height="3" fill="#232551"/><rect x="1166" y="543" width="3" height="3" fill="#232551"/><rect x="1169" y="543" width="3" height="3" fill="#232551"/><rect x="1172" y="543" width="3" height="3" fill="#232551"/><rect x="1175" y="543" width="3" height="3" fill="#232652"/><rect x="1178" y="543" width="3" height="3" fill="#242654"/><rect x="1181" y="543" width="3" height="3" fill="#242757"/><rect x="1184" y="543" width="3" height="3" fill="#25295b"/><rect x="1187" y="543" width="3" height="3" fill="#272a60"/><rect x="1190" y="543" width="3" height="3" fill="#282d67"/><rect x="1193" y="543" width="3" height="3" fill="#2a316f"/><rect x="1196" y="543" width="3" height="3" fill="#2c3678"/><rect x="1199" y="543" width="3" height="3" fill="#2e3c82"/><rect x="1202" y="543" width="3" height="3" fill="#30428e"/><rect x="1205" y="543" width="3" height="3" fill="#33499b"/><rect x="1208" y="543" width="3" height="3" fill="#3650a9"/><rect x="1211" y="543" width="3" height="3" fill="#3857b2"/><rect x="1214" y="543" width="3" height="3" fill="#395eb8"/><rect x="1121" y="546" width="3" height="3" fill="#4187d4"/><rect x="1124" y="546" width="3" height="3" fill="#3e84d4"/><rect x="1127" y="546" width="3" height="3" fill="#3d82d2"/><rect x="1130" y="546" width="3" height="3" fill="#3d80d1"/><rect x="1133" y="546" width="3" height="3" fill="#3d7ed0"/><rect x="1136" y="546" width="3" height="3" fill="#3d7dcf"/><rect x="1139" y="546" width="3" height="3" fill="#3d7cce"/><rect x="1142" y="546" width="3" height="3" fill="#3c7bcd"/><rect x="1145" y="546" width="3" height="3" fill="#3c7acd"/><rect x="1148" y="546" width="3" height="3" fill="#3c7acc"/><rect x="1151" y="546" width="3" height="3" fill="#3c7acc"/><rect x="1154" y="546" width="3" height="3" fill="#3c7acc"/><rect x="1157" y="546" width="3" height="3" fill="#3c7acc"/><rect x="1160" y="546" width="3" height="3" fill="#3c7acc"/><rect x="1163" y="546" width="3" height="3" fill="#3c7acc"/><rect x="1166" y="546" width="3" height="3" fill="#3c7acc"/><rect x="1169" y="546" width="3" height="3" fill="#3c7acc"/><rect x="1172" y="546" width="3" height="3" fill="#3c7acc"/><rect x="1175" y="546" width="3" height="3" fill="#3c7acc"/><rect x="1178" y="546" width="3" height="3" fill="#3c7acc"/><rect x="1181" y="546" width="3" height="3" fill="#3c7acc"/><rect x="1184" y="546" width="3" height="3" fill="#3c7acc"/><rect x="1187" y="546" width="3" height="3" fill="#3c7acc"/><rect x="1190" y="546" width="3" height="3" fill="#3c7acd"/><rect x="1193" y="546" width="3" height="3" fill="#3c7bcd"/><rect x="1196" y="546" width="3" height="3" fill="#3d7cce"/><rect x="1199" y="546" width="3" height="3" fill="#3d7dcf"/><rect x="1202" y="546" width="3" height="3" fill="#3d7ed0"/><rect x="1205" y="546" width="3" height="3" fill="#3d80d1"/><rect x="1208" y="546" width="3" height="3" fill="#3d82d2"/><rect x="1211" y="546" width="3" height="3" fill="#3e84d4"/><rect x="1214" y="546" width="3" height="3" fill="#4187d4"/><rect x="1121" y="549" width="3" height="3" fill="#84c9de"/><rect x="1124" y="549" width="3" height="3" fill="#84c9de"/><rect x="1127" y="549" width="3" height="3" fill="#84c9de"/><rect x="1130" y="549" width="3" height="3" fill="#84c9de"/><rect x="1133" y="549" width="3" height="3" fill="#83c8de"/><rect x="1136" y="549" width="3" height="3" fill="#83c8de"/><rect x="1139" y="549" width="3" height="3" fill="#83c8de"/><rect x="1142" y="549" width="3" height="3" fill="#84c9de"/><rect x="1145" y="549" width="3" height="3" fill="#84c9de"/><rect x="1148" y="549" width="3" height="3" fill="#84c9de"/><rect x="1151" y="549" width="3" height="3" fill="#84c9de"/><rect x="1154" y="549" width="3" height="3" fill="#84c9de"/><rect x="1157" y="549" width="3" height="3" fill="#85c9de"/><rect x="1160" y="549" width="3" height="3" fill="#85c9de"/><rect x="1163" y="549" width="3" height="3" fill="#85c9de"/><rect x="1166" y="549" width="3" height="3" fill="#85c9de"/><rect x="1169" y="549" width="3" height="3" fill="#85c9de"/><rect x="1172" y="549" width="3" height="3" fill="#85c9de"/><rect x="1175" y="549" width="3" height="3" fill="#85c9de"/><rect x="1178" y="549" width="3" height="3" fill="#85c9de"/><rect x="1181" y="549" width="3" height="3" fill="#84c9de"/><rect x="1184" y="549" width="3" height="3" fill="#84c9de"/><rect x="1187" y="549" width="3" height="3" fill="#84c9de"/><rect x="1190" y="549" width="3" height="3" fill="#84c9de"/><rect x="1193" y="549" width="3" height="3" fill="#84c9de"/><rect x="1196" y="549" width="3" height="3" fill="#83c8de"/><rect x="1199" y="549" width="3" height="3" fill="#83c8de"/><rect x="1202" y="549" width="3" height="3" fill="#83c8de"/><rect x="1205" y="549" width="3" height="3" fill="#84c9de"/><rect x="1208" y="549" width="3" height="3" fill="#84c9de"/><rect x="1211" y="549" width="3" height="3" fill="#84c9de"/><rect x="1214" y="549" width="3" height="3" fill="#84c9de"/><rect x="1121" y="552" width="3" height="3" fill="#b6e2de"/><rect x="1124" y="552" width="3" height="3" fill="#b6e2de"/><rect x="1127" y="552" width="3" height="3" fill="#b6e2de"/><rect x="1130" y="552" width="3" height="3" fill="#b6e2de"/><rect x="1133" y="552" width="3" height="3" fill="#b6e2de"/><rect x="1136" y="552" width="3" height="3" fill="#b6e2de"/><rect x="1139" y="552" width="3" height="3" fill="#b6e2de"/><rect x="1142" y="552" width="3" height="3" fill="#b6e2de"/><rect x="1145" y="552" width="3" height="3" fill="#b6e2de"/><rect x="1148" y="552" width="3" height="3" fill="#b6e2de"/><rect x="1151" y="552" width="3" height="3" fill="#b6e2de"/><rect x="1154" y="552" width="3" height="3" fill="#b6e2de"/><rect x="1157" y="552" width="3" height="3" fill="#b6e2de"/><rect x="1160" y="552" width="3" height="3" fill="#b6e2de"/><rect x="1163" y="552" width="3" height="3" fill="#b6e2de"/><rect x="1166" y="552" width="3" height="3" fill="#b6e2de"/><rect x="1169" y="552" width="3" height="3" fill="#b6e2de"/><rect x="1172" y="552" width="3" height="3" fill="#b6e2de"/><rect x="1175" y="552" width="3" height="3" fill="#b6e2de"/><rect x="1178" y="552" width="3" height="3" fill="#b6e2de"/><rect x="1181" y="552" width="3" height="3" fill="#b6e2de"/><rect x="1184" y="552" width="3" height="3" fill="#b6e2de"/><rect x="1187" y="552" width="3" height="3" fill="#b6e2de"/><rect x="1190" y="552" width="3" height="3" fill="#b6e2de"/><rect x="1193" y="552" width="3" height="3" fill="#b6e2de"/><rect x="1196" y="552" width="3" height="3" fill="#b6e2de"/><rect x="1199" y="552" width="3" height="3" fill="#b6e2de"/><rect x="1202" y="552" width="3" height="3" fill="#b6e2de"/><rect x="1205" y="552" width="3" height="3" fill="#b6e2de"/><rect x="1208" y="552" width="3" height="3" fill="#b6e2de"/><rect x="1211" y="552" width="3" height="3" fill="#b6e2de"/><rect x="1214" y="552" width="3" height="3" fill="#b6e2de"/></g></g>
<rect x="1121.4" y="414.3" width="95.09999999999991" height="140.99999999999994" fill="none" stroke="#111" stroke-width="1.6"/>
<path d="M1116.1,560.1 V409.1 M1116.1,560.1 H1220.8" stroke="#000" stroke-width="1.9" fill="none"/>
<polygon points="1116.1,400.1 1110.3,411.70000000000005 1121.8999999999999,411.70000000000005" fill="#000"/>
<polygon points="1229.8,560.1 1218.2,554.3000000000001 1218.2,565.9" fill="#000"/>
<g transform="translate(1104.9,450) rotate(-90)"><text x="0" y="0" font-size="13.6" font-style="italic">t</text><text x="4.2" y="5.7" font-size="12.6" textLength="30" lengthAdjust="spacingAndGlyphs">burst</text></g>
<text x="1206.6" y="575.4" font-size="13.3" fill="#000" font-style="italic">B</text>
<linearGradient id="icef" x1="0" y1="1" x2="0" y2="0">
<stop offset="0" stop-color="#bde6de"/><stop offset="0.12" stop-color="#79c2dc"/><stop offset="0.25" stop-color="#3c7fd4"/>
<stop offset="0.38" stop-color="#3a4ca8"/><stop offset="0.46" stop-color="#262650"/><stop offset="0.52" stop-color="#1c1a1e"/>
<stop offset="0.62" stop-color="#5a1a30"/><stop offset="0.72" stop-color="#a02a40"/><stop offset="0.84" stop-color="#dc5a40"/>
<stop offset="0.93" stop-color="#f4a070"/><stop offset="1" stop-color="#f8d2a8"/></linearGradient>
<rect x="1250" y="424.6" width="8.8" height="136.6" fill="url(#icef)" stroke="#111" stroke-width="1.6"/>
<path d="M1258.8,426.3 H1264 M1258.8,560.2 H1264 M1258.8,545.4 H1263" stroke="#111" stroke-width="1.2"/>
<path d="M1258.8,474 H1262 M1258.8,531 H1262" stroke="#ccc" stroke-width="1"/>
<text x="1267" y="432" font-size="15" fill="#000">&gt;0</text>
<text x="1267.5" y="564.4" font-size="14" fill="#000">0</text>
<text x="1258.3" y="418.4" font-size="12.5" font-style="italic" transform="rotate(-90 1258.3 418.4)">I</text>
</svg>
</body></html>
